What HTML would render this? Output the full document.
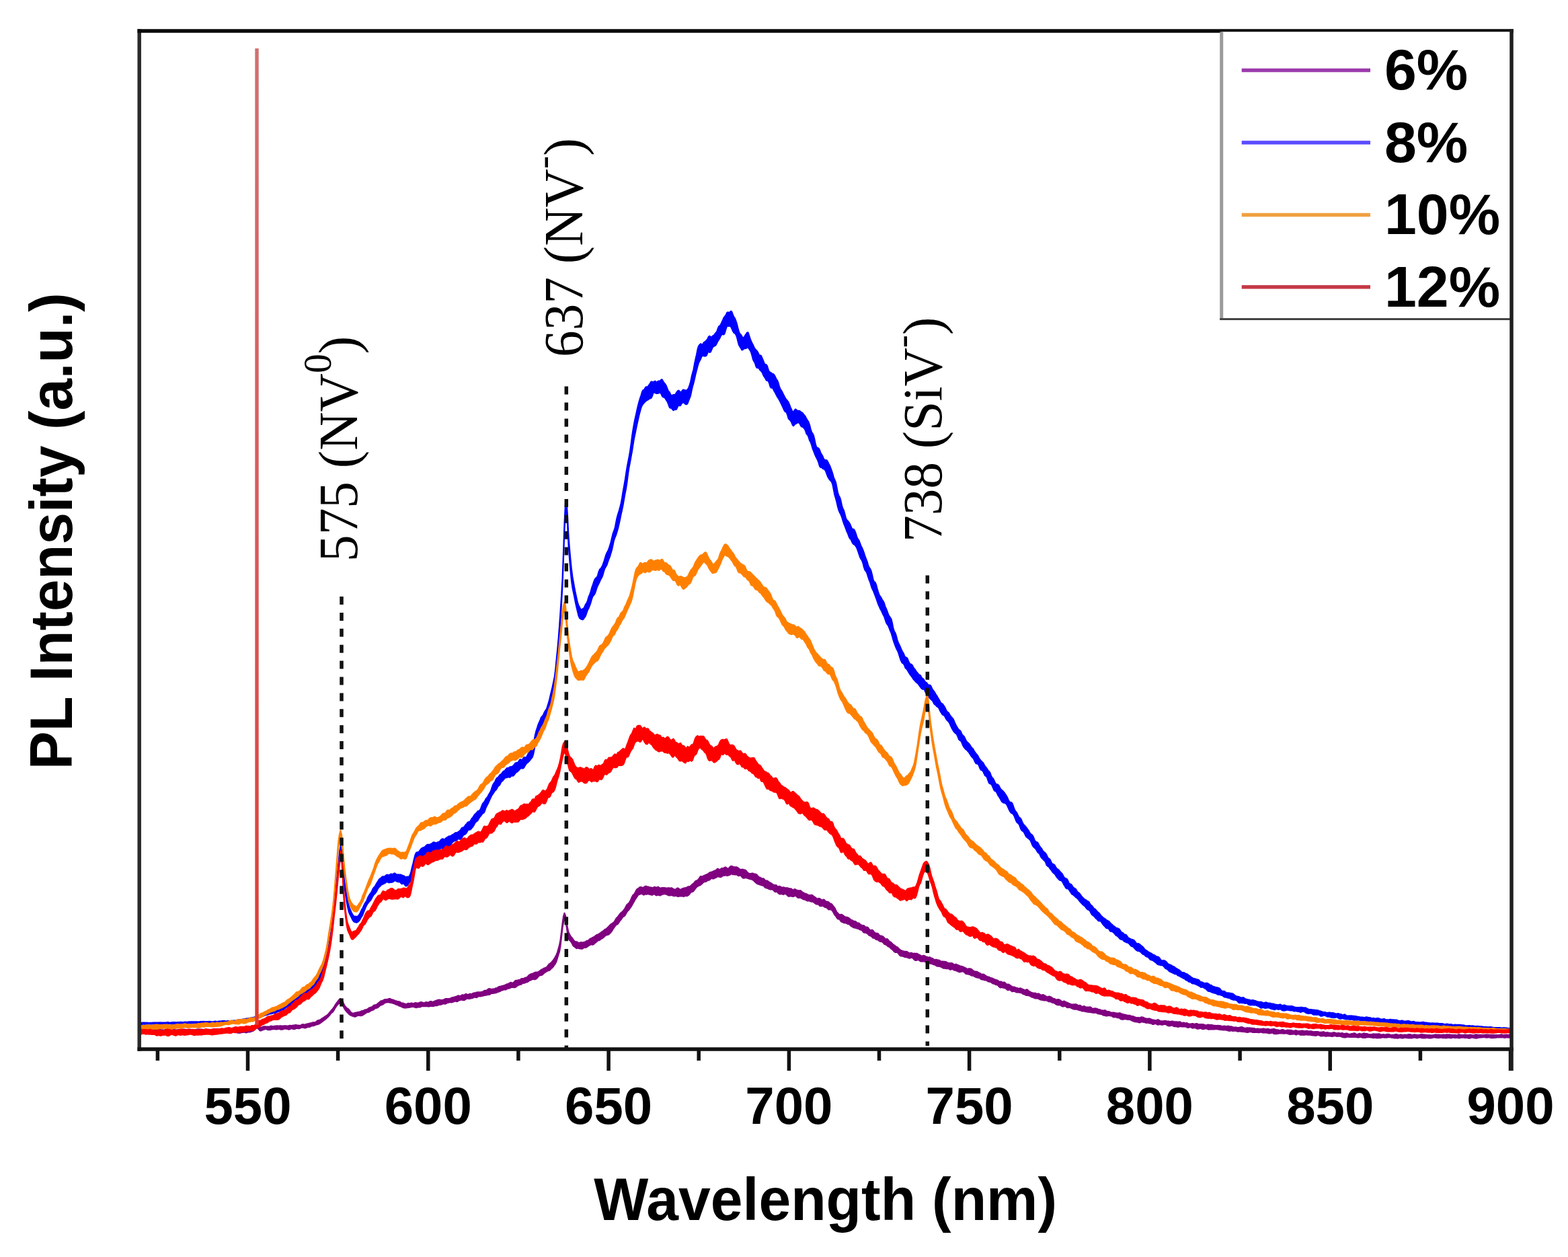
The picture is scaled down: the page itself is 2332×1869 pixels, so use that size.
<!DOCTYPE html>
<html><head><meta charset="utf-8"><title>PL spectra</title>
<style>html,body{margin:0;padding:0;background:#fff;}body{width:2332px;height:1869px;overflow:hidden;}svg{display:block;}</style>
</head><body>
<svg width="2332" height="1869" viewBox="0 0 2332 1869">
<rect width="2332" height="1869" fill="#fff"/>
<path d="M208.0 1530.7 209.5 1530.5 211.0 1530.7 212.5 1531.2 214.0 1531.1 215.5 1531.0 217.0 1531.1 218.5 1530.8 220.0 1530.6 221.5 1531.0 223.0 1531.3 224.5 1531.4 226.0 1531.3 227.5 1531.1 229.0 1531.0 230.5 1530.7 232.0 1530.3 233.5 1530.4 235.0 1530.5 236.5 1530.6 238.0 1531.1 239.5 1531.3 241.0 1531.2 242.5 1531.5 244.0 1531.6 245.5 1531.2 247.0 1530.8 248.5 1530.5 250.0 1530.6 251.5 1530.9 253.0 1531.0 254.5 1531.4 256.0 1531.6 257.5 1531.3 259.0 1531.0 260.5 1531.2 262.0 1531.4 263.5 1531.3 265.0 1531.0 266.5 1531.2 268.0 1531.1 269.5 1530.6 271.0 1530.5 272.5 1530.5 274.0 1530.5 275.5 1530.8 277.0 1531.1 278.5 1531.0 280.0 1530.7 281.5 1530.6 283.0 1530.8 284.5 1531.1 286.0 1531.3 287.5 1531.3 289.0 1531.3 290.5 1531.1 292.0 1530.8 293.5 1530.6 295.0 1530.4 296.5 1530.5 298.0 1530.6 299.5 1530.6 301.0 1530.8 302.5 1531.1 304.0 1531.2 305.5 1531.2 307.0 1531.3 308.5 1531.0 310.0 1530.7 311.5 1530.8 313.0 1530.9 314.5 1530.7 316.0 1530.5 317.5 1530.6 319.0 1530.9 320.5 1530.4 322.0 1530.0 323.5 1530.1 325.0 1530.7 326.5 1531.3 328.0 1531.1 329.5 1530.5 331.0 1530.7 332.5 1530.9 334.0 1530.5 335.5 1530.4 337.0 1530.7 338.5 1530.9 340.0 1531.1 341.5 1531.3 343.0 1531.2 344.5 1530.6 346.0 1530.6 347.5 1530.8 349.0 1530.8 350.5 1530.8 352.0 1531.2 353.5 1531.4 355.0 1531.5 356.5 1531.1 358.0 1530.4 359.5 1530.4 361.0 1530.7 362.5 1530.6 364.0 1530.4 365.5 1530.7 367.0 1530.6 368.5 1530.5 370.0 1530.5 371.5 1530.0 373.0 1529.2 374.5 1528.9 376.0 1528.6 377.5 1527.6 379.0 1526.1 380.5 1524.2 382.0 1523.4 383.5 1524.6 385.0 1525.8 386.5 1527.0 388.0 1528.0 389.5 1527.5 391.0 1526.7 392.5 1526.3 394.0 1526.2 395.5 1526.5 397.0 1526.6 398.5 1526.5 400.0 1526.5 401.5 1526.1 403.0 1525.5 404.5 1525.7 406.0 1526.1 407.5 1526.0 409.0 1525.5 410.5 1525.4 412.0 1525.3 413.5 1525.5 415.0 1525.5 416.5 1525.2 418.0 1525.2 419.5 1525.5 421.0 1525.4 422.5 1525.2 424.0 1525.2 425.5 1525.3 427.0 1525.6 428.5 1525.6 430.0 1525.0 431.5 1524.8 433.0 1524.9 434.5 1524.7 436.0 1524.4 437.5 1524.4 439.0 1524.1 440.5 1524.0 442.0 1524.4 443.5 1524.6 445.0 1524.8 446.5 1524.8 448.0 1524.2 449.5 1523.2 451.0 1523.1 452.5 1523.5 454.0 1523.2 455.5 1522.8 457.0 1522.4 458.5 1522.1 460.0 1521.8 461.5 1521.2 463.0 1520.9 464.5 1520.5 466.0 1520.2 467.5 1520.3 469.0 1520.0 470.5 1518.9 472.0 1517.7 473.5 1516.9 475.0 1516.7 476.5 1516.3 478.0 1515.1 479.5 1513.9 481.0 1513.1 482.5 1512.0 484.0 1510.9 485.5 1510.2 487.0 1509.2 488.5 1507.5 490.0 1505.6 491.5 1503.8 493.0 1502.0 494.5 1500.3 496.0 1498.4 497.5 1496.1 499.0 1493.6 500.5 1491.3 502.0 1489.5 503.5 1487.4 505.0 1485.5 506.5 1485.0 508.0 1485.9 509.5 1488.5 511.0 1492.0 512.5 1495.0 514.0 1496.9 515.5 1498.6 517.0 1499.7 518.5 1500.7 520.0 1502.7 521.5 1504.8 523.0 1505.9 524.5 1506.5 526.0 1506.7 527.5 1506.0 529.0 1505.6 530.5 1505.6 532.0 1504.9 533.5 1504.7 535.0 1504.7 536.5 1503.8 538.0 1503.1 539.5 1503.1 541.0 1502.4 542.5 1501.5 544.0 1501.2 545.5 1500.9 547.0 1500.0 548.5 1498.9 550.0 1498.1 551.5 1497.7 553.0 1497.3 554.5 1496.1 556.0 1494.8 557.5 1494.2 559.0 1494.2 560.5 1493.4 562.0 1491.9 563.5 1490.9 565.0 1489.5 566.5 1488.3 568.0 1488.0 569.5 1487.6 571.0 1486.6 572.5 1486.0 574.0 1486.0 575.5 1485.9 577.0 1485.6 578.5 1485.0 580.0 1484.8 581.5 1485.6 583.0 1486.1 584.5 1486.5 586.0 1487.2 587.5 1487.9 589.0 1488.2 590.5 1488.8 592.0 1489.3 593.5 1489.3 595.0 1489.8 596.5 1491.0 598.0 1491.4 599.5 1491.5 601.0 1492.2 602.5 1492.8 604.0 1493.0 605.5 1492.5 607.0 1491.8 608.5 1492.1 610.0 1492.1 611.5 1491.4 613.0 1491.6 614.5 1492.1 616.0 1491.7 617.5 1491.1 619.0 1491.2 620.5 1491.4 622.0 1491.5 623.5 1490.9 625.0 1490.2 626.5 1490.1 628.0 1490.4 629.5 1491.0 631.0 1491.2 632.5 1490.4 634.0 1490.0 635.5 1490.5 637.0 1490.4 638.5 1489.7 640.0 1488.9 641.5 1489.0 643.0 1489.8 644.5 1489.6 646.0 1488.6 647.5 1488.1 649.0 1487.7 650.5 1487.0 652.0 1486.7 653.5 1486.6 655.0 1486.8 656.5 1486.9 658.0 1486.9 659.5 1486.6 661.0 1485.8 662.5 1485.0 664.0 1485.0 665.5 1485.1 667.0 1485.0 668.5 1484.9 670.0 1484.5 671.5 1483.5 673.0 1483.1 674.5 1483.0 676.0 1482.4 677.5 1481.9 679.0 1481.6 680.5 1480.8 682.0 1480.3 683.5 1481.0 685.0 1480.9 686.5 1479.7 688.0 1479.2 689.5 1479.6 691.0 1478.9 692.5 1478.0 694.0 1478.1 695.5 1479.0 697.0 1478.7 698.5 1477.7 700.0 1478.0 701.5 1478.0 703.0 1477.1 704.5 1476.5 706.0 1476.2 707.5 1476.0 709.0 1475.5 710.5 1475.3 712.0 1475.2 713.5 1475.2 715.0 1475.1 716.5 1474.9 718.0 1474.5 719.5 1473.5 721.0 1472.7 722.5 1472.8 724.0 1472.5 725.5 1471.0 727.0 1470.0 728.5 1470.2 730.0 1470.7 731.5 1470.8 733.0 1470.6 734.5 1470.6 736.0 1470.0 737.5 1469.2 739.0 1469.0 740.5 1468.2 742.0 1466.9 743.5 1466.7 745.0 1466.7 746.5 1466.0 748.0 1465.6 749.5 1465.2 751.0 1464.7 752.5 1464.0 754.0 1463.2 755.5 1462.9 757.0 1462.3 758.5 1461.2 760.0 1460.8 761.5 1461.5 763.0 1461.6 764.5 1460.4 766.0 1458.4 767.5 1457.8 769.0 1457.9 770.5 1457.3 772.0 1457.1 773.5 1456.7 775.0 1455.5 776.5 1454.9 778.0 1455.2 779.5 1454.6 781.0 1453.7 782.5 1453.6 784.0 1452.9 785.5 1451.3 787.0 1449.7 788.5 1448.8 790.0 1448.2 791.5 1447.7 793.0 1447.1 794.5 1446.4 796.0 1445.8 797.5 1445.6 799.0 1445.8 800.5 1445.2 802.0 1444.1 803.5 1443.2 805.0 1441.8 806.5 1441.1 808.0 1440.5 809.5 1439.4 811.0 1439.0 812.5 1438.3 814.0 1436.9 815.5 1434.8 817.0 1433.2 818.5 1432.3 820.0 1431.1 821.5 1429.2 823.0 1427.3 824.5 1425.2 826.0 1422.5 827.5 1419.7 829.0 1415.8 830.5 1410.4 832.0 1405.1 833.5 1397.2 835.0 1385.3 836.5 1372.8 838.0 1362.2 839.5 1357.6 841.0 1361.3 842.5 1369.8 844.0 1379.3 845.5 1386.0 847.0 1389.1 848.5 1391.8 850.0 1393.6 851.5 1395.4 853.0 1397.5 854.5 1399.5 856.0 1400.3 857.5 1400.3 859.0 1400.9 860.5 1402.1 862.0 1401.9 863.5 1401.1 865.0 1401.3 866.5 1401.6 868.0 1401.0 869.5 1400.8 871.0 1400.1 872.5 1398.9 874.0 1398.7 875.5 1397.9 877.0 1396.3 878.5 1395.5 880.0 1394.8 881.5 1393.9 883.0 1393.3 884.5 1392.3 886.0 1390.9 887.5 1390.0 889.0 1389.5 890.5 1388.9 892.0 1387.9 893.5 1386.7 895.0 1385.4 896.5 1384.7 898.0 1383.5 899.5 1382.0 901.0 1381.3 902.5 1380.4 904.0 1378.8 905.5 1377.5 907.0 1375.7 908.5 1374.3 910.0 1373.3 911.5 1372.2 913.0 1371.4 914.5 1369.1 916.0 1366.2 917.5 1364.5 919.0 1362.9 920.5 1360.8 922.0 1358.8 923.5 1357.3 925.0 1356.0 926.5 1354.7 928.0 1352.7 929.5 1350.5 931.0 1347.6 932.5 1345.0 934.0 1343.8 935.5 1342.5 937.0 1340.1 938.5 1336.9 940.0 1333.3 941.5 1330.9 943.0 1329.7 944.5 1327.3 946.0 1324.1 947.5 1322.0 949.0 1321.0 950.5 1320.1 952.0 1318.9 953.5 1318.9 955.0 1319.4 956.5 1319.7 958.0 1319.0 959.5 1317.8 961.0 1317.8 962.5 1318.3 964.0 1318.4 965.5 1319.0 967.0 1319.4 968.5 1319.5 970.0 1320.1 971.5 1319.8 973.0 1318.7 974.5 1319.0 976.0 1319.9 977.5 1319.1 979.0 1318.6 980.5 1319.9 982.0 1320.6 983.5 1320.2 985.0 1320.1 986.5 1320.0 988.0 1320.0 989.5 1320.2 991.0 1320.6 992.5 1320.5 994.0 1320.1 995.5 1320.4 997.0 1320.5 998.5 1320.1 1000.0 1320.9 1001.5 1321.9 1003.0 1322.3 1004.5 1322.5 1006.0 1321.5 1007.5 1320.4 1009.0 1320.8 1010.5 1322.3 1012.0 1322.9 1013.5 1322.0 1015.0 1321.1 1016.5 1320.7 1018.0 1320.2 1019.5 1320.1 1021.0 1319.8 1022.5 1318.7 1024.0 1318.2 1025.5 1318.2 1027.0 1317.5 1028.5 1315.8 1030.0 1314.5 1031.5 1313.5 1033.0 1311.5 1034.5 1309.9 1036.0 1309.4 1037.5 1308.6 1039.0 1307.1 1040.5 1304.7 1042.0 1303.0 1043.5 1303.3 1045.0 1303.3 1046.5 1302.1 1048.0 1301.4 1049.5 1301.0 1051.0 1300.2 1052.5 1299.7 1054.0 1298.6 1055.5 1297.3 1057.0 1297.1 1058.5 1296.5 1060.0 1295.9 1061.5 1295.1 1063.0 1294.4 1064.5 1294.1 1066.0 1292.6 1067.5 1291.6 1069.0 1292.5 1070.5 1293.1 1072.0 1292.0 1073.5 1290.9 1075.0 1290.9 1076.5 1290.8 1078.0 1289.5 1079.5 1289.5 1081.0 1290.9 1082.5 1291.5 1084.0 1290.9 1085.5 1289.1 1087.0 1287.8 1088.5 1287.9 1090.0 1288.7 1091.5 1289.1 1093.0 1289.3 1094.5 1289.3 1096.0 1289.3 1097.5 1290.3 1099.0 1291.6 1100.5 1292.5 1102.0 1293.1 1103.5 1292.6 1105.0 1292.7 1106.5 1293.5 1108.0 1293.5 1109.5 1294.3 1111.0 1296.3 1112.5 1298.0 1114.0 1298.7 1115.5 1299.0 1117.0 1299.0 1118.5 1298.5 1120.0 1298.6 1121.5 1299.4 1123.0 1299.6 1124.5 1299.9 1126.0 1301.0 1127.5 1303.0 1129.0 1304.4 1130.5 1304.4 1132.0 1305.7 1133.5 1306.6 1135.0 1306.1 1136.5 1307.0 1138.0 1309.0 1139.5 1309.4 1141.0 1309.4 1142.5 1310.5 1144.0 1311.7 1145.5 1312.5 1147.0 1313.2 1148.5 1314.3 1150.0 1315.5 1151.5 1316.2 1153.0 1315.9 1154.5 1316.1 1156.0 1317.9 1157.5 1318.4 1159.0 1317.7 1160.5 1318.3 1162.0 1319.2 1163.5 1319.4 1165.0 1319.3 1166.5 1319.6 1168.0 1320.2 1169.5 1320.2 1171.0 1320.1 1172.5 1320.7 1174.0 1321.3 1175.5 1321.2 1177.0 1321.5 1178.5 1322.9 1180.0 1323.2 1181.5 1322.1 1183.0 1322.4 1184.5 1323.6 1186.0 1323.8 1187.5 1324.3 1189.0 1324.3 1190.5 1324.1 1192.0 1325.2 1193.5 1326.5 1195.0 1327.4 1196.5 1328.3 1198.0 1328.8 1199.5 1329.2 1201.0 1330.2 1202.5 1330.7 1204.0 1330.9 1205.5 1331.1 1207.0 1330.7 1208.5 1331.1 1210.0 1332.7 1211.5 1333.6 1213.0 1334.5 1214.5 1336.2 1216.0 1336.4 1217.5 1335.7 1219.0 1336.0 1220.5 1337.1 1222.0 1338.3 1223.5 1338.1 1225.0 1337.4 1226.5 1338.4 1228.0 1340.2 1229.5 1340.7 1231.0 1340.6 1232.5 1341.3 1234.0 1342.9 1235.5 1343.7 1237.0 1344.2 1238.5 1346.3 1240.0 1348.2 1241.5 1349.9 1243.0 1353.2 1244.5 1356.1 1246.0 1357.7 1247.5 1359.3 1249.0 1360.2 1250.5 1359.8 1252.0 1359.7 1253.5 1360.8 1255.0 1362.2 1256.5 1363.2 1258.0 1363.5 1259.5 1363.7 1261.0 1364.3 1262.5 1364.9 1264.0 1366.3 1265.5 1367.6 1267.0 1368.0 1268.5 1368.9 1270.0 1369.9 1271.5 1369.8 1273.0 1370.4 1274.5 1371.9 1276.0 1372.3 1277.5 1372.6 1279.0 1374.0 1280.5 1375.3 1282.0 1375.8 1283.5 1375.9 1285.0 1376.3 1286.5 1377.7 1288.0 1378.8 1289.5 1378.5 1291.0 1379.2 1292.5 1381.5 1294.0 1383.0 1295.5 1383.1 1297.0 1382.6 1298.5 1383.5 1300.0 1385.8 1301.5 1387.1 1303.0 1387.7 1304.5 1387.6 1306.0 1388.2 1307.5 1390.3 1309.0 1391.5 1310.5 1391.6 1312.0 1391.9 1313.5 1392.7 1315.0 1394.3 1316.5 1396.0 1318.0 1396.2 1319.5 1396.0 1321.0 1397.5 1322.5 1399.5 1324.0 1400.4 1325.5 1401.4 1327.0 1403.0 1328.5 1404.4 1330.0 1405.3 1331.5 1406.7 1333.0 1407.7 1334.5 1408.2 1336.0 1409.6 1337.5 1411.4 1339.0 1412.4 1340.5 1413.1 1342.0 1413.8 1343.5 1414.4 1345.0 1414.6 1346.5 1414.7 1348.0 1414.8 1349.5 1415.2 1351.0 1416.3 1352.5 1417.3 1354.0 1416.9 1355.5 1416.7 1357.0 1417.5 1358.5 1417.7 1360.0 1417.6 1361.5 1417.9 1363.0 1417.6 1364.5 1418.0 1366.0 1419.1 1367.5 1419.7 1369.0 1420.7 1370.5 1421.5 1372.0 1421.2 1373.5 1420.7 1375.0 1421.1 1376.5 1422.1 1378.0 1422.5 1379.5 1423.1 1381.0 1423.7 1382.5 1423.1 1384.0 1423.8 1385.5 1424.9 1387.0 1425.1 1388.5 1426.4 1390.0 1427.4 1391.5 1426.8 1393.0 1426.8 1394.5 1427.5 1396.0 1427.4 1397.5 1428.1 1399.0 1429.4 1400.5 1429.5 1402.0 1429.6 1403.5 1429.8 1405.0 1429.8 1406.5 1429.9 1408.0 1430.6 1409.5 1431.6 1411.0 1432.0 1412.5 1432.1 1414.0 1432.1 1415.5 1431.9 1417.0 1432.6 1418.5 1434.1 1420.0 1434.3 1421.5 1433.6 1423.0 1434.1 1424.5 1435.0 1426.0 1435.4 1427.5 1436.2 1429.0 1436.8 1430.5 1436.8 1432.0 1437.5 1433.5 1438.2 1435.0 1438.8 1436.5 1439.5 1438.0 1440.5 1439.5 1440.7 1441.0 1440.2 1442.5 1440.3 1444.0 1440.7 1445.5 1441.5 1447.0 1442.9 1448.5 1444.0 1450.0 1444.5 1451.5 1444.6 1453.0 1444.7 1454.5 1445.7 1456.0 1446.4 1457.5 1447.0 1459.0 1448.2 1460.5 1448.9 1462.0 1448.5 1463.5 1448.9 1465.0 1450.0 1466.5 1451.0 1468.0 1452.1 1469.5 1452.4 1471.0 1452.7 1472.5 1453.7 1474.0 1454.2 1475.5 1454.3 1477.0 1455.1 1478.5 1456.0 1480.0 1456.5 1481.5 1457.0 1483.0 1457.3 1484.5 1458.4 1486.0 1459.6 1487.5 1459.6 1489.0 1459.5 1490.5 1460.4 1492.0 1460.7 1493.5 1460.4 1495.0 1461.4 1496.5 1463.2 1498.0 1463.6 1499.5 1463.5 1501.0 1464.0 1502.5 1465.1 1504.0 1466.2 1505.5 1467.2 1507.0 1467.4 1508.5 1467.4 1510.0 1468.1 1511.5 1468.6 1513.0 1469.0 1514.5 1469.8 1516.0 1469.8 1517.5 1469.2 1519.0 1469.9 1520.5 1470.7 1522.0 1471.1 1523.5 1472.1 1525.0 1472.2 1526.5 1471.3 1528.0 1471.5 1529.5 1472.9 1531.0 1474.2 1532.5 1475.0 1534.0 1475.6 1535.5 1476.1 1537.0 1476.6 1538.5 1476.7 1540.0 1476.6 1541.5 1477.5 1543.0 1477.7 1544.5 1477.3 1546.0 1478.1 1547.5 1479.2 1549.0 1479.5 1550.5 1479.1 1552.0 1479.3 1553.5 1480.0 1555.0 1480.9 1556.5 1482.0 1558.0 1482.3 1559.5 1481.8 1561.0 1481.6 1562.5 1482.1 1564.0 1483.0 1565.5 1484.2 1567.0 1484.9 1568.5 1485.0 1570.0 1486.1 1571.5 1486.6 1573.0 1486.0 1574.5 1485.9 1576.0 1486.6 1577.5 1487.8 1579.0 1489.1 1580.5 1489.4 1582.0 1488.6 1583.5 1488.8 1585.0 1489.9 1586.5 1490.3 1588.0 1491.0 1589.5 1491.8 1591.0 1492.4 1592.5 1493.1 1594.0 1493.4 1595.5 1493.4 1597.0 1493.3 1598.5 1493.3 1600.0 1493.2 1601.5 1493.6 1603.0 1494.8 1604.5 1495.1 1606.0 1494.7 1607.5 1495.5 1609.0 1496.8 1610.5 1496.7 1612.0 1495.9 1613.5 1496.5 1615.0 1497.6 1616.5 1497.6 1618.0 1497.6 1619.5 1497.6 1621.0 1497.2 1622.5 1497.7 1624.0 1499.3 1625.5 1500.0 1627.0 1499.5 1628.5 1499.2 1630.0 1499.4 1631.5 1499.8 1633.0 1500.5 1634.5 1501.1 1636.0 1501.3 1637.5 1501.9 1639.0 1502.2 1640.5 1502.5 1642.0 1502.4 1643.5 1502.0 1645.0 1503.0 1646.5 1504.1 1648.0 1504.0 1649.5 1504.1 1651.0 1505.0 1652.5 1505.6 1654.0 1505.8 1655.5 1505.6 1657.0 1505.6 1658.5 1506.0 1660.0 1506.3 1661.5 1506.5 1663.0 1506.7 1664.5 1506.3 1666.0 1506.3 1667.5 1507.3 1669.0 1507.7 1670.5 1507.9 1672.0 1508.4 1673.5 1508.7 1675.0 1509.1 1676.5 1509.5 1678.0 1509.8 1679.5 1509.8 1681.0 1510.1 1682.5 1510.9 1684.0 1510.9 1685.5 1511.2 1687.0 1511.9 1688.5 1512.5 1690.0 1513.1 1691.5 1513.0 1693.0 1513.0 1694.5 1513.3 1696.0 1512.9 1697.5 1512.3 1699.0 1512.4 1700.5 1512.8 1702.0 1513.7 1703.5 1514.3 1705.0 1514.4 1706.5 1514.7 1708.0 1514.5 1709.5 1514.4 1711.0 1515.0 1712.5 1515.8 1714.0 1516.3 1715.5 1516.4 1717.0 1516.8 1718.5 1517.3 1720.0 1517.1 1721.5 1516.2 1723.0 1516.3 1724.5 1517.5 1726.0 1518.2 1727.5 1518.2 1729.0 1518.3 1730.5 1518.2 1732.0 1517.8 1733.5 1517.9 1735.0 1518.3 1736.5 1518.5 1738.0 1518.4 1739.5 1518.7 1741.0 1518.9 1742.5 1518.6 1744.0 1518.5 1745.5 1518.9 1747.0 1519.2 1748.5 1519.2 1750.0 1519.2 1751.5 1519.5 1753.0 1519.6 1754.5 1519.3 1756.0 1519.9 1757.5 1521.0 1759.0 1520.9 1760.5 1520.5 1762.0 1521.2 1763.5 1521.2 1765.0 1520.9 1766.5 1521.8 1768.0 1522.4 1769.5 1522.5 1771.0 1522.5 1772.5 1522.1 1774.0 1522.0 1775.5 1522.6 1777.0 1522.7 1778.5 1522.1 1780.0 1521.9 1781.5 1522.7 1783.0 1523.3 1784.5 1523.1 1786.0 1523.0 1787.5 1523.0 1789.0 1523.0 1790.5 1523.4 1792.0 1523.9 1793.5 1524.2 1795.0 1523.9 1796.5 1523.5 1798.0 1523.8 1799.5 1524.1 1801.0 1523.7 1802.5 1523.9 1804.0 1524.6 1805.5 1524.7 1807.0 1524.7 1808.5 1525.1 1810.0 1525.0 1811.5 1524.8 1813.0 1524.9 1814.5 1524.9 1816.0 1525.4 1817.5 1525.9 1819.0 1525.8 1820.5 1525.6 1822.0 1525.8 1823.5 1526.0 1825.0 1525.9 1826.5 1525.5 1828.0 1525.9 1829.5 1526.5 1831.0 1526.2 1832.5 1526.6 1834.0 1527.4 1835.5 1527.6 1837.0 1527.6 1838.5 1527.6 1840.0 1527.8 1841.5 1527.9 1843.0 1527.8 1844.5 1527.4 1846.0 1527.0 1847.5 1527.2 1849.0 1527.9 1850.5 1528.4 1852.0 1528.9 1853.5 1528.5 1855.0 1528.1 1856.5 1528.5 1858.0 1528.3 1859.5 1528.4 1861.0 1528.8 1862.5 1528.8 1864.0 1528.9 1865.5 1529.0 1867.0 1529.7 1868.5 1529.9 1870.0 1529.4 1871.5 1529.7 1873.0 1530.1 1874.5 1530.0 1876.0 1530.0 1877.5 1529.8 1879.0 1529.4 1880.5 1529.8 1882.0 1530.4 1883.5 1530.1 1885.0 1529.7 1886.5 1530.0 1888.0 1530.4 1889.5 1530.7 1891.0 1530.4 1892.5 1530.2 1894.0 1530.1 1895.5 1530.1 1897.0 1530.6 1898.5 1531.2 1900.0 1531.3 1901.5 1531.6 1903.0 1531.9 1904.5 1531.7 1906.0 1531.3 1907.5 1531.0 1909.0 1531.3 1910.5 1532.2 1912.0 1532.5 1913.5 1532.0 1915.0 1531.5 1916.5 1531.7 1918.0 1531.8 1919.5 1531.7 1921.0 1531.9 1922.5 1532.6 1924.0 1533.0 1925.5 1532.4 1927.0 1532.0 1928.5 1532.5 1930.0 1533.1 1931.5 1533.1 1933.0 1532.9 1934.5 1532.8 1936.0 1532.5 1937.5 1532.5 1939.0 1533.1 1940.5 1533.3 1942.0 1532.9 1943.5 1532.7 1945.0 1533.0 1946.5 1533.2 1948.0 1533.3 1949.5 1533.3 1951.0 1533.4 1952.5 1534.1 1954.0 1534.3 1955.5 1534.0 1957.0 1534.0 1958.5 1533.9 1960.0 1534.0 1961.5 1534.6 1963.0 1534.8 1964.5 1534.8 1966.0 1534.8 1967.5 1534.3 1969.0 1534.3 1970.5 1535.2 1972.0 1535.4 1973.5 1535.0 1975.0 1535.3 1976.5 1535.8 1978.0 1535.8 1979.5 1535.9 1981.0 1535.8 1982.5 1535.4 1984.0 1535.1 1985.5 1535.5 1987.0 1536.2 1988.5 1536.3 1990.0 1535.9 1991.5 1535.9 1993.0 1536.5 1994.5 1536.3 1996.0 1536.0 1997.5 1536.5 1999.0 1536.9 2000.5 1536.8 2002.0 1536.6 2003.5 1536.6 2005.0 1537.2 2006.5 1537.7 2008.0 1537.5 2009.5 1537.1 2011.0 1537.0 2012.5 1536.6 2014.0 1536.3 2015.5 1536.6 2017.0 1537.6 2018.5 1538.0 2020.0 1537.5 2021.5 1536.8 2023.0 1537.1 2024.5 1537.6 2026.0 1537.2 2027.5 1536.6 2029.0 1536.6 2030.5 1536.8 2032.0 1536.9 2033.5 1537.1 2035.0 1537.8 2036.5 1538.0 2038.0 1537.9 2039.5 1538.0 2041.0 1537.8 2042.5 1537.3 2044.0 1537.5 2045.5 1537.5 2047.0 1537.5 2048.5 1537.6 2050.0 1537.3 2051.5 1537.3 2053.0 1538.0 2054.5 1538.4 2056.0 1538.3 2057.5 1538.0 2059.0 1538.4 2060.5 1538.6 2062.0 1537.9 2063.5 1537.7 2065.0 1537.8 2066.5 1538.1 2068.0 1538.8 2069.5 1538.9 2071.0 1538.7 2072.5 1538.8 2074.0 1538.4 2075.5 1538.0 2077.0 1538.0 2078.5 1538.4 2080.0 1538.9 2081.5 1538.7 2083.0 1538.3 2084.5 1538.6 2086.0 1538.9 2087.5 1538.7 2089.0 1538.4 2090.5 1538.7 2092.0 1538.8 2093.5 1538.4 2095.0 1538.1 2096.5 1537.9 2098.0 1538.2 2099.5 1538.9 2101.0 1539.0 2102.5 1538.4 2104.0 1538.3 2105.5 1538.8 2107.0 1538.8 2108.5 1538.9 2110.0 1538.9 2111.5 1538.6 2113.0 1538.3 2114.5 1538.1 2116.0 1538.3 2117.5 1538.6 2119.0 1538.6 2120.5 1538.7 2122.0 1538.9 2123.5 1538.9 2125.0 1538.9 2126.5 1539.1 2128.0 1539.3 2129.5 1539.3 2131.0 1539.1 2132.5 1538.8 2134.0 1538.4 2135.5 1538.3 2137.0 1538.7 2138.5 1538.5 2140.0 1538.4 2141.5 1538.7 2143.0 1538.8 2144.5 1538.7 2146.0 1538.4 2147.5 1538.4 2149.0 1538.7 2150.5 1538.4 2152.0 1538.3 2153.5 1538.4 2155.0 1538.3 2156.5 1538.5 2158.0 1538.7 2159.5 1538.8 2161.0 1538.9 2162.5 1538.8 2164.0 1538.8 2165.5 1539.2 2167.0 1539.2 2168.5 1538.6 2170.0 1538.3 2171.5 1538.6 2173.0 1538.8 2174.5 1539.0 2176.0 1539.1 2177.5 1538.8 2179.0 1538.6 2180.5 1538.7 2182.0 1538.9 2183.5 1539.0 2185.0 1538.7 2186.5 1538.6 2188.0 1538.7 2189.5 1539.0 2191.0 1539.2 2192.5 1538.9 2194.0 1538.5 2195.5 1538.2 2197.0 1538.4 2198.5 1538.9 2200.0 1538.8 2201.5 1538.8 2203.0 1538.8 2204.5 1538.9 2206.0 1539.0 2207.5 1538.8 2209.0 1538.6 2210.5 1538.5 2212.0 1538.4 2213.5 1538.6 2215.0 1538.7 2216.5 1538.7 2218.0 1538.7 2219.5 1538.7 2221.0 1538.7 2222.5 1538.9 2224.0 1539.1 2225.5 1539.0 2227.0 1539.0 2228.5 1539.1 2230.0 1539.0 2231.5 1538.5 2233.0 1538.2 2234.5 1538.7 2236.0 1539.0 2237.5 1538.8 2239.0 1538.7 2240.5 1538.5 2242.0 1538.8 2243.5 1538.8 2245.0 1538.6 2245.0 1542.8 2243.5 1542.8 2242.0 1542.5 2240.5 1542.5 2239.0 1542.9 2237.5 1542.9 2236.0 1542.6 2234.5 1542.4 2233.0 1542.4 2231.5 1542.5 2230.0 1542.6 2228.5 1542.4 2227.0 1542.3 2225.5 1542.8 2224.0 1543.0 2222.5 1543.1 2221.0 1543.2 2219.5 1543.2 2218.0 1543.2 2216.5 1542.9 2215.0 1542.4 2213.5 1542.4 2212.0 1542.8 2210.5 1542.7 2209.0 1542.4 2207.5 1542.3 2206.0 1542.2 2204.5 1542.4 2203.0 1542.6 2201.5 1542.7 2200.0 1542.8 2198.5 1543.1 2197.0 1543.5 2195.5 1543.8 2194.0 1543.6 2192.5 1543.3 2191.0 1542.9 2189.5 1542.6 2188.0 1542.8 2186.5 1543.5 2185.0 1543.9 2183.5 1543.5 2182.0 1542.9 2180.5 1543.1 2179.0 1543.3 2177.5 1542.7 2176.0 1542.6 2174.5 1542.7 2173.0 1542.8 2171.5 1543.2 2170.0 1543.6 2168.5 1543.2 2167.0 1542.7 2165.5 1543.0 2164.0 1543.2 2162.5 1542.7 2161.0 1542.4 2159.5 1543.0 2158.0 1543.5 2156.5 1543.3 2155.0 1543.0 2153.5 1543.1 2152.0 1543.3 2150.5 1543.4 2149.0 1543.2 2147.5 1543.1 2146.0 1543.3 2144.5 1543.0 2143.0 1542.6 2141.5 1543.0 2140.0 1543.2 2138.5 1543.2 2137.0 1543.0 2135.5 1542.9 2134.0 1542.6 2132.5 1542.4 2131.0 1542.7 2129.5 1543.3 2128.0 1543.6 2126.5 1543.6 2125.0 1543.5 2123.5 1543.0 2122.0 1542.7 2120.5 1543.2 2119.0 1543.4 2117.5 1543.4 2116.0 1543.6 2114.5 1543.3 2113.0 1542.7 2111.5 1542.4 2110.0 1542.7 2108.5 1543.4 2107.0 1543.4 2105.5 1543.1 2104.0 1542.8 2102.5 1542.8 2101.0 1543.2 2099.5 1543.5 2098.0 1543.4 2096.5 1543.5 2095.0 1543.4 2093.5 1543.3 2092.0 1543.3 2090.5 1542.7 2089.0 1542.8 2087.5 1543.4 2086.0 1543.5 2084.5 1543.5 2083.0 1543.0 2081.5 1542.8 2080.0 1543.4 2078.5 1543.7 2077.0 1543.6 2075.5 1543.5 2074.0 1543.5 2072.5 1543.1 2071.0 1542.9 2069.5 1542.8 2068.0 1542.3 2066.5 1542.1 2065.0 1542.3 2063.5 1542.6 2062.0 1542.7 2060.5 1542.8 2059.0 1542.8 2057.5 1542.4 2056.0 1542.2 2054.5 1542.8 2053.0 1543.2 2051.5 1543.2 2050.0 1543.2 2048.5 1543.4 2047.0 1543.2 2045.5 1542.9 2044.0 1543.1 2042.5 1543.3 2041.0 1542.9 2039.5 1542.6 2038.0 1542.4 2036.5 1542.3 2035.0 1542.3 2033.5 1542.2 2032.0 1542.6 2030.5 1543.1 2029.0 1543.1 2027.5 1543.0 2026.0 1542.7 2024.5 1542.1 2023.0 1542.0 2021.5 1542.4 2020.0 1542.6 2018.5 1542.5 2017.0 1542.0 2015.5 1541.7 2014.0 1541.9 2012.5 1542.1 2011.0 1542.0 2009.5 1541.8 2008.0 1542.0 2006.5 1542.0 2005.0 1541.7 2003.5 1541.7 2002.0 1542.4 2000.5 1542.6 1999.0 1542.5 1997.5 1542.2 1996.0 1541.8 1994.5 1541.3 1993.0 1540.8 1991.5 1540.5 1990.0 1540.8 1988.5 1541.1 1987.0 1540.6 1985.5 1540.1 1984.0 1540.3 1982.5 1540.8 1981.0 1541.1 1979.5 1540.8 1978.0 1540.5 1976.5 1540.5 1975.0 1540.5 1973.5 1540.6 1972.0 1540.9 1970.5 1540.5 1969.0 1540.0 1967.5 1540.2 1966.0 1540.5 1964.5 1540.5 1963.0 1540.0 1961.5 1539.0 1960.0 1538.9 1958.5 1539.5 1957.0 1539.9 1955.5 1539.9 1954.0 1539.5 1952.5 1539.5 1951.0 1539.3 1949.5 1538.9 1948.0 1538.8 1946.5 1538.6 1945.0 1538.7 1943.5 1538.5 1942.0 1538.4 1940.5 1538.8 1939.0 1538.9 1937.5 1538.8 1936.0 1538.7 1934.5 1538.9 1933.0 1538.5 1931.5 1537.5 1930.0 1537.5 1928.5 1538.4 1927.0 1538.4 1925.5 1537.6 1924.0 1537.3 1922.5 1537.7 1921.0 1537.8 1919.5 1537.9 1918.0 1537.9 1916.5 1537.5 1915.0 1537.0 1913.5 1536.6 1912.0 1536.5 1910.5 1536.7 1909.0 1536.7 1907.5 1536.5 1906.0 1536.6 1904.5 1536.5 1903.0 1536.6 1901.5 1536.8 1900.0 1537.1 1898.5 1537.2 1897.0 1537.1 1895.5 1537.2 1894.0 1536.7 1892.5 1535.7 1891.0 1535.7 1889.5 1536.3 1888.0 1536.5 1886.5 1536.3 1885.0 1535.9 1883.5 1535.6 1882.0 1535.4 1880.5 1535.3 1879.0 1535.5 1877.5 1535.4 1876.0 1534.8 1874.5 1534.6 1873.0 1535.2 1871.5 1535.3 1870.0 1534.8 1868.5 1535.0 1867.0 1535.0 1865.5 1534.7 1864.0 1535.1 1862.5 1534.9 1861.0 1534.2 1859.5 1534.1 1858.0 1534.3 1856.5 1534.7 1855.0 1535.0 1853.5 1534.7 1852.0 1534.2 1850.5 1534.2 1849.0 1534.1 1847.5 1533.9 1846.0 1533.7 1844.5 1533.4 1843.0 1533.6 1841.5 1533.8 1840.0 1533.5 1838.5 1532.8 1837.0 1532.5 1835.5 1532.8 1834.0 1533.0 1832.5 1532.7 1831.0 1532.3 1829.5 1532.7 1828.0 1532.9 1826.5 1532.5 1825.0 1532.1 1823.5 1531.6 1822.0 1531.3 1820.5 1531.6 1819.0 1531.4 1817.5 1531.2 1816.0 1531.3 1814.5 1530.9 1813.0 1530.8 1811.5 1530.6 1810.0 1530.3 1808.5 1530.2 1807.0 1530.2 1805.5 1530.5 1804.0 1530.4 1802.5 1530.5 1801.0 1530.6 1799.5 1530.5 1798.0 1530.8 1796.5 1530.5 1795.0 1529.6 1793.5 1529.2 1792.0 1529.5 1790.5 1530.1 1789.0 1530.2 1787.5 1529.8 1786.0 1529.0 1784.5 1529.0 1783.0 1529.6 1781.5 1529.8 1780.0 1529.5 1778.5 1528.7 1777.0 1528.0 1775.5 1528.2 1774.0 1528.7 1772.5 1528.2 1771.0 1527.2 1769.5 1527.2 1768.0 1527.8 1766.5 1528.0 1765.0 1527.4 1763.5 1526.4 1762.0 1526.2 1760.5 1526.5 1759.0 1526.4 1757.5 1526.4 1756.0 1526.3 1754.5 1526.3 1753.0 1526.8 1751.5 1527.0 1750.0 1526.3 1748.5 1526.0 1747.0 1526.3 1745.5 1526.0 1744.0 1524.9 1742.5 1524.6 1741.0 1525.1 1739.5 1525.4 1738.0 1525.4 1736.5 1525.0 1735.0 1523.8 1733.5 1523.0 1732.0 1522.9 1730.5 1523.4 1729.0 1523.8 1727.5 1523.7 1726.0 1523.3 1724.5 1523.0 1723.0 1523.6 1721.5 1523.7 1720.0 1522.6 1718.5 1522.0 1717.0 1522.4 1715.5 1523.1 1714.0 1522.9 1712.5 1521.9 1711.0 1521.5 1709.5 1521.6 1708.0 1520.9 1706.5 1520.6 1705.0 1521.0 1703.5 1520.5 1702.0 1520.0 1700.5 1519.9 1699.0 1519.4 1697.5 1519.4 1696.0 1520.2 1694.5 1520.5 1693.0 1520.0 1691.5 1519.6 1690.0 1519.4 1688.5 1519.2 1687.0 1519.0 1685.5 1518.3 1684.0 1517.7 1682.5 1517.1 1681.0 1516.1 1679.5 1515.8 1678.0 1516.0 1676.5 1515.8 1675.0 1515.6 1673.5 1515.3 1672.0 1515.3 1670.5 1515.7 1669.0 1515.7 1667.5 1515.6 1666.0 1514.7 1664.5 1513.5 1663.0 1513.3 1661.5 1513.2 1660.0 1512.3 1658.5 1512.1 1657.0 1512.6 1655.5 1512.2 1654.0 1510.9 1652.5 1510.4 1651.0 1510.4 1649.5 1509.8 1648.0 1510.0 1646.5 1510.6 1645.0 1510.5 1643.5 1509.9 1642.0 1509.7 1640.5 1509.4 1639.0 1508.4 1637.5 1507.9 1636.0 1507.7 1634.5 1507.5 1633.0 1507.3 1631.5 1506.5 1630.0 1505.7 1628.5 1505.7 1627.0 1506.0 1625.5 1505.7 1624.0 1505.4 1622.5 1505.2 1621.0 1504.9 1619.5 1505.0 1618.0 1504.8 1616.5 1504.6 1615.0 1504.3 1613.5 1503.9 1612.0 1503.5 1610.5 1503.5 1609.0 1503.4 1607.5 1502.5 1606.0 1502.3 1604.5 1502.1 1603.0 1501.2 1601.5 1500.7 1600.0 1500.6 1598.5 1500.7 1597.0 1500.6 1595.5 1500.0 1594.0 1499.3 1592.5 1498.6 1591.0 1498.0 1589.5 1497.8 1588.0 1498.3 1586.5 1497.8 1585.0 1496.4 1583.5 1495.9 1582.0 1496.4 1580.5 1496.5 1579.0 1496.0 1577.5 1494.9 1576.0 1494.1 1574.5 1494.4 1573.0 1494.3 1571.5 1493.7 1570.0 1493.1 1568.5 1491.7 1567.0 1491.1 1565.5 1491.1 1564.0 1490.4 1562.5 1489.5 1561.0 1489.2 1559.5 1489.2 1558.0 1488.3 1556.5 1487.6 1555.0 1487.4 1553.5 1487.3 1552.0 1487.4 1550.5 1487.0 1549.0 1486.8 1547.5 1486.6 1546.0 1485.9 1544.5 1485.0 1543.0 1484.6 1541.5 1484.5 1540.0 1484.6 1538.5 1484.1 1537.0 1483.2 1535.5 1482.7 1534.0 1482.4 1532.5 1481.5 1531.0 1480.6 1529.5 1480.3 1528.0 1480.1 1526.5 1480.1 1525.0 1479.3 1523.5 1478.4 1522.0 1478.3 1520.5 1477.3 1519.0 1476.2 1517.5 1475.9 1516.0 1475.7 1514.5 1475.5 1513.0 1475.5 1511.5 1475.4 1510.0 1474.6 1508.5 1473.8 1507.0 1473.9 1505.5 1474.4 1504.0 1473.5 1502.5 1471.8 1501.0 1471.6 1499.5 1472.2 1498.0 1471.8 1496.5 1470.4 1495.0 1469.2 1493.5 1469.1 1492.0 1468.8 1490.5 1468.1 1489.0 1468.2 1487.5 1468.4 1486.0 1467.3 1484.5 1465.3 1483.0 1464.3 1481.5 1464.3 1480.0 1463.6 1478.5 1462.7 1477.0 1462.6 1475.5 1461.7 1474.0 1460.4 1472.5 1459.9 1471.0 1459.8 1469.5 1459.4 1468.0 1458.3 1466.5 1457.4 1465.0 1457.4 1463.5 1457.2 1462.0 1456.5 1460.5 1456.6 1459.0 1456.1 1457.5 1454.7 1456.0 1453.9 1454.5 1453.8 1453.0 1453.6 1451.5 1453.0 1450.0 1452.4 1448.5 1451.5 1447.0 1450.5 1445.5 1450.7 1444.0 1450.3 1442.5 1449.2 1441.0 1448.8 1439.5 1448.4 1438.0 1448.2 1436.5 1447.9 1435.0 1446.6 1433.5 1445.1 1432.0 1444.4 1430.5 1444.6 1429.0 1444.9 1427.5 1445.4 1426.0 1445.1 1424.5 1444.3 1423.0 1443.7 1421.5 1443.0 1420.0 1442.8 1418.5 1442.4 1417.0 1441.1 1415.5 1440.9 1414.0 1441.8 1412.5 1441.6 1411.0 1440.3 1409.5 1440.1 1408.0 1440.2 1406.5 1440.0 1405.0 1439.8 1403.5 1439.7 1402.0 1439.1 1400.5 1438.1 1399.0 1437.5 1397.5 1436.9 1396.0 1436.7 1394.5 1436.8 1393.0 1436.4 1391.5 1435.2 1390.0 1434.5 1388.5 1434.2 1387.0 1433.5 1385.5 1432.9 1384.0 1432.7 1382.5 1432.3 1381.0 1431.5 1379.5 1430.9 1378.0 1431.0 1376.5 1430.5 1375.0 1429.5 1373.5 1429.4 1372.0 1429.6 1370.5 1429.6 1369.0 1429.4 1367.5 1428.2 1366.0 1427.1 1364.5 1427.4 1363.0 1427.9 1361.5 1428.0 1360.0 1427.2 1358.5 1425.6 1357.0 1424.3 1355.5 1423.9 1354.0 1424.2 1352.5 1424.7 1351.0 1424.4 1349.5 1423.6 1348.0 1423.2 1346.5 1423.2 1345.0 1422.7 1343.5 1422.1 1342.0 1421.8 1340.5 1421.6 1339.0 1421.2 1337.5 1419.8 1336.0 1417.5 1334.5 1416.1 1333.0 1416.1 1331.5 1416.0 1330.0 1415.2 1328.5 1413.3 1327.0 1411.7 1325.5 1410.8 1324.0 1409.3 1322.5 1407.7 1321.0 1407.4 1319.5 1406.3 1318.0 1404.6 1316.5 1404.5 1315.0 1403.6 1313.5 1401.6 1312.0 1400.4 1310.5 1399.9 1309.0 1400.0 1307.5 1399.0 1306.0 1397.5 1304.5 1397.2 1303.0 1397.0 1301.5 1395.7 1300.0 1394.7 1298.5 1394.7 1297.0 1393.4 1295.5 1391.7 1294.0 1391.4 1292.5 1390.7 1291.0 1389.1 1289.5 1387.8 1288.0 1387.0 1286.5 1386.8 1285.0 1386.7 1283.5 1385.5 1282.0 1383.5 1280.5 1382.6 1279.0 1382.4 1277.5 1381.4 1276.0 1380.8 1274.5 1380.6 1273.0 1379.9 1271.5 1379.6 1270.0 1379.5 1268.5 1378.6 1267.0 1377.7 1265.5 1376.8 1264.0 1375.0 1262.5 1374.1 1261.0 1374.0 1259.5 1373.2 1258.0 1372.4 1256.5 1372.3 1255.0 1372.2 1253.5 1371.4 1252.0 1370.8 1250.5 1369.8 1249.0 1367.4 1247.5 1366.3 1246.0 1366.4 1244.5 1364.7 1243.0 1362.1 1241.5 1360.4 1240.0 1357.9 1238.5 1355.0 1237.0 1353.2 1235.5 1352.3 1234.0 1352.2 1232.5 1352.5 1231.0 1351.1 1229.5 1349.5 1228.0 1349.3 1226.5 1348.7 1225.0 1347.4 1223.5 1347.1 1222.0 1347.1 1220.5 1347.2 1219.0 1346.9 1217.5 1345.0 1216.0 1344.3 1214.5 1344.6 1213.0 1343.8 1211.5 1342.7 1210.0 1341.4 1208.5 1340.5 1207.0 1340.7 1205.5 1340.3 1204.0 1339.5 1202.5 1339.5 1201.0 1339.5 1199.5 1339.0 1198.0 1338.0 1196.5 1337.6 1195.0 1337.2 1193.5 1336.5 1192.0 1335.6 1190.5 1334.6 1189.0 1334.8 1187.5 1335.1 1186.0 1334.3 1184.5 1332.7 1183.0 1331.7 1181.5 1332.2 1180.0 1333.0 1178.5 1333.0 1177.0 1332.5 1175.5 1332.4 1174.0 1332.8 1172.5 1332.7 1171.0 1331.3 1169.5 1329.8 1168.0 1328.9 1166.5 1329.3 1165.0 1330.0 1163.5 1329.3 1162.0 1329.0 1160.5 1329.6 1159.0 1329.3 1157.5 1328.0 1156.0 1326.4 1154.5 1325.9 1153.0 1326.3 1151.5 1325.0 1150.0 1323.4 1148.5 1322.5 1147.0 1322.3 1145.5 1322.5 1144.0 1322.0 1142.5 1321.4 1141.0 1320.6 1139.5 1320.2 1138.0 1319.8 1136.5 1318.1 1135.0 1316.8 1133.5 1316.5 1132.0 1316.0 1130.5 1315.6 1129.0 1315.0 1127.5 1314.6 1126.0 1314.0 1124.5 1312.7 1123.0 1311.5 1121.5 1309.9 1120.0 1308.5 1118.5 1307.9 1117.0 1307.3 1115.5 1306.9 1114.0 1306.7 1112.5 1306.0 1111.0 1305.5 1109.5 1305.2 1108.0 1305.3 1106.5 1305.8 1105.0 1305.6 1103.5 1304.2 1102.0 1302.1 1100.5 1301.4 1099.0 1302.3 1097.5 1301.9 1096.0 1300.5 1094.5 1300.5 1093.0 1300.5 1091.5 1300.3 1090.0 1300.3 1088.5 1299.4 1087.0 1299.5 1085.5 1300.9 1084.0 1301.4 1082.5 1301.9 1081.0 1301.9 1079.5 1301.3 1078.0 1301.8 1076.5 1302.1 1075.0 1302.1 1073.5 1303.4 1072.0 1304.2 1070.5 1303.9 1069.0 1303.6 1067.5 1303.2 1066.0 1303.9 1064.5 1305.1 1063.0 1305.6 1061.5 1306.4 1060.0 1306.6 1058.5 1305.9 1057.0 1306.5 1055.5 1308.3 1054.0 1308.7 1052.5 1309.0 1051.0 1310.2 1049.5 1311.0 1048.0 1311.1 1046.5 1311.5 1045.0 1313.1 1043.5 1314.6 1042.0 1315.6 1040.5 1316.6 1039.0 1317.1 1037.5 1317.8 1036.0 1319.0 1034.5 1320.8 1033.0 1323.0 1031.5 1324.9 1030.0 1326.0 1028.5 1326.1 1027.0 1327.1 1025.5 1329.4 1024.0 1331.0 1022.5 1332.0 1021.0 1332.2 1019.5 1331.7 1018.0 1332.6 1016.5 1333.1 1015.0 1332.2 1013.5 1332.4 1012.0 1332.4 1010.5 1332.3 1009.0 1333.0 1007.5 1332.7 1006.0 1332.1 1004.5 1332.1 1003.0 1332.3 1001.5 1332.2 1000.0 1331.4 998.5 1331.0 997.0 1331.3 995.5 1331.6 994.0 1331.3 992.5 1330.3 991.0 1329.8 989.5 1329.4 988.0 1329.1 986.5 1329.6 985.0 1330.0 983.5 1330.5 982.0 1331.5 980.5 1331.2 979.0 1330.6 977.5 1331.1 976.0 1331.4 974.5 1330.5 973.0 1329.3 971.5 1329.8 970.0 1330.8 968.5 1330.5 967.0 1330.1 965.5 1329.8 964.0 1329.0 962.5 1329.5 961.0 1329.9 959.5 1329.3 958.0 1330.4 956.5 1330.4 955.0 1328.9 953.5 1328.9 952.0 1329.6 950.5 1330.0 949.0 1331.0 947.5 1333.3 946.0 1335.5 944.5 1337.7 943.0 1340.4 941.5 1343.0 940.0 1345.9 938.5 1348.3 937.0 1350.3 935.5 1352.7 934.0 1354.1 932.5 1355.7 931.0 1358.6 929.5 1361.2 928.0 1362.6 926.5 1363.2 925.0 1365.2 923.5 1367.6 922.0 1369.0 920.5 1371.5 919.0 1373.8 917.5 1374.6 916.0 1375.4 914.5 1377.4 913.0 1379.6 911.5 1381.8 910.0 1384.4 908.5 1386.3 907.0 1387.9 905.5 1389.1 904.0 1390.1 902.5 1390.3 901.0 1390.7 899.5 1392.0 898.0 1393.4 896.5 1394.9 895.0 1395.6 893.5 1396.4 892.0 1397.9 890.5 1398.2 889.0 1398.6 887.5 1400.2 886.0 1401.4 884.5 1402.4 883.0 1404.1 881.5 1404.7 880.0 1404.2 878.5 1404.4 877.0 1405.3 875.5 1406.2 874.0 1407.2 872.5 1408.4 871.0 1409.0 869.5 1409.0 868.0 1409.2 866.5 1410.6 865.0 1410.9 863.5 1410.2 862.0 1410.5 860.5 1409.9 859.0 1409.6 857.5 1410.2 856.0 1409.0 854.5 1407.7 853.0 1406.9 851.5 1404.4 850.0 1401.3 848.5 1399.3 847.0 1397.9 845.5 1395.6 844.0 1387.8 842.5 1377.6 841.0 1369.3 839.5 1366.7 838.0 1371.3 836.5 1380.4 835.0 1393.5 833.5 1406.9 832.0 1415.3 830.5 1419.7 829.0 1424.7 827.5 1429.6 826.0 1432.7 824.5 1434.8 823.0 1437.1 821.5 1438.8 820.0 1439.8 818.5 1441.6 817.0 1442.9 815.5 1443.2 814.0 1443.9 812.5 1444.7 811.0 1445.7 809.5 1446.8 808.0 1448.1 806.5 1449.6 805.0 1450.0 803.5 1450.3 802.0 1450.8 800.5 1452.1 799.0 1454.1 797.5 1455.4 796.0 1456.2 794.5 1456.3 793.0 1455.7 791.5 1456.1 790.0 1457.2 788.5 1457.5 787.0 1458.2 785.5 1459.5 784.0 1460.3 782.5 1460.6 781.0 1461.2 779.5 1461.9 778.0 1461.6 776.5 1462.4 775.0 1463.8 773.5 1464.1 772.0 1464.4 770.5 1465.1 769.0 1466.0 767.5 1467.4 766.0 1468.2 764.5 1468.2 763.0 1468.1 761.5 1468.1 760.0 1468.3 758.5 1469.0 757.0 1469.7 755.5 1469.7 754.0 1470.3 752.5 1471.4 751.0 1471.5 749.5 1471.6 748.0 1472.0 746.5 1472.5 745.0 1473.2 743.5 1474.0 742.0 1474.5 740.5 1475.0 739.0 1475.6 737.5 1476.3 736.0 1476.5 734.5 1476.7 733.0 1476.9 731.5 1476.7 730.0 1477.4 728.5 1478.8 727.0 1479.1 725.5 1479.0 724.0 1479.5 722.5 1479.7 721.0 1479.9 719.5 1480.4 718.0 1480.8 716.5 1481.0 715.0 1481.4 713.5 1481.4 712.0 1481.1 710.5 1482.1 709.0 1483.2 707.5 1483.0 706.0 1482.5 704.5 1483.0 703.0 1484.1 701.5 1484.3 700.0 1484.5 698.5 1485.0 697.0 1485.0 695.5 1484.5 694.0 1484.8 692.5 1486.0 691.0 1486.9 689.5 1487.2 688.0 1487.0 686.5 1486.5 685.0 1486.8 683.5 1487.2 682.0 1487.8 680.5 1489.0 679.0 1489.2 677.5 1488.5 676.0 1488.8 674.5 1489.5 673.0 1490.1 671.5 1490.6 670.0 1490.1 668.5 1490.2 667.0 1490.8 665.5 1491.0 664.0 1491.9 662.5 1492.7 661.0 1492.6 659.5 1492.4 658.0 1492.8 656.5 1493.5 655.0 1493.9 653.5 1494.0 652.0 1494.2 650.5 1495.0 649.0 1495.4 647.5 1495.0 646.0 1495.6 644.5 1496.2 643.0 1496.0 641.5 1495.8 640.0 1496.1 638.5 1496.4 637.0 1496.4 635.5 1496.3 634.0 1496.2 632.5 1496.2 631.0 1496.3 629.5 1496.3 628.0 1496.1 626.5 1496.5 625.0 1497.5 623.5 1497.5 622.0 1497.2 620.5 1497.9 619.0 1498.3 617.5 1497.8 616.0 1497.2 614.5 1497.1 613.0 1497.1 611.5 1497.2 610.0 1497.6 608.5 1497.9 607.0 1497.8 605.5 1498.2 604.0 1498.6 602.5 1498.6 601.0 1498.5 599.5 1498.0 598.0 1497.3 596.5 1496.5 595.0 1496.1 593.5 1495.6 592.0 1494.6 590.5 1494.1 589.0 1493.7 587.5 1492.9 586.0 1492.2 584.5 1491.7 583.0 1491.3 581.5 1491.1 580.0 1490.7 578.5 1490.2 577.0 1490.3 575.5 1490.5 574.0 1490.6 572.5 1491.1 571.0 1492.2 569.5 1493.4 568.0 1494.1 566.5 1494.4 565.0 1495.3 563.5 1496.7 562.0 1498.1 560.5 1498.8 559.0 1498.9 557.5 1499.6 556.0 1501.1 554.5 1501.9 553.0 1502.3 551.5 1502.9 550.0 1504.0 548.5 1504.8 547.0 1505.0 545.5 1505.4 544.0 1506.4 542.5 1507.5 541.0 1508.5 539.5 1509.4 538.0 1510.1 536.5 1510.3 535.0 1510.1 533.5 1510.0 532.0 1510.1 530.5 1510.6 529.0 1511.6 527.5 1511.8 526.0 1511.4 524.5 1510.9 523.0 1510.2 521.5 1509.6 520.0 1508.7 518.5 1507.2 517.0 1505.8 515.5 1504.2 514.0 1502.4 512.5 1500.2 511.0 1497.3 509.5 1494.1 508.0 1491.1 506.5 1490.2 505.0 1491.5 503.5 1492.6 502.0 1493.8 500.5 1495.8 499.0 1498.1 497.5 1500.6 496.0 1503.2 494.5 1505.1 493.0 1506.0 491.5 1507.6 490.0 1509.9 488.5 1511.4 487.0 1512.8 485.5 1514.3 484.0 1515.6 482.5 1516.7 481.0 1517.8 479.5 1518.9 478.0 1519.9 476.5 1521.1 475.0 1522.0 473.5 1522.8 472.0 1523.3 470.5 1523.5 469.0 1524.0 467.5 1524.9 466.0 1525.3 464.5 1525.3 463.0 1525.6 461.5 1526.5 460.0 1527.1 458.5 1526.9 457.0 1527.2 455.5 1528.1 454.0 1528.6 452.5 1528.4 451.0 1527.9 449.5 1527.6 448.0 1528.0 446.5 1528.7 445.0 1529.3 443.5 1529.3 442.0 1529.0 440.5 1529.1 439.0 1529.7 437.5 1530.2 436.0 1530.1 434.5 1529.4 433.0 1529.3 431.5 1530.1 430.0 1530.7 428.5 1530.5 427.0 1529.9 425.5 1529.7 424.0 1529.6 422.5 1529.8 421.0 1530.4 419.5 1530.7 418.0 1530.7 416.5 1530.4 415.0 1530.0 413.5 1530.1 412.0 1530.5 410.5 1530.5 409.0 1530.2 407.5 1530.3 406.0 1530.3 404.5 1530.4 403.0 1530.9 401.5 1531.2 400.0 1531.3 398.5 1531.2 397.0 1530.6 395.5 1530.1 394.0 1530.2 392.5 1530.8 391.0 1531.4 389.5 1531.8 388.0 1532.6 386.5 1532.4 385.0 1530.7 383.5 1529.0 382.0 1528.3 380.5 1529.1 379.0 1530.7 377.5 1532.2 376.0 1533.1 374.5 1533.4 373.0 1534.1 371.5 1534.6 370.0 1534.5 368.5 1534.6 367.0 1535.2 365.5 1535.4 364.0 1534.8 362.5 1534.7 361.0 1535.0 359.5 1535.0 358.0 1535.6 356.5 1535.9 355.0 1535.8 353.5 1535.7 352.0 1535.3 350.5 1534.8 349.0 1534.6 347.5 1534.5 346.0 1534.7 344.5 1535.1 343.0 1535.5 341.5 1535.9 340.0 1535.7 338.5 1535.3 337.0 1535.3 335.5 1535.1 334.0 1535.2 332.5 1535.5 331.0 1535.2 329.5 1534.8 328.0 1534.8 326.5 1535.0 325.0 1535.0 323.5 1535.2 322.0 1535.5 320.5 1535.5 319.0 1535.7 317.5 1535.4 316.0 1535.1 314.5 1535.4 313.0 1535.1 311.5 1534.7 310.0 1534.8 308.5 1535.1 307.0 1535.6 305.5 1535.7 304.0 1535.6 302.5 1535.6 301.0 1535.2 299.5 1535.0 298.0 1534.9 296.5 1534.7 295.0 1534.7 293.5 1534.9 292.0 1535.2 290.5 1535.2 289.0 1535.2 287.5 1535.5 286.0 1535.6 284.5 1535.6 283.0 1535.6 281.5 1535.4 280.0 1535.0 278.5 1535.3 277.0 1535.7 275.5 1535.9 274.0 1535.8 272.5 1535.4 271.0 1535.0 269.5 1534.7 268.0 1534.5 266.5 1534.7 265.0 1535.1 263.5 1535.0 262.0 1534.7 260.5 1535.0 259.0 1535.3 257.5 1535.2 256.0 1535.0 254.5 1535.2 253.0 1535.3 251.5 1535.0 250.0 1534.7 248.5 1534.7 247.0 1535.0 245.5 1535.4 244.0 1535.3 242.5 1534.9 241.0 1534.8 239.5 1535.2 238.0 1535.6 236.5 1535.8 235.0 1535.7 233.5 1535.5 232.0 1535.7 230.5 1535.5 229.0 1534.8 227.5 1534.7 226.0 1535.2 224.5 1535.3 223.0 1534.9 221.5 1534.9 220.0 1534.9 218.5 1534.9 217.0 1535.1 215.5 1535.2 214.0 1535.5 212.5 1535.3 211.0 1534.8 209.5 1534.6 208.0 1534.6Z" fill="#800080" stroke="#800080" stroke-width="2.0" stroke-linejoin="round"/>
<path d="M208.0 1520.9 209.5 1520.8 211.0 1520.7 212.5 1520.6 214.0 1520.6 215.5 1520.6 217.0 1520.7 218.5 1520.6 220.0 1520.7 221.5 1520.9 223.0 1520.8 224.5 1520.8 226.0 1520.8 227.5 1520.6 229.0 1520.4 230.5 1520.4 232.0 1520.5 233.5 1520.5 235.0 1520.4 236.5 1520.4 238.0 1520.3 239.5 1520.4 241.0 1520.5 242.5 1520.6 244.0 1520.5 245.5 1520.5 247.0 1520.4 248.5 1520.1 250.0 1520.0 251.5 1520.4 253.0 1520.6 254.5 1520.4 256.0 1520.1 257.5 1520.1 259.0 1520.1 260.5 1520.1 262.0 1520.2 263.5 1520.1 265.0 1520.0 266.5 1520.0 268.0 1519.8 269.5 1519.7 271.0 1519.9 272.5 1519.9 274.0 1519.7 275.5 1519.6 277.0 1519.7 278.5 1519.7 280.0 1519.5 281.5 1519.3 283.0 1519.3 284.5 1519.3 286.0 1519.3 287.5 1519.3 289.0 1519.3 290.5 1519.3 292.0 1519.2 293.5 1519.3 295.0 1519.4 296.5 1519.3 298.0 1519.1 299.5 1519.1 301.0 1518.9 302.5 1518.8 304.0 1519.0 305.5 1519.2 307.0 1519.0 308.5 1518.9 310.0 1518.9 311.5 1518.8 313.0 1518.9 314.5 1519.2 316.0 1519.2 317.5 1519.0 319.0 1518.7 320.5 1518.6 322.0 1518.9 323.5 1518.9 325.0 1518.6 326.5 1518.6 328.0 1518.5 329.5 1518.2 331.0 1518.0 332.5 1517.9 334.0 1518.1 335.5 1518.4 337.0 1518.4 338.5 1518.0 340.0 1517.9 341.5 1518.0 343.0 1517.9 344.5 1517.8 346.0 1517.7 347.5 1517.6 349.0 1517.5 350.5 1517.4 352.0 1517.2 353.5 1516.8 355.0 1516.5 356.5 1516.2 358.0 1515.9 359.5 1515.7 361.0 1515.5 362.5 1515.2 364.0 1515.0 365.5 1514.7 367.0 1514.4 368.5 1514.3 370.0 1514.0 371.5 1513.7 373.0 1513.5 374.5 1513.3 376.0 1513.0 377.5 1512.6 379.0 1512.0 380.5 1511.3 382.0 1510.8 383.5 1510.7 385.0 1510.3 386.5 1509.7 388.0 1509.1 389.5 1508.5 391.0 1507.8 392.5 1507.2 394.0 1506.8 395.5 1506.3 397.0 1505.8 398.5 1505.2 400.0 1504.5 401.5 1503.9 403.0 1503.5 404.5 1503.4 406.0 1503.4 407.5 1502.8 409.0 1502.1 410.5 1501.8 412.0 1501.4 413.5 1501.1 415.0 1500.5 416.5 1499.8 418.0 1499.1 419.5 1498.2 421.0 1497.1 422.5 1495.9 424.0 1495.2 425.5 1494.2 427.0 1492.9 428.5 1492.2 430.0 1491.7 431.5 1490.5 433.0 1489.1 434.5 1488.2 436.0 1487.1 437.5 1485.4 439.0 1484.1 440.5 1482.9 442.0 1481.2 443.5 1479.9 445.0 1479.0 446.5 1477.7 448.0 1475.9 449.5 1474.5 451.0 1474.0 452.5 1473.3 454.0 1472.1 455.5 1470.6 457.0 1469.8 458.5 1469.3 460.0 1467.9 461.5 1466.9 463.0 1466.1 464.5 1464.6 466.0 1463.2 467.5 1461.8 469.0 1460.3 470.5 1458.2 472.0 1455.3 473.5 1452.2 475.0 1449.5 476.5 1447.5 478.0 1444.9 479.5 1440.8 481.0 1435.6 482.5 1429.9 484.0 1424.9 485.5 1420.0 487.0 1413.9 488.5 1407.1 490.0 1399.8 491.5 1390.9 493.0 1380.9 494.5 1368.9 496.0 1355.0 497.5 1341.2 499.0 1327.1 500.5 1311.6 502.0 1296.6 503.5 1282.5 505.0 1266.4 506.5 1257.8 508.0 1263.8 509.5 1278.0 511.0 1295.1 512.5 1310.7 514.0 1321.0 515.5 1330.7 517.0 1339.3 518.5 1345.9 520.0 1350.5 521.5 1353.8 523.0 1357.1 524.5 1360.0 526.0 1362.1 527.5 1362.7 529.0 1362.5 530.5 1363.0 532.0 1362.5 533.5 1360.9 535.0 1358.9 536.5 1355.6 538.0 1352.5 539.5 1350.0 541.0 1346.7 542.5 1343.5 544.0 1341.4 545.5 1338.6 547.0 1334.8 548.5 1332.0 550.0 1329.6 551.5 1327.6 553.0 1325.2 554.5 1321.6 556.0 1319.6 557.5 1318.2 559.0 1315.4 560.5 1312.8 562.0 1310.5 563.5 1308.0 565.0 1306.5 566.5 1305.7 568.0 1303.9 569.5 1303.2 571.0 1303.5 572.5 1302.8 574.0 1301.6 575.5 1300.5 577.0 1300.9 578.5 1301.4 580.0 1300.4 581.5 1299.4 583.0 1299.7 584.5 1300.0 586.0 1298.6 587.5 1298.5 589.0 1300.1 590.5 1300.4 592.0 1300.2 593.5 1300.5 595.0 1300.6 596.5 1300.6 598.0 1301.5 599.5 1301.9 601.0 1302.4 602.5 1304.0 604.0 1304.1 605.5 1303.5 607.0 1304.0 608.5 1303.2 610.0 1300.6 611.5 1295.5 613.0 1288.9 614.5 1283.3 616.0 1276.8 617.5 1271.0 619.0 1268.0 620.5 1267.2 622.0 1266.9 623.5 1266.0 625.0 1263.7 626.5 1262.0 628.0 1260.9 629.5 1260.0 631.0 1259.8 632.5 1258.5 634.0 1257.0 635.5 1255.8 637.0 1255.7 638.5 1256.0 640.0 1255.1 641.5 1254.6 643.0 1253.6 644.5 1252.3 646.0 1252.4 647.5 1253.1 649.0 1253.3 650.5 1252.5 652.0 1252.0 653.5 1251.5 655.0 1249.8 656.5 1248.0 658.0 1247.3 659.5 1247.6 661.0 1248.1 662.5 1247.0 664.0 1245.5 665.5 1244.9 667.0 1243.6 668.5 1243.2 670.0 1243.1 671.5 1242.0 673.0 1241.2 674.5 1240.4 676.0 1239.2 677.5 1238.1 679.0 1238.2 680.5 1237.7 682.0 1236.6 683.5 1235.6 685.0 1233.8 686.5 1231.6 688.0 1230.4 689.5 1230.3 691.0 1228.6 692.5 1226.3 694.0 1224.9 695.5 1222.9 697.0 1222.0 698.5 1222.2 700.0 1220.1 701.5 1217.2 703.0 1215.6 704.5 1213.4 706.0 1211.0 707.5 1209.8 709.0 1208.3 710.5 1206.3 712.0 1205.7 713.5 1205.0 715.0 1202.2 716.5 1198.1 718.0 1194.7 719.5 1193.2 721.0 1191.1 722.5 1187.8 724.0 1186.1 725.5 1184.3 727.0 1181.2 728.5 1178.9 730.0 1176.0 731.5 1171.5 733.0 1167.2 734.5 1164.6 736.0 1162.6 737.5 1159.1 739.0 1156.8 740.5 1156.2 742.0 1154.2 743.5 1152.0 745.0 1151.3 746.5 1149.7 748.0 1147.3 749.5 1146.5 751.0 1145.5 752.5 1143.6 754.0 1142.0 755.5 1141.9 757.0 1141.4 758.5 1140.2 760.0 1140.0 761.5 1139.7 763.0 1138.9 764.5 1137.0 766.0 1135.0 767.5 1134.0 769.0 1134.1 770.5 1133.5 772.0 1130.9 773.5 1129.0 775.0 1129.7 776.5 1130.1 778.0 1127.9 779.5 1125.7 781.0 1126.3 782.5 1126.4 784.0 1123.7 785.5 1120.6 787.0 1118.9 788.5 1116.8 790.0 1114.6 791.5 1112.3 793.0 1106.9 794.5 1099.9 796.0 1092.5 797.5 1086.5 799.0 1082.0 800.5 1077.2 802.0 1073.8 803.5 1070.3 805.0 1066.4 806.5 1064.9 808.0 1063.2 809.5 1059.4 811.0 1056.8 812.5 1055.0 814.0 1050.9 815.5 1046.1 817.0 1040.9 818.5 1034.2 820.0 1028.1 821.5 1021.8 823.0 1014.7 824.5 1007.8 826.0 997.0 827.5 981.5 829.0 966.5 830.5 950.4 832.0 930.9 833.5 908.9 835.0 886.2 836.5 860.1 838.0 819.6 839.5 776.6 841.0 747.4 842.5 743.7 844.0 765.7 845.5 795.7 847.0 815.4 848.5 831.7 850.0 846.5 851.5 857.9 853.0 866.3 854.5 874.8 856.0 882.2 857.5 889.0 859.0 895.9 860.5 900.2 862.0 902.8 863.5 906.0 865.0 906.7 866.5 905.3 868.0 904.7 869.5 902.1 871.0 898.5 872.5 896.6 874.0 892.8 875.5 887.4 877.0 884.1 878.5 879.7 880.0 874.4 881.5 870.2 883.0 865.5 884.5 861.5 886.0 859.6 887.5 858.6 889.0 855.6 890.5 850.1 892.0 846.6 893.5 845.4 895.0 843.1 896.5 839.6 898.0 835.7 899.5 830.8 901.0 825.7 902.5 822.1 904.0 819.6 905.5 816.0 907.0 811.2 908.5 806.3 910.0 800.1 911.5 793.6 913.0 789.7 914.5 785.4 916.0 777.8 917.5 770.3 919.0 764.8 920.5 760.1 922.0 754.9 923.5 748.7 925.0 740.9 926.5 731.5 928.0 723.1 929.5 714.8 931.0 704.9 932.5 695.3 934.0 687.1 935.5 679.6 937.0 671.2 938.5 660.5 940.0 648.7 941.5 638.6 943.0 630.3 944.5 622.7 946.0 616.1 947.5 609.3 949.0 602.7 950.5 597.0 952.0 592.1 953.5 587.7 955.0 582.5 956.5 579.9 958.0 579.7 959.5 576.6 961.0 575.1 962.5 575.7 964.0 574.1 965.5 572.0 967.0 569.8 968.5 567.4 970.0 567.6 971.5 568.4 973.0 567.1 974.5 566.6 976.0 568.1 977.5 567.7 979.0 566.5 980.5 566.6 982.0 566.1 983.5 564.3 985.0 564.6 986.5 567.6 988.0 569.7 989.5 571.3 991.0 573.9 992.5 578.0 994.0 581.4 995.5 582.8 997.0 585.9 998.5 588.3 1000.0 587.7 1001.5 586.9 1003.0 587.0 1004.5 586.4 1006.0 583.8 1007.5 581.6 1009.0 580.5 1010.5 581.3 1012.0 583.4 1013.5 582.7 1015.0 580.2 1016.5 579.5 1018.0 579.9 1019.5 580.5 1021.0 580.4 1022.5 579.4 1024.0 577.0 1025.5 572.9 1027.0 568.0 1028.5 560.6 1030.0 554.5 1031.5 549.2 1033.0 540.8 1034.5 533.6 1036.0 527.2 1037.5 519.4 1039.0 514.6 1040.5 512.6 1042.0 511.1 1043.5 512.3 1045.0 512.3 1046.5 509.6 1048.0 508.3 1049.5 507.2 1051.0 505.7 1052.5 503.5 1054.0 500.4 1055.5 499.6 1057.0 501.4 1058.5 501.0 1060.0 499.3 1061.5 498.9 1063.0 496.8 1064.5 494.8 1066.0 493.4 1067.5 489.0 1069.0 485.3 1070.5 484.5 1072.0 482.4 1073.5 479.2 1075.0 476.0 1076.5 472.3 1078.0 470.4 1079.5 468.7 1081.0 465.1 1082.5 464.2 1084.0 465.0 1085.5 464.1 1087.0 462.6 1088.5 463.7 1090.0 468.2 1091.5 471.3 1093.0 473.4 1094.5 477.4 1096.0 481.9 1097.5 488.1 1099.0 493.5 1100.5 496.4 1102.0 497.7 1103.5 500.2 1105.0 502.7 1106.5 501.7 1108.0 499.0 1109.5 496.9 1111.0 494.4 1112.5 494.2 1114.0 498.4 1115.5 503.1 1117.0 507.0 1118.5 510.1 1120.0 513.0 1121.5 516.6 1123.0 518.8 1124.5 520.6 1126.0 521.9 1127.5 524.4 1129.0 528.0 1130.5 528.2 1132.0 528.9 1133.5 532.3 1135.0 535.9 1136.5 539.9 1138.0 542.3 1139.5 542.0 1141.0 544.0 1142.5 549.2 1144.0 552.8 1145.5 553.5 1147.0 554.4 1148.5 555.8 1150.0 556.1 1151.5 557.4 1153.0 560.3 1154.5 563.5 1156.0 565.5 1157.5 569.1 1159.0 574.6 1160.5 578.2 1162.0 580.5 1163.5 583.1 1165.0 586.3 1166.5 589.1 1168.0 591.9 1169.5 594.2 1171.0 595.8 1172.5 597.8 1174.0 601.3 1175.5 605.4 1177.0 608.5 1178.5 611.9 1180.0 612.7 1181.5 610.0 1183.0 608.4 1184.5 609.4 1186.0 610.8 1187.5 610.8 1189.0 610.7 1190.5 612.1 1192.0 613.0 1193.5 613.9 1195.0 616.0 1196.5 617.5 1198.0 619.6 1199.5 622.8 1201.0 625.1 1202.5 627.4 1204.0 631.5 1205.5 637.6 1207.0 642.4 1208.5 644.5 1210.0 647.5 1211.5 653.8 1213.0 661.1 1214.5 665.1 1216.0 665.9 1217.5 666.4 1219.0 669.1 1220.5 673.2 1222.0 675.8 1223.5 678.3 1225.0 682.2 1226.5 684.2 1228.0 684.0 1229.5 684.2 1231.0 686.3 1232.5 689.5 1234.0 692.2 1235.5 696.2 1237.0 700.1 1238.5 704.8 1240.0 710.4 1241.5 713.5 1243.0 717.3 1244.5 724.7 1246.0 732.7 1247.5 736.9 1249.0 739.4 1250.5 744.4 1252.0 751.5 1253.5 756.3 1255.0 759.0 1256.5 764.5 1258.0 770.4 1259.5 773.3 1261.0 774.7 1262.5 776.7 1264.0 778.8 1265.5 782.5 1267.0 786.3 1268.5 786.6 1270.0 787.1 1271.5 789.8 1273.0 793.7 1274.5 798.7 1276.0 801.7 1277.5 803.6 1279.0 807.6 1280.5 811.7 1282.0 814.5 1283.5 818.1 1285.0 822.2 1286.5 826.8 1288.0 830.8 1289.5 834.6 1291.0 839.8 1292.5 843.7 1294.0 845.5 1295.5 848.7 1297.0 854.5 1298.5 861.3 1300.0 865.1 1301.5 865.7 1303.0 869.1 1304.5 874.8 1306.0 879.7 1307.5 884.2 1309.0 886.7 1310.5 888.7 1312.0 891.8 1313.5 893.6 1315.0 896.9 1316.5 901.8 1318.0 905.0 1319.5 908.8 1321.0 913.2 1322.5 916.1 1324.0 918.2 1325.5 920.6 1327.0 926.4 1328.5 934.4 1330.0 938.9 1331.5 941.0 1333.0 945.8 1334.5 951.6 1336.0 955.8 1337.5 958.7 1339.0 961.9 1340.5 965.8 1342.0 968.7 1343.5 971.0 1345.0 974.7 1346.5 977.5 1348.0 977.6 1349.5 979.0 1351.0 982.6 1352.5 985.9 1354.0 987.5 1355.5 987.8 1357.0 989.4 1358.5 992.7 1360.0 994.4 1361.5 996.3 1363.0 998.9 1364.5 1000.4 1366.0 1002.5 1367.5 1003.5 1369.0 1004.1 1370.5 1007.1 1372.0 1009.0 1373.5 1009.7 1375.0 1012.4 1376.5 1014.4 1378.0 1014.9 1379.5 1017.2 1381.0 1018.7 1382.5 1018.4 1384.0 1019.3 1385.5 1022.3 1387.0 1025.5 1388.5 1027.1 1390.0 1029.3 1391.5 1032.0 1393.0 1034.0 1394.5 1036.8 1396.0 1039.2 1397.5 1041.8 1399.0 1044.9 1400.5 1045.9 1402.0 1046.8 1403.5 1049.0 1405.0 1051.2 1406.5 1054.4 1408.0 1057.6 1409.5 1058.7 1411.0 1060.1 1412.5 1062.8 1414.0 1065.0 1415.5 1066.8 1417.0 1068.2 1418.5 1070.9 1420.0 1074.8 1421.5 1077.7 1423.0 1080.4 1424.5 1083.0 1426.0 1085.0 1427.5 1085.9 1429.0 1087.8 1430.5 1091.6 1432.0 1093.6 1433.5 1094.5 1435.0 1097.4 1436.5 1100.7 1438.0 1102.9 1439.5 1104.3 1441.0 1105.5 1442.5 1107.5 1444.0 1110.2 1445.5 1111.9 1447.0 1113.2 1448.5 1116.0 1450.0 1118.5 1451.5 1120.3 1453.0 1122.1 1454.5 1124.2 1456.0 1127.2 1457.5 1129.4 1459.0 1131.2 1460.5 1132.8 1462.0 1134.1 1463.5 1136.8 1465.0 1139.5 1466.5 1141.0 1468.0 1143.0 1469.5 1145.8 1471.0 1147.0 1472.5 1149.1 1474.0 1153.5 1475.5 1156.2 1477.0 1157.5 1478.5 1160.5 1480.0 1163.9 1481.5 1166.0 1483.0 1166.3 1484.5 1166.7 1486.0 1168.9 1487.5 1172.1 1489.0 1174.1 1490.5 1175.1 1492.0 1176.6 1493.5 1178.4 1495.0 1180.5 1496.5 1182.7 1498.0 1185.5 1499.5 1189.0 1501.0 1191.8 1502.5 1193.1 1504.0 1193.1 1505.5 1194.5 1507.0 1198.7 1508.5 1203.0 1510.0 1205.8 1511.5 1207.5 1513.0 1210.1 1514.5 1213.4 1516.0 1215.7 1517.5 1216.5 1519.0 1218.9 1520.5 1222.8 1522.0 1225.5 1523.5 1227.2 1525.0 1228.6 1526.5 1230.6 1528.0 1232.6 1529.5 1234.5 1531.0 1237.4 1532.5 1239.8 1534.0 1240.7 1535.5 1241.9 1537.0 1244.7 1538.5 1248.7 1540.0 1251.3 1541.5 1251.9 1543.0 1252.6 1544.5 1254.9 1546.0 1257.9 1547.5 1259.8 1549.0 1261.5 1550.5 1264.3 1552.0 1266.3 1553.5 1267.3 1555.0 1268.7 1556.5 1271.1 1558.0 1274.5 1559.5 1276.4 1561.0 1277.1 1562.5 1279.7 1564.0 1283.1 1565.5 1284.9 1567.0 1285.1 1568.5 1286.3 1570.0 1289.1 1571.5 1291.4 1573.0 1292.3 1574.5 1293.3 1576.0 1295.4 1577.5 1297.0 1579.0 1298.4 1580.5 1300.6 1582.0 1303.6 1583.5 1305.7 1585.0 1306.2 1586.5 1306.7 1588.0 1308.8 1589.5 1312.5 1591.0 1314.6 1592.5 1314.6 1594.0 1316.0 1595.5 1318.6 1597.0 1320.2 1598.5 1321.0 1600.0 1321.9 1601.5 1324.5 1603.0 1326.7 1604.5 1327.4 1606.0 1329.1 1607.5 1331.2 1609.0 1333.1 1610.5 1334.7 1612.0 1336.3 1613.5 1337.3 1615.0 1338.1 1616.5 1339.5 1618.0 1340.1 1619.5 1341.0 1621.0 1343.7 1622.5 1345.9 1624.0 1346.7 1625.5 1348.9 1627.0 1350.8 1628.5 1351.6 1630.0 1353.0 1631.5 1355.0 1633.0 1356.4 1634.5 1357.5 1636.0 1359.4 1637.5 1361.4 1639.0 1362.7 1640.5 1364.2 1642.0 1365.4 1643.5 1366.2 1645.0 1367.5 1646.5 1368.8 1648.0 1369.3 1649.5 1370.2 1651.0 1372.1 1652.5 1373.5 1654.0 1374.7 1655.5 1376.3 1657.0 1377.3 1658.5 1378.6 1660.0 1379.7 1661.5 1380.0 1663.0 1380.7 1664.5 1381.5 1666.0 1383.3 1667.5 1385.9 1669.0 1386.7 1670.5 1387.5 1672.0 1389.4 1673.5 1389.6 1675.0 1390.0 1676.5 1392.4 1678.0 1394.4 1679.5 1395.1 1681.0 1395.9 1682.5 1396.8 1684.0 1397.1 1685.5 1397.4 1687.0 1398.6 1688.5 1400.4 1690.0 1402.6 1691.5 1403.3 1693.0 1403.0 1694.5 1403.8 1696.0 1404.9 1697.5 1406.4 1699.0 1407.4 1700.5 1408.8 1702.0 1411.1 1703.5 1412.5 1705.0 1413.1 1706.5 1414.3 1708.0 1415.4 1709.5 1416.3 1711.0 1417.0 1712.5 1417.8 1714.0 1418.9 1715.5 1419.8 1717.0 1420.1 1718.5 1421.2 1720.0 1422.3 1721.5 1422.4 1723.0 1423.0 1724.5 1424.4 1726.0 1426.7 1727.5 1428.4 1729.0 1428.3 1730.5 1427.9 1732.0 1428.5 1733.5 1429.2 1735.0 1430.6 1736.5 1432.7 1738.0 1433.7 1739.5 1434.2 1741.0 1434.6 1742.5 1435.5 1744.0 1436.6 1745.5 1437.0 1747.0 1438.1 1748.5 1439.4 1750.0 1440.2 1751.5 1441.2 1753.0 1441.9 1754.5 1442.9 1756.0 1444.3 1757.5 1445.7 1759.0 1446.2 1760.5 1445.9 1762.0 1446.8 1763.5 1447.9 1765.0 1448.0 1766.5 1448.9 1768.0 1450.3 1769.5 1451.1 1771.0 1452.5 1772.5 1453.4 1774.0 1454.3 1775.5 1455.1 1777.0 1455.3 1778.5 1455.7 1780.0 1456.4 1781.5 1456.5 1783.0 1457.2 1784.5 1459.2 1786.0 1460.1 1787.5 1460.2 1789.0 1460.9 1790.5 1461.8 1792.0 1461.9 1793.5 1461.7 1795.0 1461.7 1796.5 1462.2 1798.0 1463.4 1799.5 1464.5 1801.0 1464.7 1802.5 1465.6 1804.0 1466.7 1805.5 1467.0 1807.0 1467.8 1808.5 1468.2 1810.0 1468.2 1811.5 1468.6 1813.0 1469.2 1814.5 1470.3 1816.0 1472.4 1817.5 1473.8 1819.0 1473.8 1820.5 1473.7 1822.0 1474.6 1823.5 1475.9 1825.0 1476.2 1826.5 1476.2 1828.0 1476.4 1829.5 1476.7 1831.0 1477.1 1832.5 1477.3 1834.0 1477.9 1835.5 1479.1 1837.0 1480.3 1838.5 1481.1 1840.0 1481.5 1841.5 1481.8 1843.0 1482.3 1844.5 1482.9 1846.0 1483.3 1847.5 1483.4 1849.0 1483.1 1850.5 1483.9 1852.0 1485.2 1853.5 1485.6 1855.0 1486.0 1856.5 1486.4 1858.0 1486.5 1859.5 1487.2 1861.0 1487.4 1862.5 1487.1 1864.0 1487.2 1865.5 1487.6 1867.0 1488.0 1868.5 1488.6 1870.0 1489.2 1871.5 1489.4 1873.0 1489.7 1874.5 1489.7 1876.0 1489.8 1877.5 1490.7 1879.0 1491.4 1880.5 1491.1 1882.0 1490.4 1883.5 1490.4 1885.0 1491.3 1886.5 1491.8 1888.0 1491.6 1889.5 1491.8 1891.0 1492.4 1892.5 1492.4 1894.0 1492.4 1895.5 1493.3 1897.0 1493.8 1898.5 1493.7 1900.0 1494.1 1901.5 1494.2 1903.0 1493.6 1904.5 1493.6 1906.0 1494.8 1907.5 1495.4 1909.0 1494.5 1910.5 1494.4 1912.0 1495.2 1913.5 1495.6 1915.0 1495.9 1916.5 1496.1 1918.0 1496.1 1919.5 1496.0 1921.0 1496.0 1922.5 1496.3 1924.0 1497.0 1925.5 1497.7 1927.0 1497.8 1928.5 1497.9 1930.0 1498.1 1931.5 1498.1 1933.0 1497.9 1934.5 1497.7 1936.0 1497.7 1937.5 1498.1 1939.0 1498.4 1940.5 1498.3 1942.0 1498.4 1943.5 1499.4 1945.0 1500.3 1946.5 1500.7 1948.0 1500.9 1949.5 1501.0 1951.0 1501.3 1952.5 1501.6 1954.0 1501.6 1955.5 1501.7 1957.0 1502.1 1958.5 1502.1 1960.0 1502.3 1961.5 1502.9 1963.0 1503.2 1964.5 1503.7 1966.0 1504.3 1967.5 1504.8 1969.0 1504.9 1970.5 1504.9 1972.0 1505.5 1973.5 1506.0 1975.0 1505.9 1976.5 1505.4 1978.0 1505.6 1979.5 1506.0 1981.0 1506.0 1982.5 1506.0 1984.0 1506.4 1985.5 1507.0 1987.0 1507.4 1988.5 1507.2 1990.0 1506.9 1991.5 1507.4 1993.0 1507.8 1994.5 1508.0 1996.0 1509.1 1997.5 1509.3 1999.0 1508.5 2000.5 1508.6 2002.0 1509.8 2003.5 1510.6 2005.0 1510.5 2006.5 1510.2 2008.0 1510.4 2009.5 1510.2 2011.0 1510.4 2012.5 1510.8 2014.0 1510.7 2015.5 1510.9 2017.0 1511.2 2018.5 1511.5 2020.0 1511.7 2021.5 1512.1 2023.0 1512.4 2024.5 1512.4 2026.0 1512.5 2027.5 1512.7 2029.0 1513.0 2030.5 1512.8 2032.0 1512.3 2033.5 1512.4 2035.0 1512.9 2036.5 1512.9 2038.0 1513.2 2039.5 1514.2 2041.0 1514.2 2042.5 1513.8 2044.0 1514.3 2045.5 1514.6 2047.0 1514.2 2048.5 1513.9 2050.0 1514.0 2051.5 1514.6 2053.0 1515.2 2054.5 1515.5 2056.0 1515.5 2057.5 1515.1 2059.0 1515.1 2060.5 1515.9 2062.0 1516.2 2063.5 1516.3 2065.0 1516.5 2066.5 1516.0 2068.0 1515.8 2069.5 1516.3 2071.0 1516.2 2072.5 1516.3 2074.0 1516.6 2075.5 1516.5 2077.0 1516.5 2078.5 1517.1 2080.0 1517.7 2081.5 1518.1 2083.0 1517.9 2084.5 1517.4 2086.0 1517.6 2087.5 1518.2 2089.0 1518.4 2090.5 1518.4 2092.0 1518.2 2093.5 1518.1 2095.0 1518.0 2096.5 1518.5 2098.0 1519.2 2099.5 1519.2 2101.0 1518.9 2102.5 1518.8 2104.0 1519.4 2105.5 1519.9 2107.0 1520.0 2108.5 1520.1 2110.0 1520.3 2111.5 1520.3 2113.0 1520.3 2114.5 1520.0 2116.0 1519.6 2117.5 1519.9 2119.0 1520.5 2120.5 1520.5 2122.0 1520.6 2123.5 1521.0 2125.0 1521.1 2126.5 1521.3 2128.0 1521.4 2129.5 1521.2 2131.0 1521.2 2132.5 1521.5 2134.0 1521.5 2135.5 1521.6 2137.0 1521.6 2138.5 1521.6 2140.0 1521.9 2141.5 1522.1 2143.0 1522.0 2144.5 1522.1 2146.0 1522.3 2147.5 1522.8 2149.0 1522.9 2150.5 1522.7 2152.0 1522.6 2153.5 1522.8 2155.0 1523.2 2156.5 1523.3 2158.0 1523.1 2159.5 1523.4 2161.0 1523.9 2162.5 1523.8 2164.0 1523.6 2165.5 1523.8 2167.0 1523.8 2168.5 1523.7 2170.0 1523.8 2171.5 1523.8 2173.0 1523.9 2174.5 1524.2 2176.0 1524.3 2177.5 1524.5 2179.0 1525.0 2180.5 1525.2 2182.0 1525.3 2183.5 1525.2 2185.0 1525.1 2186.5 1525.3 2188.0 1525.5 2189.5 1525.3 2191.0 1525.4 2192.5 1525.8 2194.0 1526.0 2195.5 1525.9 2197.0 1525.7 2198.5 1525.9 2200.0 1526.1 2201.5 1526.2 2203.0 1526.3 2204.5 1526.5 2206.0 1526.8 2207.5 1527.1 2209.0 1527.1 2210.5 1527.0 2212.0 1527.2 2213.5 1527.3 2215.0 1527.2 2216.5 1527.1 2218.0 1527.2 2219.5 1527.6 2221.0 1527.9 2222.5 1527.9 2224.0 1527.9 2225.5 1528.0 2227.0 1528.0 2228.5 1528.0 2230.0 1528.1 2231.5 1528.3 2233.0 1528.5 2234.5 1528.4 2236.0 1528.2 2237.5 1528.2 2239.0 1528.4 2240.5 1528.6 2242.0 1528.9 2243.5 1529.1 2245.0 1529.1 2245.0 1530.8 2243.5 1530.6 2242.0 1530.5 2240.5 1530.6 2239.0 1530.9 2237.5 1531.0 2236.0 1530.8 2234.5 1530.5 2233.0 1530.6 2231.5 1530.6 2230.0 1530.3 2228.5 1530.1 2227.0 1529.9 2225.5 1530.1 2224.0 1530.2 2222.5 1530.1 2221.0 1530.0 2219.5 1530.0 2218.0 1530.1 2216.5 1530.1 2215.0 1529.6 2213.5 1529.4 2212.0 1529.4 2210.5 1529.4 2209.0 1529.6 2207.5 1529.5 2206.0 1529.0 2204.5 1528.8 2203.0 1528.9 2201.5 1528.8 2200.0 1528.6 2198.5 1528.5 2197.0 1528.8 2195.5 1529.0 2194.0 1528.8 2192.5 1528.5 2191.0 1528.2 2189.5 1528.1 2188.0 1527.9 2186.5 1527.7 2185.0 1527.9 2183.5 1528.1 2182.0 1527.9 2180.5 1527.6 2179.0 1527.4 2177.5 1527.4 2176.0 1527.6 2174.5 1527.5 2173.0 1527.1 2171.5 1527.4 2170.0 1527.5 2168.5 1527.0 2167.0 1526.6 2165.5 1526.7 2164.0 1526.7 2162.5 1526.5 2161.0 1526.5 2159.5 1526.4 2158.0 1526.2 2156.5 1526.2 2155.0 1526.3 2153.5 1526.2 2152.0 1526.1 2150.5 1526.3 2149.0 1526.6 2147.5 1526.5 2146.0 1526.2 2144.5 1525.9 2143.0 1525.7 2141.5 1525.5 2140.0 1525.2 2138.5 1525.1 2137.0 1525.1 2135.5 1525.0 2134.0 1524.9 2132.5 1525.1 2131.0 1525.2 2129.5 1525.2 2128.0 1525.2 2126.5 1524.9 2125.0 1524.7 2123.5 1525.1 2122.0 1525.1 2120.5 1524.5 2119.0 1524.1 2117.5 1523.7 2116.0 1523.4 2114.5 1523.6 2113.0 1524.1 2111.5 1524.2 2110.0 1524.1 2108.5 1524.1 2107.0 1524.1 2105.5 1523.7 2104.0 1523.5 2102.5 1523.8 2101.0 1523.9 2099.5 1523.6 2098.0 1523.3 2096.5 1523.4 2095.0 1523.5 2093.5 1523.4 2092.0 1523.1 2090.5 1522.4 2089.0 1522.2 2087.5 1522.5 2086.0 1522.9 2084.5 1522.7 2083.0 1522.0 2081.5 1521.6 2080.0 1521.8 2078.5 1522.2 2077.0 1522.3 2075.5 1522.1 2074.0 1521.9 2072.5 1521.8 2071.0 1521.9 2069.5 1521.9 2068.0 1521.7 2066.5 1521.5 2065.0 1521.2 2063.5 1521.1 2062.0 1521.0 2060.5 1520.3 2059.0 1520.0 2057.5 1519.8 2056.0 1519.5 2054.5 1519.4 2053.0 1519.6 2051.5 1520.0 2050.0 1519.9 2048.5 1519.4 2047.0 1519.7 2045.5 1519.8 2044.0 1519.0 2042.5 1518.3 2041.0 1518.5 2039.5 1518.8 2038.0 1518.4 2036.5 1518.1 2035.0 1518.6 2033.5 1518.5 2032.0 1517.6 2030.5 1517.3 2029.0 1517.8 2027.5 1517.9 2026.0 1517.5 2024.5 1517.5 2023.0 1517.5 2021.5 1516.6 2020.0 1516.4 2018.5 1516.8 2017.0 1516.5 2015.5 1516.6 2014.0 1517.0 2012.5 1516.4 2011.0 1515.7 2009.5 1515.9 2008.0 1516.1 2006.5 1515.5 2005.0 1515.2 2003.5 1515.4 2002.0 1515.4 2000.5 1515.3 1999.0 1515.0 1997.5 1514.2 1996.0 1514.2 1994.5 1514.7 1993.0 1514.8 1991.5 1514.4 1990.0 1513.3 1988.5 1512.4 1987.0 1512.5 1985.5 1513.1 1984.0 1513.3 1982.5 1513.1 1981.0 1512.9 1979.5 1512.6 1978.0 1512.1 1976.5 1511.8 1975.0 1511.7 1973.5 1511.4 1972.0 1510.5 1970.5 1509.8 1969.0 1509.6 1967.5 1510.0 1966.0 1510.8 1964.5 1510.8 1963.0 1509.8 1961.5 1508.7 1960.0 1508.5 1958.5 1508.9 1957.0 1508.8 1955.5 1508.5 1954.0 1508.7 1952.5 1508.3 1951.0 1507.0 1949.5 1506.4 1948.0 1506.7 1946.5 1507.0 1945.0 1506.9 1943.5 1506.5 1942.0 1505.8 1940.5 1504.7 1939.0 1503.9 1937.5 1503.8 1936.0 1504.4 1934.5 1505.1 1933.0 1504.6 1931.5 1503.9 1930.0 1504.0 1928.5 1503.6 1927.0 1503.1 1925.5 1503.4 1924.0 1503.4 1922.5 1502.5 1921.0 1502.2 1919.5 1502.6 1918.0 1502.3 1916.5 1502.0 1915.0 1501.6 1913.5 1501.8 1912.0 1502.4 1910.5 1502.6 1909.0 1502.7 1907.5 1502.5 1906.0 1501.6 1904.5 1500.5 1903.0 1500.5 1901.5 1501.1 1900.0 1500.5 1898.5 1500.0 1897.0 1500.7 1895.5 1501.2 1894.0 1500.7 1892.5 1500.3 1891.0 1500.2 1889.5 1499.5 1888.0 1498.8 1886.5 1498.4 1885.0 1498.3 1883.5 1498.8 1882.0 1499.1 1880.5 1498.7 1879.0 1498.0 1877.5 1498.3 1876.0 1498.7 1874.5 1498.2 1873.0 1496.9 1871.5 1496.1 1870.0 1495.6 1868.5 1494.8 1867.0 1494.4 1865.5 1494.5 1864.0 1494.4 1862.5 1494.0 1861.0 1494.2 1859.5 1494.4 1858.0 1494.1 1856.5 1493.6 1855.0 1492.1 1853.5 1491.6 1852.0 1492.0 1850.5 1491.5 1849.0 1491.2 1847.5 1491.2 1846.0 1490.7 1844.5 1491.0 1843.0 1491.3 1841.5 1490.0 1840.0 1488.2 1838.5 1487.4 1837.0 1486.8 1835.5 1486.6 1834.0 1486.7 1832.5 1486.0 1831.0 1485.6 1829.5 1484.7 1828.0 1483.6 1826.5 1483.7 1825.0 1483.4 1823.5 1482.7 1822.0 1482.7 1820.5 1482.3 1819.0 1480.8 1817.5 1480.0 1816.0 1479.8 1814.5 1479.1 1813.0 1479.1 1811.5 1478.9 1810.0 1478.1 1808.5 1477.4 1807.0 1476.7 1805.5 1476.4 1804.0 1476.1 1802.5 1475.6 1801.0 1474.9 1799.5 1474.1 1798.0 1474.0 1796.5 1473.6 1795.0 1472.1 1793.5 1470.5 1792.0 1469.6 1790.5 1468.7 1789.0 1467.8 1787.5 1467.8 1786.0 1467.9 1784.5 1466.8 1783.0 1465.7 1781.5 1465.1 1780.0 1464.2 1778.5 1463.6 1777.0 1463.0 1775.5 1462.2 1774.0 1462.4 1772.5 1462.1 1771.0 1460.4 1769.5 1460.0 1768.0 1459.7 1766.5 1458.3 1765.0 1457.7 1763.5 1457.0 1762.0 1455.5 1760.5 1454.8 1759.0 1454.1 1757.5 1453.1 1756.0 1452.5 1754.5 1451.5 1753.0 1450.8 1751.5 1450.3 1750.0 1448.6 1748.5 1448.0 1747.0 1448.2 1745.5 1447.2 1744.0 1446.6 1742.5 1445.8 1741.0 1445.0 1739.5 1444.5 1738.0 1443.2 1736.5 1441.5 1735.0 1440.7 1733.5 1440.0 1732.0 1438.3 1730.5 1436.6 1729.0 1435.3 1727.5 1435.1 1726.0 1435.2 1724.5 1434.5 1723.0 1434.4 1721.5 1433.9 1720.0 1432.4 1718.5 1430.9 1717.0 1429.9 1715.5 1428.8 1714.0 1427.7 1712.5 1427.4 1711.0 1427.0 1709.5 1425.5 1708.0 1423.6 1706.5 1422.6 1705.0 1422.4 1703.5 1421.4 1702.0 1419.6 1700.5 1419.1 1699.0 1418.3 1697.5 1416.6 1696.0 1415.2 1694.5 1414.3 1693.0 1414.0 1691.5 1413.7 1690.0 1412.8 1688.5 1411.3 1687.0 1409.5 1685.5 1407.8 1684.0 1407.2 1682.5 1406.8 1681.0 1405.2 1679.5 1403.3 1678.0 1402.1 1676.5 1401.6 1675.0 1401.2 1673.5 1400.3 1672.0 1399.9 1670.5 1398.4 1669.0 1396.6 1667.5 1396.9 1666.0 1396.4 1664.5 1394.7 1663.0 1392.9 1661.5 1391.5 1660.0 1391.1 1658.5 1389.4 1657.0 1387.3 1655.5 1386.2 1654.0 1385.0 1652.5 1385.1 1651.0 1384.4 1649.5 1381.7 1648.0 1380.1 1646.5 1380.4 1645.0 1379.7 1643.5 1377.9 1642.0 1376.3 1640.5 1374.6 1639.0 1372.4 1637.5 1370.1 1636.0 1369.1 1634.5 1369.5 1633.0 1368.7 1631.5 1366.8 1630.0 1365.7 1628.5 1364.0 1627.0 1362.1 1625.5 1361.2 1624.0 1360.0 1622.5 1357.5 1621.0 1354.4 1619.5 1353.0 1618.0 1352.5 1616.5 1351.4 1615.0 1349.4 1613.5 1347.3 1612.0 1346.3 1610.5 1345.2 1609.0 1343.6 1607.5 1342.1 1606.0 1340.4 1604.5 1338.4 1603.0 1336.4 1601.5 1335.1 1600.0 1334.1 1598.5 1332.7 1597.0 1331.0 1595.5 1330.2 1594.0 1329.3 1592.5 1327.0 1591.0 1324.6 1589.5 1322.4 1588.0 1321.2 1586.5 1321.3 1585.0 1319.9 1583.5 1317.3 1582.0 1314.9 1580.5 1311.9 1579.0 1309.6 1577.5 1309.0 1576.0 1308.7 1574.5 1307.4 1573.0 1305.7 1571.5 1304.0 1570.0 1301.4 1568.5 1299.1 1567.0 1298.3 1565.5 1296.8 1564.0 1294.4 1562.5 1292.7 1561.0 1290.6 1559.5 1288.4 1558.0 1287.9 1556.5 1286.1 1555.0 1282.0 1553.5 1279.8 1552.0 1278.7 1550.5 1276.6 1549.0 1275.4 1547.5 1272.9 1546.0 1269.4 1544.5 1268.2 1543.0 1266.8 1541.5 1264.0 1540.0 1261.7 1538.5 1260.4 1537.0 1259.1 1535.5 1256.9 1534.0 1253.1 1532.5 1249.6 1531.0 1247.8 1529.5 1246.6 1528.0 1245.4 1526.5 1244.4 1525.0 1241.9 1523.5 1238.5 1522.0 1236.4 1520.5 1235.4 1519.0 1234.0 1517.5 1230.6 1516.0 1226.5 1514.5 1224.2 1513.0 1223.3 1511.5 1221.2 1510.0 1217.3 1508.5 1213.5 1507.0 1210.8 1505.5 1209.4 1504.0 1208.8 1502.5 1207.1 1501.0 1204.4 1499.5 1201.1 1498.0 1197.6 1496.5 1195.2 1495.0 1194.2 1493.5 1193.8 1492.0 1193.5 1490.5 1192.5 1489.0 1190.4 1487.5 1187.4 1486.0 1185.0 1484.5 1183.0 1483.0 1179.7 1481.5 1176.9 1480.0 1176.4 1478.5 1175.1 1477.0 1171.7 1475.5 1168.0 1474.0 1165.7 1472.5 1165.3 1471.0 1164.4 1469.5 1160.6 1468.0 1155.9 1466.5 1154.0 1465.0 1153.2 1463.5 1150.1 1462.0 1146.8 1460.5 1145.2 1459.0 1145.0 1457.5 1142.7 1456.0 1138.6 1454.5 1136.1 1453.0 1135.6 1451.5 1135.3 1450.0 1132.8 1448.5 1129.1 1447.0 1126.9 1445.5 1125.5 1444.0 1123.6 1442.5 1121.1 1441.0 1118.8 1439.5 1117.1 1438.0 1115.4 1436.5 1114.2 1435.0 1112.7 1433.5 1110.8 1432.0 1108.2 1430.5 1104.3 1429.0 1101.6 1427.5 1100.9 1426.0 1099.3 1424.5 1095.4 1423.0 1092.1 1421.5 1090.5 1420.0 1089.4 1418.5 1087.6 1417.0 1085.2 1415.5 1082.6 1414.0 1079.3 1412.5 1075.8 1411.0 1073.3 1409.5 1071.8 1408.0 1070.2 1406.5 1067.9 1405.0 1064.9 1403.5 1063.3 1402.0 1062.8 1400.5 1060.8 1399.0 1058.5 1397.5 1055.6 1396.0 1052.1 1394.5 1051.1 1393.0 1050.1 1391.5 1048.2 1390.0 1047.4 1388.5 1045.1 1387.0 1042.1 1385.5 1040.8 1384.0 1039.2 1382.5 1037.7 1381.0 1035.5 1379.5 1033.2 1378.0 1031.8 1376.5 1029.3 1375.0 1025.7 1373.5 1024.4 1372.0 1024.7 1370.5 1023.6 1369.0 1021.6 1367.5 1019.7 1366.0 1017.2 1364.5 1015.7 1363.0 1014.9 1361.5 1013.1 1360.0 1011.6 1358.5 1009.9 1357.0 1007.4 1355.5 1005.3 1354.0 1003.6 1352.5 1001.2 1351.0 998.9 1349.5 996.1 1348.0 994.5 1346.5 993.1 1345.0 988.9 1343.5 986.5 1342.0 985.9 1340.5 983.4 1339.0 979.8 1337.5 975.0 1336.0 970.0 1334.5 966.9 1333.0 964.0 1331.5 960.2 1330.0 956.2 1328.5 951.8 1327.0 946.2 1325.5 941.2 1324.0 937.8 1322.5 933.9 1321.0 930.2 1319.5 928.1 1318.0 925.7 1316.5 921.1 1315.0 916.6 1313.5 914.0 1312.0 910.5 1310.5 907.5 1309.0 904.9 1307.5 901.4 1306.0 898.0 1304.5 893.7 1303.0 889.3 1301.5 885.4 1300.0 881.5 1298.5 877.7 1297.0 875.0 1295.5 870.6 1294.0 865.3 1292.5 862.0 1291.0 857.5 1289.5 852.4 1288.0 849.5 1286.5 847.9 1285.0 843.7 1283.5 837.6 1282.0 833.5 1280.5 831.3 1279.0 828.2 1277.5 824.0 1276.0 819.3 1274.5 815.2 1273.0 812.3 1271.5 810.3 1270.0 809.3 1268.5 808.3 1267.0 805.5 1265.5 802.1 1264.0 800.8 1262.5 797.8 1261.0 793.4 1259.5 790.3 1258.0 786.2 1256.5 782.2 1255.0 778.5 1253.5 773.9 1252.0 768.8 1250.5 765.1 1249.0 762.3 1247.5 758.8 1246.0 753.8 1244.5 747.1 1243.0 741.3 1241.5 736.5 1240.0 729.0 1238.5 721.3 1237.0 716.8 1235.5 714.8 1234.0 713.4 1232.5 711.2 1231.0 708.5 1229.5 704.6 1228.0 700.5 1226.5 698.0 1225.0 697.3 1223.5 696.5 1222.0 695.1 1220.5 695.1 1219.0 693.2 1217.5 688.0 1216.0 684.0 1214.5 681.1 1213.0 678.0 1211.5 674.5 1210.0 670.5 1208.5 666.8 1207.0 661.3 1205.5 657.2 1204.0 654.8 1202.5 649.6 1201.0 646.6 1199.5 645.2 1198.0 640.6 1196.5 637.5 1195.0 635.9 1193.5 634.6 1192.0 634.5 1190.5 632.1 1189.0 629.0 1187.5 628.2 1186.0 628.5 1184.5 629.6 1183.0 630.2 1181.5 631.6 1180.0 633.3 1178.5 631.5 1177.0 627.7 1175.5 625.1 1174.0 624.0 1172.5 622.1 1171.0 616.6 1169.5 612.8 1168.0 612.3 1166.5 610.4 1165.0 607.0 1163.5 603.9 1162.0 600.7 1160.5 597.5 1159.0 594.8 1157.5 592.1 1156.0 590.0 1154.5 587.0 1153.0 584.0 1151.5 581.7 1150.0 578.5 1148.5 576.3 1147.0 576.9 1145.5 575.0 1144.0 569.6 1142.5 566.3 1141.0 566.1 1139.5 565.1 1138.0 562.1 1136.5 559.9 1135.0 557.2 1133.5 553.7 1132.0 551.6 1130.5 550.4 1129.0 548.2 1127.5 546.5 1126.0 547.1 1124.5 545.2 1123.0 540.1 1121.5 537.4 1120.0 534.8 1118.5 528.8 1117.0 523.6 1115.5 520.7 1114.0 518.6 1112.5 516.9 1111.0 516.6 1109.5 518.1 1108.0 518.2 1106.5 518.1 1105.0 519.9 1103.5 520.5 1102.0 518.0 1100.5 515.5 1099.0 513.2 1097.5 507.8 1096.0 501.5 1094.5 497.7 1093.0 495.7 1091.5 494.8 1090.0 492.4 1088.5 488.9 1087.0 485.8 1085.5 484.6 1084.0 485.0 1082.5 484.6 1081.0 485.4 1079.5 489.8 1078.0 495.1 1076.5 497.5 1075.0 497.2 1073.5 497.2 1072.0 499.4 1070.5 502.8 1069.0 505.2 1067.5 507.3 1066.0 510.5 1064.5 513.3 1063.0 514.5 1061.5 514.8 1060.0 516.3 1058.5 519.5 1057.0 523.2 1055.5 524.0 1054.0 522.6 1052.5 524.3 1051.0 528.1 1049.5 529.5 1048.0 529.4 1046.5 529.3 1045.0 528.8 1043.5 530.2 1042.0 534.0 1040.5 536.7 1039.0 539.6 1037.5 544.7 1036.0 550.6 1034.5 556.4 1033.0 563.2 1031.5 569.5 1030.0 574.6 1028.5 581.3 1027.0 588.6 1025.5 592.4 1024.0 596.2 1022.5 600.2 1021.0 601.3 1019.5 601.0 1018.0 599.5 1016.5 598.3 1015.0 598.9 1013.5 600.3 1012.0 603.1 1010.5 603.3 1009.0 602.4 1007.5 605.6 1006.0 608.8 1004.5 609.1 1003.0 609.1 1001.5 610.1 1000.0 608.7 998.5 606.5 997.0 606.8 995.5 605.3 994.0 600.8 992.5 597.1 991.0 595.1 989.5 592.5 988.0 590.7 986.5 590.5 985.0 589.4 983.5 586.0 982.0 583.8 980.5 584.0 979.0 584.7 977.5 585.1 976.0 584.9 974.5 584.4 973.0 583.1 971.5 584.5 970.0 589.0 968.5 591.8 967.0 592.5 965.5 592.9 964.0 594.2 962.5 595.2 961.0 595.9 959.5 597.2 958.0 598.7 956.5 600.7 955.0 602.5 953.5 606.0 952.0 611.5 950.5 617.1 949.0 623.7 947.5 630.5 946.0 637.6 944.5 645.1 943.0 652.2 941.5 661.6 940.0 671.0 938.5 679.3 937.0 687.6 935.5 695.2 934.0 705.1 932.5 717.2 931.0 726.8 929.5 734.4 928.0 742.7 926.5 751.5 925.0 758.7 923.5 765.3 922.0 772.7 920.5 779.8 919.0 786.0 917.5 791.2 916.0 795.9 914.5 799.4 913.0 803.6 911.5 810.9 910.0 817.8 908.5 822.6 907.0 827.6 905.5 831.5 904.0 835.5 902.5 840.1 901.0 842.7 899.5 845.2 898.0 849.4 896.5 855.1 895.0 859.0 893.5 861.2 892.0 864.6 890.5 867.9 889.0 870.7 887.5 874.3 886.0 879.3 884.5 883.2 883.0 885.1 881.5 886.8 880.0 891.0 878.5 896.3 877.0 900.5 875.5 904.3 874.0 907.1 872.5 911.2 871.0 915.7 869.5 917.8 868.0 920.2 866.5 921.4 865.0 920.8 863.5 920.3 862.0 919.0 860.5 915.7 859.0 909.6 857.5 903.2 856.0 896.6 854.5 888.9 853.0 881.6 851.5 874.5 850.0 864.2 848.5 849.1 847.0 830.6 845.5 810.8 844.0 781.3 842.5 758.4 841.0 761.2 839.5 789.0 838.0 830.5 836.5 870.6 835.0 898.4 833.5 923.9 832.0 946.5 830.5 964.7 829.0 981.8 827.5 998.0 826.0 1012.6 824.5 1022.4 823.0 1029.1 821.5 1036.7 820.0 1043.0 818.5 1049.2 817.0 1056.1 815.5 1060.8 814.0 1063.8 812.5 1067.0 811.0 1070.8 809.5 1073.6 808.0 1075.0 806.5 1077.5 805.0 1080.2 803.5 1081.9 802.0 1085.6 800.5 1090.6 799.0 1093.3 797.5 1097.8 796.0 1106.4 794.5 1115.0 793.0 1122.2 791.5 1126.3 790.0 1127.8 788.5 1129.8 787.0 1131.9 785.5 1133.4 784.0 1134.4 782.5 1135.9 781.0 1138.3 779.5 1141.0 778.0 1142.5 776.5 1142.5 775.0 1141.9 773.5 1143.1 772.0 1145.0 770.5 1146.5 769.0 1147.7 767.5 1148.6 766.0 1150.2 764.5 1152.5 763.0 1153.7 761.5 1153.3 760.0 1154.1 758.5 1155.8 757.0 1155.5 755.5 1155.3 754.0 1156.2 752.5 1156.2 751.0 1156.9 749.5 1158.5 748.0 1160.4 746.5 1161.7 745.0 1163.4 743.5 1166.6 742.0 1168.3 740.5 1169.4 739.0 1172.5 737.5 1174.6 736.0 1175.8 734.5 1178.3 733.0 1180.5 731.5 1182.6 730.0 1185.6 728.5 1188.9 727.0 1192.4 725.5 1195.6 724.0 1198.2 722.5 1201.3 721.0 1205.9 719.5 1208.7 718.0 1209.4 716.5 1211.2 715.0 1213.3 713.5 1214.9 712.0 1217.2 710.5 1219.9 709.0 1221.3 707.5 1222.2 706.0 1224.4 704.5 1227.5 703.0 1229.6 701.5 1231.4 700.0 1233.2 698.5 1233.8 697.0 1233.5 695.5 1235.2 694.0 1238.1 692.5 1239.9 691.0 1240.9 689.5 1241.3 688.0 1243.3 686.5 1246.4 685.0 1247.8 683.5 1247.8 682.0 1247.0 680.5 1247.8 679.0 1249.7 677.5 1250.0 676.0 1250.2 674.5 1251.1 673.0 1252.2 671.5 1254.1 670.0 1256.5 668.5 1258.0 667.0 1258.5 665.5 1258.3 664.0 1258.3 662.5 1258.8 661.0 1259.6 659.5 1261.0 658.0 1261.3 656.5 1260.9 655.0 1261.7 653.5 1263.4 652.0 1263.4 650.5 1262.6 649.0 1263.0 647.5 1264.8 646.0 1267.0 644.5 1267.5 643.0 1267.2 641.5 1268.5 640.0 1270.3 638.5 1269.9 637.0 1268.4 635.5 1268.4 634.0 1269.4 632.5 1269.6 631.0 1270.8 629.5 1273.8 628.0 1276.1 626.5 1277.1 625.0 1276.8 623.5 1276.3 622.0 1277.4 620.5 1278.0 619.0 1279.2 617.5 1283.1 616.0 1288.2 614.5 1293.6 613.0 1300.0 611.5 1306.8 610.0 1310.9 608.5 1313.0 607.0 1314.9 605.5 1316.8 604.0 1317.6 602.5 1316.5 601.0 1314.2 599.5 1313.4 598.0 1314.4 596.5 1313.5 595.0 1311.6 593.5 1311.3 592.0 1311.3 590.5 1310.9 589.0 1309.8 587.5 1309.3 586.0 1310.0 584.5 1311.2 583.0 1311.7 581.5 1311.9 580.0 1312.1 578.5 1312.4 577.0 1311.9 575.5 1310.9 574.0 1311.9 572.5 1313.2 571.0 1313.6 569.5 1314.6 568.0 1315.2 566.5 1316.3 565.0 1318.2 563.5 1319.3 562.0 1321.4 560.5 1324.5 559.0 1327.0 557.5 1328.8 556.0 1330.2 554.5 1332.3 553.0 1335.4 551.5 1338.1 550.0 1339.8 548.5 1341.3 547.0 1343.3 545.5 1345.6 544.0 1348.7 542.5 1352.3 541.0 1356.0 539.5 1360.0 538.0 1362.8 536.5 1365.0 535.0 1367.9 533.5 1369.7 532.0 1370.9 530.5 1371.7 529.0 1371.4 527.5 1371.0 526.0 1370.1 524.5 1368.0 523.0 1364.8 521.5 1361.7 520.0 1359.1 518.5 1355.0 517.0 1348.3 515.5 1340.6 514.0 1331.2 512.5 1320.2 511.0 1303.9 509.5 1285.4 508.0 1270.6 506.5 1265.8 505.0 1274.6 503.5 1289.3 502.0 1303.2 500.5 1318.2 499.0 1333.3 497.5 1348.0 496.0 1362.7 494.5 1376.5 493.0 1388.6 491.5 1398.9 490.0 1407.8 488.5 1415.0 487.0 1421.5 485.5 1427.4 484.0 1432.1 482.5 1437.0 481.0 1441.9 479.5 1446.7 478.0 1451.4 476.5 1454.5 475.0 1457.1 473.5 1460.2 472.0 1462.8 470.5 1464.4 469.0 1466.6 467.5 1468.7 466.0 1469.9 464.5 1471.6 463.0 1472.5 461.5 1472.8 460.0 1474.0 458.5 1474.9 457.0 1475.6 455.5 1476.5 454.0 1477.5 452.5 1478.2 451.0 1479.2 449.5 1481.0 448.0 1482.4 446.5 1483.2 445.0 1484.1 443.5 1485.1 442.0 1486.6 440.5 1488.1 439.0 1489.7 437.5 1490.8 436.0 1491.3 434.5 1492.8 433.0 1494.6 431.5 1495.8 430.0 1496.4 428.5 1496.7 427.0 1497.2 425.5 1497.9 424.0 1499.2 422.5 1500.5 421.0 1501.3 419.5 1502.2 418.0 1502.8 416.5 1503.2 415.0 1503.7 413.5 1504.3 412.0 1504.9 410.5 1505.7 409.0 1506.2 407.5 1506.3 406.0 1506.5 404.5 1507.0 403.0 1507.4 401.5 1507.5 400.0 1507.9 398.5 1508.6 397.0 1509.0 395.5 1509.2 394.0 1509.6 392.5 1510.2 391.0 1510.7 389.5 1511.1 388.0 1511.5 386.5 1512.0 385.0 1512.1 383.5 1512.5 382.0 1513.1 380.5 1513.6 379.0 1514.1 377.5 1514.6 376.0 1514.8 374.5 1515.0 373.0 1515.3 371.5 1515.6 370.0 1515.9 368.5 1516.2 367.0 1516.3 365.5 1516.5 364.0 1516.9 362.5 1517.3 361.0 1517.5 359.5 1517.6 358.0 1517.8 356.5 1518.0 355.0 1518.3 353.5 1518.6 352.0 1518.9 350.5 1519.1 349.0 1519.5 347.5 1519.7 346.0 1519.8 344.5 1519.9 343.0 1520.0 341.5 1519.9 340.0 1519.9 338.5 1519.8 337.0 1520.0 335.5 1520.1 334.0 1520.1 332.5 1520.0 331.0 1520.2 329.5 1520.5 328.0 1520.6 326.5 1520.5 325.0 1520.5 323.5 1520.4 322.0 1520.5 320.5 1520.7 319.0 1520.7 317.5 1520.7 316.0 1520.8 314.5 1520.9 313.0 1521.0 311.5 1521.0 310.0 1520.8 308.5 1520.7 307.0 1520.7 305.5 1520.7 304.0 1520.9 302.5 1521.2 301.0 1521.4 299.5 1521.4 298.0 1521.5 296.5 1521.4 295.0 1521.4 293.5 1521.3 292.0 1521.3 290.5 1521.3 289.0 1521.3 287.5 1521.3 286.0 1521.5 284.5 1521.4 283.0 1521.4 281.5 1521.6 280.0 1521.6 278.5 1521.6 277.0 1521.6 275.5 1521.6 274.0 1521.8 272.5 1521.8 271.0 1521.8 269.5 1521.7 268.0 1521.7 266.5 1521.8 265.0 1521.8 263.5 1521.8 262.0 1521.9 260.5 1522.0 259.0 1522.0 257.5 1521.8 256.0 1521.9 254.5 1522.1 253.0 1522.0 251.5 1521.9 250.0 1522.0 248.5 1522.2 247.0 1522.3 245.5 1522.4 244.0 1522.3 242.5 1522.3 241.0 1522.4 239.5 1522.4 238.0 1522.2 236.5 1522.1 235.0 1522.2 233.5 1522.3 232.0 1522.4 230.5 1522.6 229.0 1522.6 227.5 1522.4 226.0 1522.5 224.5 1522.7 223.0 1522.6 221.5 1522.5 220.0 1522.6 218.5 1522.7 217.0 1522.9 215.5 1522.9 214.0 1522.8 212.5 1522.8 211.0 1522.9 209.5 1523.1 208.0 1523.1Z" fill="#0000ff" stroke="#0000ff" stroke-width="2.0" stroke-linejoin="round"/>
<path d="M208.0 1524.4 209.5 1524.8 211.0 1525.0 212.5 1524.9 214.0 1524.8 215.5 1524.7 217.0 1524.3 218.5 1524.3 220.0 1524.6 221.5 1524.5 223.0 1524.5 224.5 1524.4 226.0 1524.4 227.5 1524.6 229.0 1524.4 230.5 1523.8 232.0 1523.5 233.5 1523.6 235.0 1523.8 236.5 1524.0 238.0 1524.1 239.5 1524.1 241.0 1524.2 242.5 1523.7 244.0 1523.6 245.5 1523.8 247.0 1523.5 248.5 1523.5 250.0 1524.0 251.5 1524.2 253.0 1524.2 254.5 1524.1 256.0 1524.1 257.5 1524.0 259.0 1524.2 260.5 1523.8 262.0 1523.3 263.5 1523.3 265.0 1523.1 266.5 1523.4 268.0 1523.5 269.5 1523.2 271.0 1523.4 272.5 1523.0 274.0 1522.4 275.5 1522.3 277.0 1522.9 278.5 1523.3 280.0 1523.2 281.5 1523.2 283.0 1523.2 284.5 1523.2 286.0 1523.4 287.5 1523.2 289.0 1522.8 290.5 1522.8 292.0 1522.7 293.5 1522.4 295.0 1522.1 296.5 1522.0 298.0 1522.0 299.5 1521.7 301.0 1521.5 302.5 1521.4 304.0 1521.3 305.5 1521.1 307.0 1521.0 308.5 1521.3 310.0 1521.6 311.5 1521.8 313.0 1521.7 314.5 1521.2 316.0 1520.7 317.5 1520.8 319.0 1521.4 320.5 1521.3 322.0 1520.5 323.5 1520.4 325.0 1520.9 326.5 1521.0 328.0 1520.5 329.5 1520.3 331.0 1520.4 332.5 1520.3 334.0 1520.1 335.5 1520.0 337.0 1519.8 338.5 1519.5 340.0 1518.8 341.5 1518.0 343.0 1517.8 344.5 1517.8 346.0 1518.0 347.5 1518.3 349.0 1518.4 350.5 1517.7 352.0 1516.7 353.5 1516.3 355.0 1516.5 356.5 1516.3 358.0 1515.9 359.5 1515.9 361.0 1516.0 362.5 1515.6 364.0 1515.4 365.5 1515.7 367.0 1515.7 368.5 1515.3 370.0 1514.4 371.5 1513.6 373.0 1513.5 374.5 1514.0 376.0 1514.0 377.5 1513.4 379.0 1512.9 380.5 1512.0 382.0 1510.8 383.5 1510.0 385.0 1509.3 386.5 1508.2 388.0 1507.0 389.5 1506.5 391.0 1506.1 392.5 1505.1 394.0 1504.3 395.5 1503.6 397.0 1502.8 398.5 1501.9 400.0 1501.2 401.5 1500.6 403.0 1499.6 404.5 1498.6 406.0 1498.3 407.5 1498.0 409.0 1497.4 410.5 1497.1 412.0 1496.4 413.5 1495.4 415.0 1494.5 416.5 1493.9 418.0 1493.2 419.5 1492.1 421.0 1491.3 422.5 1491.0 424.0 1490.0 425.5 1488.6 427.0 1487.2 428.5 1486.2 430.0 1485.4 431.5 1484.2 433.0 1483.0 434.5 1481.7 436.0 1480.2 437.5 1479.0 439.0 1477.5 440.5 1475.7 442.0 1474.9 443.5 1474.7 445.0 1474.1 446.5 1472.8 448.0 1470.9 449.5 1468.9 451.0 1468.1 452.5 1468.0 454.0 1466.9 455.5 1465.1 457.0 1464.2 458.5 1463.7 460.0 1462.4 461.5 1461.3 463.0 1460.2 464.5 1458.3 466.0 1455.8 467.5 1453.9 469.0 1452.3 470.5 1450.3 472.0 1447.7 473.5 1444.4 475.0 1441.0 476.5 1438.1 478.0 1435.6 479.5 1432.2 481.0 1427.7 482.5 1422.5 484.0 1416.6 485.5 1410.1 487.0 1401.8 488.5 1391.8 490.0 1381.9 491.5 1372.9 493.0 1363.3 494.5 1352.3 496.0 1339.7 497.5 1323.1 499.0 1304.2 500.5 1286.0 502.0 1266.2 503.5 1249.6 505.0 1240.0 506.5 1234.7 508.0 1240.8 509.5 1256.8 511.0 1275.5 512.5 1291.4 514.0 1302.8 515.5 1313.9 517.0 1323.7 518.5 1331.7 520.0 1336.8 521.5 1340.2 523.0 1342.9 524.5 1344.9 526.0 1346.2 527.5 1346.9 529.0 1347.9 530.5 1348.3 532.0 1346.7 533.5 1344.2 535.0 1342.3 536.5 1340.1 538.0 1336.0 539.5 1331.6 541.0 1328.4 542.5 1325.2 544.0 1321.0 545.5 1317.1 547.0 1313.1 548.5 1309.0 550.0 1306.0 551.5 1302.7 553.0 1298.5 554.5 1294.9 556.0 1290.9 557.5 1285.8 559.0 1281.3 560.5 1278.0 562.0 1275.2 563.5 1272.6 565.0 1270.4 566.5 1267.9 568.0 1265.7 569.5 1264.7 571.0 1263.7 572.5 1263.1 574.0 1262.6 575.5 1262.1 577.0 1261.8 578.5 1261.6 580.0 1261.7 581.5 1261.6 583.0 1261.7 584.5 1262.1 586.0 1261.5 587.5 1261.5 589.0 1262.8 590.5 1264.5 592.0 1265.7 593.5 1266.6 595.0 1267.5 596.5 1268.0 598.0 1267.5 599.5 1267.4 601.0 1267.7 602.5 1267.3 604.0 1266.4 605.5 1263.6 607.0 1259.6 608.5 1255.7 610.0 1251.6 611.5 1246.9 613.0 1242.7 614.5 1239.8 616.0 1237.7 617.5 1234.6 619.0 1231.6 620.5 1230.0 622.0 1228.6 623.5 1227.1 625.0 1225.0 626.5 1223.2 628.0 1223.2 629.5 1223.1 631.0 1221.7 632.5 1220.4 634.0 1219.9 635.5 1220.1 637.0 1219.3 638.5 1217.4 640.0 1216.3 641.5 1216.1 643.0 1216.1 644.5 1215.4 646.0 1214.5 647.5 1214.9 649.0 1215.8 650.5 1215.9 652.0 1215.4 653.5 1214.9 655.0 1213.9 656.5 1212.3 658.0 1210.5 659.5 1209.4 661.0 1209.5 662.5 1208.8 664.0 1206.6 665.5 1204.7 667.0 1204.6 668.5 1205.0 670.0 1203.7 671.5 1202.1 673.0 1201.6 674.5 1200.6 676.0 1198.7 677.5 1198.2 679.0 1198.4 680.5 1196.8 682.0 1195.2 683.5 1194.3 685.0 1193.2 686.5 1192.6 688.0 1191.9 689.5 1191.2 691.0 1189.9 692.5 1188.0 694.0 1186.9 695.5 1185.4 697.0 1184.3 698.5 1184.7 700.0 1184.3 701.5 1182.5 703.0 1180.6 704.5 1179.0 706.0 1177.9 707.5 1176.7 709.0 1175.8 710.5 1174.5 712.0 1171.9 713.5 1169.0 715.0 1166.9 716.5 1165.9 718.0 1165.0 719.5 1162.6 721.0 1159.4 722.5 1157.4 724.0 1155.8 725.5 1154.8 727.0 1153.2 728.5 1150.9 730.0 1150.0 731.5 1148.6 733.0 1146.4 734.5 1144.5 736.0 1141.8 737.5 1139.7 739.0 1138.6 740.5 1136.9 742.0 1135.6 743.5 1135.0 745.0 1133.6 746.5 1131.9 748.0 1130.8 749.5 1129.3 751.0 1127.2 752.5 1125.4 754.0 1124.8 755.5 1124.1 757.0 1122.2 758.5 1120.8 760.0 1120.2 761.5 1120.1 763.0 1119.7 764.5 1118.3 766.0 1118.0 767.5 1118.0 769.0 1116.5 770.5 1115.3 772.0 1114.8 773.5 1113.8 775.0 1112.3 776.5 1111.3 778.0 1111.5 779.5 1111.9 781.0 1110.4 782.5 1108.1 784.0 1107.4 785.5 1107.3 787.0 1106.7 788.5 1105.2 790.0 1103.2 791.5 1101.3 793.0 1099.9 794.5 1099.8 796.0 1099.5 797.5 1098.2 799.0 1095.8 800.5 1092.2 802.0 1088.6 803.5 1085.9 805.0 1082.8 806.5 1080.0 808.0 1077.9 809.5 1074.2 811.0 1070.0 812.5 1067.0 814.0 1062.8 815.5 1057.1 817.0 1052.9 818.5 1049.7 820.0 1044.2 821.5 1036.9 823.0 1030.3 824.5 1021.8 826.0 1010.1 827.5 997.0 829.0 984.6 830.5 971.6 832.0 955.5 833.5 940.9 835.0 926.9 836.5 911.7 838.0 900.2 839.5 895.1 841.0 900.7 842.5 915.7 844.0 933.9 845.5 948.1 847.0 958.6 848.5 967.6 850.0 976.4 851.5 982.3 853.0 985.0 854.5 988.6 856.0 992.1 857.5 995.3 859.0 998.4 860.5 999.1 862.0 998.4 863.5 997.8 865.0 997.6 866.5 997.6 868.0 996.8 869.5 995.5 871.0 994.1 872.5 992.0 874.0 989.5 875.5 986.7 877.0 983.6 878.5 980.5 880.0 977.4 881.5 975.3 883.0 973.9 884.5 972.2 886.0 970.8 887.5 969.3 889.0 966.7 890.5 963.5 892.0 960.5 893.5 959.5 895.0 958.9 896.5 957.0 898.0 954.8 899.5 951.5 901.0 948.0 902.5 946.7 904.0 945.9 905.5 943.8 907.0 941.0 908.5 937.4 910.0 934.1 911.5 932.0 913.0 930.2 914.5 928.1 916.0 925.2 917.5 921.0 919.0 918.6 920.5 917.8 922.0 914.6 923.5 911.3 925.0 910.1 926.5 908.8 928.0 905.4 929.5 901.6 931.0 899.2 932.5 895.5 934.0 891.6 935.5 888.8 937.0 884.5 938.5 879.3 940.0 873.6 941.5 866.8 943.0 859.3 944.5 851.8 946.0 846.5 947.5 844.1 949.0 842.8 950.5 840.0 952.0 837.0 953.5 837.0 955.0 838.6 956.5 838.2 958.0 836.9 959.5 836.8 961.0 837.3 962.5 836.6 964.0 834.6 965.5 833.0 967.0 832.4 968.5 832.2 970.0 832.9 971.5 834.4 973.0 834.3 974.5 833.4 976.0 833.1 977.5 832.6 979.0 832.5 980.5 833.5 982.0 833.8 983.5 832.0 985.0 831.7 986.5 834.2 988.0 836.7 989.5 837.2 991.0 837.1 992.5 838.6 994.0 840.2 995.5 840.9 997.0 841.9 998.5 844.7 1000.0 847.7 1001.5 847.8 1003.0 848.2 1004.5 851.6 1006.0 854.7 1007.5 856.3 1009.0 857.6 1010.5 857.6 1012.0 857.0 1013.5 857.3 1015.0 858.2 1016.5 859.2 1018.0 859.3 1019.5 858.6 1021.0 858.5 1022.5 857.4 1024.0 854.6 1025.5 851.4 1027.0 848.7 1028.5 846.7 1030.0 844.8 1031.5 842.6 1033.0 838.9 1034.5 835.5 1036.0 833.3 1037.5 830.8 1039.0 828.7 1040.5 826.8 1042.0 825.4 1043.5 825.2 1045.0 824.6 1046.5 823.3 1048.0 821.7 1049.5 821.1 1051.0 823.1 1052.5 826.7 1054.0 830.0 1055.5 832.3 1057.0 834.0 1058.5 836.6 1060.0 839.3 1061.5 839.4 1063.0 837.6 1064.5 835.8 1066.0 833.9 1067.5 832.5 1069.0 829.8 1070.5 824.5 1072.0 820.7 1073.5 818.3 1075.0 814.7 1076.5 811.6 1078.0 809.4 1079.5 809.2 1081.0 810.4 1082.5 811.7 1084.0 814.3 1085.5 816.4 1087.0 818.3 1088.5 820.8 1090.0 822.3 1091.5 824.5 1093.0 827.9 1094.5 829.8 1096.0 831.6 1097.5 833.7 1099.0 835.1 1100.5 836.9 1102.0 838.2 1103.5 839.1 1105.0 839.9 1106.5 840.6 1108.0 842.7 1109.5 846.0 1111.0 849.1 1112.5 850.2 1114.0 850.0 1115.5 850.6 1117.0 851.9 1118.5 853.6 1120.0 855.4 1121.5 856.6 1123.0 858.3 1124.5 859.9 1126.0 861.1 1127.5 862.7 1129.0 863.9 1130.5 865.6 1132.0 868.1 1133.5 870.2 1135.0 872.4 1136.5 873.6 1138.0 873.6 1139.5 874.4 1141.0 876.3 1142.5 878.7 1144.0 880.5 1145.5 882.5 1147.0 886.0 1148.5 890.2 1150.0 892.7 1151.5 893.1 1153.0 894.5 1154.5 897.5 1156.0 900.5 1157.5 903.1 1159.0 905.7 1160.5 908.6 1162.0 911.8 1163.5 914.9 1165.0 916.8 1166.5 918.2 1168.0 920.8 1169.5 923.9 1171.0 925.5 1172.5 926.3 1174.0 927.2 1175.5 927.8 1177.0 928.5 1178.5 929.0 1180.0 929.2 1181.5 929.8 1183.0 931.7 1184.5 932.8 1186.0 931.7 1187.5 931.8 1189.0 933.5 1190.5 934.3 1192.0 935.0 1193.5 936.7 1195.0 938.0 1196.5 939.4 1198.0 942.3 1199.5 944.4 1201.0 946.1 1202.5 948.9 1204.0 950.6 1205.5 953.3 1207.0 957.1 1208.5 960.7 1210.0 964.6 1211.5 967.3 1213.0 969.6 1214.5 971.3 1216.0 972.7 1217.5 974.8 1219.0 976.3 1220.5 977.9 1222.0 979.2 1223.5 980.4 1225.0 980.9 1226.5 980.7 1228.0 982.8 1229.5 986.1 1231.0 987.7 1232.5 988.0 1234.0 989.7 1235.5 992.0 1237.0 992.5 1238.5 993.5 1240.0 997.3 1241.5 1002.8 1243.0 1006.8 1244.5 1009.6 1246.0 1014.3 1247.5 1020.2 1249.0 1025.2 1250.5 1028.2 1252.0 1030.1 1253.5 1033.0 1255.0 1035.8 1256.5 1037.5 1258.0 1039.9 1259.5 1042.6 1261.0 1044.8 1262.5 1046.7 1264.0 1047.7 1265.5 1048.5 1267.0 1050.8 1268.5 1053.2 1270.0 1053.8 1271.5 1054.1 1273.0 1056.7 1274.5 1060.0 1276.0 1061.6 1277.5 1063.7 1279.0 1065.6 1280.5 1065.7 1282.0 1067.7 1283.5 1071.7 1285.0 1074.1 1286.5 1076.5 1288.0 1079.3 1289.5 1081.8 1291.0 1083.7 1292.5 1084.9 1294.0 1086.6 1295.5 1088.1 1297.0 1089.8 1298.5 1092.8 1300.0 1096.1 1301.5 1098.3 1303.0 1099.1 1304.5 1100.2 1306.0 1102.7 1307.5 1106.4 1309.0 1108.3 1310.5 1108.3 1312.0 1110.5 1313.5 1113.4 1315.0 1115.2 1316.5 1117.2 1318.0 1118.6 1319.5 1119.7 1321.0 1122.2 1322.5 1124.5 1324.0 1125.1 1325.5 1126.0 1327.0 1128.5 1328.5 1132.3 1330.0 1135.7 1331.5 1137.9 1333.0 1140.6 1334.5 1143.7 1336.0 1146.9 1337.5 1149.7 1339.0 1151.0 1340.5 1153.1 1342.0 1155.6 1343.5 1157.0 1345.0 1157.3 1346.5 1155.8 1348.0 1154.0 1349.5 1153.5 1351.0 1152.0 1352.5 1149.7 1354.0 1148.5 1355.5 1145.7 1357.0 1141.8 1358.5 1138.6 1360.0 1133.5 1361.5 1125.4 1363.0 1117.1 1364.5 1108.2 1366.0 1097.6 1367.5 1086.7 1369.0 1077.7 1370.5 1070.6 1372.0 1063.9 1373.5 1057.2 1375.0 1048.9 1376.5 1040.9 1378.0 1035.8 1379.5 1034.5 1381.0 1043.9 1382.5 1060.3 1384.0 1074.1 1385.5 1084.7 1387.0 1095.2 1388.5 1104.3 1390.0 1112.8 1391.5 1120.9 1393.0 1129.4 1394.5 1137.2 1396.0 1144.0 1397.5 1151.7 1399.0 1160.1 1400.5 1167.3 1402.0 1172.6 1403.5 1178.1 1405.0 1183.7 1406.5 1187.3 1408.0 1190.2 1409.5 1194.9 1411.0 1199.4 1412.5 1202.4 1414.0 1205.0 1415.5 1207.8 1417.0 1211.8 1418.5 1216.1 1420.0 1219.0 1421.5 1220.4 1423.0 1221.7 1424.5 1224.6 1426.0 1226.8 1427.5 1228.4 1429.0 1231.0 1430.5 1232.6 1432.0 1233.2 1433.5 1235.7 1435.0 1238.9 1436.5 1241.1 1438.0 1242.4 1439.5 1243.8 1441.0 1246.0 1442.5 1248.2 1444.0 1249.7 1445.5 1250.6 1447.0 1251.3 1448.5 1252.9 1450.0 1254.6 1451.5 1255.9 1453.0 1257.2 1454.5 1258.4 1456.0 1259.3 1457.5 1260.3 1459.0 1261.8 1460.5 1263.0 1462.0 1264.9 1463.5 1267.3 1465.0 1268.1 1466.5 1268.7 1468.0 1271.1 1469.5 1272.4 1471.0 1273.2 1472.5 1275.8 1474.0 1277.9 1475.5 1278.5 1477.0 1279.5 1478.5 1281.1 1480.0 1282.5 1481.5 1284.4 1483.0 1285.5 1484.5 1286.2 1486.0 1287.8 1487.5 1289.5 1489.0 1291.2 1490.5 1292.0 1492.0 1292.4 1493.5 1293.7 1495.0 1295.1 1496.5 1295.6 1498.0 1296.8 1499.5 1299.3 1501.0 1300.6 1502.5 1300.6 1504.0 1301.7 1505.5 1303.0 1507.0 1303.9 1508.5 1304.7 1510.0 1305.7 1511.5 1307.9 1513.0 1309.9 1514.5 1310.9 1516.0 1312.0 1517.5 1313.3 1519.0 1314.7 1520.5 1315.3 1522.0 1316.7 1523.5 1318.8 1525.0 1319.4 1526.5 1320.9 1528.0 1322.7 1529.5 1323.3 1531.0 1324.7 1532.5 1326.3 1534.0 1327.7 1535.5 1330.4 1537.0 1332.0 1538.5 1332.8 1540.0 1334.5 1541.5 1336.1 1543.0 1337.6 1544.5 1338.9 1546.0 1340.5 1547.5 1342.0 1549.0 1343.5 1550.5 1345.4 1552.0 1346.7 1553.5 1348.4 1555.0 1350.1 1556.5 1350.6 1558.0 1352.2 1559.5 1355.1 1561.0 1357.1 1562.5 1357.9 1564.0 1358.6 1565.5 1360.5 1567.0 1362.1 1568.5 1363.4 1570.0 1365.0 1571.5 1365.8 1573.0 1367.2 1574.5 1369.3 1576.0 1370.3 1577.5 1370.6 1579.0 1371.8 1580.5 1373.8 1582.0 1374.9 1583.5 1375.8 1585.0 1377.4 1586.5 1378.4 1588.0 1379.8 1589.5 1380.9 1591.0 1381.4 1592.5 1383.2 1594.0 1385.3 1595.5 1386.2 1597.0 1386.4 1598.5 1387.5 1600.0 1389.2 1601.5 1390.4 1603.0 1391.1 1604.5 1391.7 1606.0 1392.9 1607.5 1393.6 1609.0 1394.4 1610.5 1395.8 1612.0 1396.6 1613.5 1397.7 1615.0 1399.2 1616.5 1400.4 1618.0 1401.0 1619.5 1401.7 1621.0 1402.8 1622.5 1403.8 1624.0 1405.9 1625.5 1407.4 1627.0 1407.5 1628.5 1408.4 1630.0 1409.8 1631.5 1411.4 1633.0 1413.4 1634.5 1414.7 1636.0 1415.3 1637.5 1415.3 1639.0 1415.5 1640.5 1416.5 1642.0 1417.8 1643.5 1419.7 1645.0 1421.2 1646.5 1421.8 1648.0 1422.6 1649.5 1423.4 1651.0 1424.2 1652.5 1424.7 1654.0 1424.6 1655.5 1424.8 1657.0 1425.0 1658.5 1425.9 1660.0 1427.2 1661.5 1427.5 1663.0 1428.1 1664.5 1429.0 1666.0 1429.6 1667.5 1431.3 1669.0 1433.3 1670.5 1434.2 1672.0 1434.2 1673.5 1434.2 1675.0 1434.8 1676.5 1436.1 1678.0 1437.7 1679.5 1438.4 1681.0 1438.3 1682.5 1438.8 1684.0 1440.1 1685.5 1441.3 1687.0 1441.7 1688.5 1441.5 1690.0 1442.3 1691.5 1443.2 1693.0 1443.8 1694.5 1445.3 1696.0 1446.2 1697.5 1445.9 1699.0 1445.9 1700.5 1446.5 1702.0 1446.8 1703.5 1447.4 1705.0 1448.9 1706.5 1450.1 1708.0 1450.3 1709.5 1450.8 1711.0 1452.1 1712.5 1452.6 1714.0 1451.9 1715.5 1451.5 1717.0 1452.5 1718.5 1454.0 1720.0 1454.6 1721.5 1454.4 1723.0 1455.0 1724.5 1456.0 1726.0 1456.4 1727.5 1457.4 1729.0 1458.9 1730.5 1459.8 1732.0 1460.6 1733.5 1460.8 1735.0 1460.6 1736.5 1461.1 1738.0 1462.0 1739.5 1462.4 1741.0 1462.9 1742.5 1463.6 1744.0 1464.3 1745.5 1465.0 1747.0 1465.6 1748.5 1465.9 1750.0 1466.6 1751.5 1467.5 1753.0 1467.6 1754.5 1468.4 1756.0 1469.8 1757.5 1470.1 1759.0 1470.6 1760.5 1471.2 1762.0 1471.5 1763.5 1472.0 1765.0 1472.7 1766.5 1473.7 1768.0 1475.0 1769.5 1475.7 1771.0 1475.2 1772.5 1475.6 1774.0 1476.8 1775.5 1477.2 1777.0 1477.8 1778.5 1478.7 1780.0 1479.4 1781.5 1479.8 1783.0 1480.1 1784.5 1480.7 1786.0 1481.7 1787.5 1482.3 1789.0 1482.7 1790.5 1483.1 1792.0 1482.9 1793.5 1483.0 1795.0 1483.8 1796.5 1484.9 1798.0 1485.5 1799.5 1486.4 1801.0 1487.1 1802.5 1487.1 1804.0 1487.1 1805.5 1487.4 1807.0 1488.1 1808.5 1488.6 1810.0 1488.7 1811.5 1489.3 1813.0 1489.6 1814.5 1489.2 1816.0 1489.3 1817.5 1489.5 1819.0 1489.5 1820.5 1490.2 1822.0 1491.0 1823.5 1490.9 1825.0 1491.3 1826.5 1492.1 1828.0 1492.7 1829.5 1492.9 1831.0 1493.3 1832.5 1493.7 1834.0 1493.7 1835.5 1493.8 1837.0 1493.8 1838.5 1493.9 1840.0 1494.7 1841.5 1495.5 1843.0 1495.6 1844.5 1495.6 1846.0 1495.5 1847.5 1495.7 1849.0 1496.2 1850.5 1496.7 1852.0 1497.2 1853.5 1496.9 1855.0 1496.5 1856.5 1496.9 1858.0 1497.7 1859.5 1498.2 1861.0 1498.4 1862.5 1499.1 1864.0 1500.0 1865.5 1499.9 1867.0 1499.7 1868.5 1499.9 1870.0 1500.7 1871.5 1501.4 1873.0 1501.0 1874.5 1501.0 1876.0 1501.7 1877.5 1502.2 1879.0 1503.1 1880.5 1503.7 1882.0 1503.8 1883.5 1503.3 1885.0 1502.9 1886.5 1503.5 1888.0 1504.4 1889.5 1504.5 1891.0 1504.8 1892.5 1505.1 1894.0 1505.0 1895.5 1505.5 1897.0 1506.4 1898.5 1506.3 1900.0 1505.8 1901.5 1506.0 1903.0 1506.7 1904.5 1507.2 1906.0 1507.3 1907.5 1507.3 1909.0 1507.6 1910.5 1507.4 1912.0 1507.4 1913.5 1507.6 1915.0 1507.9 1916.5 1508.4 1918.0 1509.0 1919.5 1509.5 1921.0 1509.8 1922.5 1510.1 1924.0 1510.0 1925.5 1509.6 1927.0 1509.7 1928.5 1510.0 1930.0 1510.0 1931.5 1509.7 1933.0 1510.1 1934.5 1510.9 1936.0 1510.9 1937.5 1510.9 1939.0 1511.4 1940.5 1511.5 1942.0 1511.5 1943.5 1511.8 1945.0 1512.0 1946.5 1512.3 1948.0 1512.5 1949.5 1512.5 1951.0 1512.9 1952.5 1513.5 1954.0 1513.4 1955.5 1513.3 1957.0 1513.3 1958.5 1513.8 1960.0 1514.4 1961.5 1514.8 1963.0 1515.1 1964.5 1515.2 1966.0 1515.0 1967.5 1514.8 1969.0 1515.4 1970.5 1516.3 1972.0 1516.4 1973.5 1516.0 1975.0 1516.1 1976.5 1516.0 1978.0 1515.7 1979.5 1515.9 1981.0 1516.3 1982.5 1516.5 1984.0 1516.7 1985.5 1516.6 1987.0 1517.1 1988.5 1517.6 1990.0 1517.6 1991.5 1517.5 1993.0 1517.6 1994.5 1517.9 1996.0 1518.0 1997.5 1518.2 1999.0 1518.2 2000.5 1518.0 2002.0 1518.0 2003.5 1518.2 2005.0 1518.0 2006.5 1518.1 2008.0 1518.6 2009.5 1518.8 2011.0 1518.8 2012.5 1518.5 2014.0 1518.5 2015.5 1518.9 2017.0 1518.8 2018.5 1519.0 2020.0 1519.1 2021.5 1518.8 2023.0 1519.3 2024.5 1519.7 2026.0 1519.5 2027.5 1518.9 2029.0 1518.9 2030.5 1519.4 2032.0 1519.7 2033.5 1519.5 2035.0 1519.7 2036.5 1520.1 2038.0 1519.8 2039.5 1519.6 2041.0 1520.1 2042.5 1520.2 2044.0 1520.1 2045.5 1520.5 2047.0 1520.6 2048.5 1520.5 2050.0 1520.6 2051.5 1520.9 2053.0 1521.1 2054.5 1521.2 2056.0 1521.2 2057.5 1521.2 2059.0 1521.2 2060.5 1521.3 2062.0 1521.4 2063.5 1521.6 2065.0 1521.9 2066.5 1522.1 2068.0 1522.4 2069.5 1522.3 2071.0 1522.5 2072.5 1522.8 2074.0 1522.6 2075.5 1522.6 2077.0 1523.0 2078.5 1523.1 2080.0 1522.9 2081.5 1523.4 2083.0 1523.8 2084.5 1523.7 2086.0 1523.4 2087.5 1523.2 2089.0 1523.3 2090.5 1523.6 2092.0 1523.7 2093.5 1523.5 2095.0 1523.8 2096.5 1524.2 2098.0 1524.0 2099.5 1523.8 2101.0 1523.8 2102.5 1524.0 2104.0 1524.4 2105.5 1524.5 2107.0 1524.6 2108.5 1524.6 2110.0 1524.6 2111.5 1524.6 2113.0 1524.6 2114.5 1524.5 2116.0 1524.8 2117.5 1525.3 2119.0 1525.4 2120.5 1524.9 2122.0 1525.0 2123.5 1525.5 2125.0 1525.6 2126.5 1525.5 2128.0 1525.4 2129.5 1525.3 2131.0 1525.3 2132.5 1525.2 2134.0 1525.2 2135.5 1525.4 2137.0 1525.4 2138.5 1525.6 2140.0 1525.9 2141.5 1526.1 2143.0 1526.4 2144.5 1526.3 2146.0 1525.7 2147.5 1525.6 2149.0 1526.0 2150.5 1526.3 2152.0 1526.2 2153.5 1526.2 2155.0 1526.4 2156.5 1526.5 2158.0 1526.6 2159.5 1526.9 2161.0 1526.9 2162.5 1526.9 2164.0 1526.9 2165.5 1526.9 2167.0 1526.8 2168.5 1526.7 2170.0 1526.6 2171.5 1526.8 2173.0 1526.9 2174.5 1527.2 2176.0 1527.4 2177.5 1527.4 2179.0 1527.6 2180.5 1527.6 2182.0 1527.6 2183.5 1528.0 2185.0 1528.0 2186.5 1527.7 2188.0 1527.7 2189.5 1527.9 2191.0 1528.0 2192.5 1527.9 2194.0 1528.1 2195.5 1528.2 2197.0 1528.2 2198.5 1528.1 2200.0 1528.2 2201.5 1528.3 2203.0 1528.6 2204.5 1528.9 2206.0 1528.9 2207.5 1528.8 2209.0 1528.9 2210.5 1528.9 2212.0 1528.9 2213.5 1529.1 2215.0 1529.2 2216.5 1529.3 2218.0 1529.2 2219.5 1529.1 2221.0 1529.1 2222.5 1529.2 2224.0 1529.5 2225.5 1529.7 2227.0 1529.9 2228.5 1530.0 2230.0 1529.9 2231.5 1529.9 2233.0 1529.9 2234.5 1530.0 2236.0 1530.1 2237.5 1530.1 2239.0 1530.1 2240.5 1530.2 2242.0 1530.3 2243.5 1530.3 2245.0 1530.3 2245.0 1532.4 2243.5 1532.5 2242.0 1532.6 2240.5 1532.5 2239.0 1532.5 2237.5 1532.4 2236.0 1532.1 2234.5 1532.1 2233.0 1532.1 2231.5 1531.8 2230.0 1531.6 2228.5 1531.6 2227.0 1531.6 2225.5 1531.8 2224.0 1531.9 2222.5 1531.8 2221.0 1531.8 2219.5 1531.7 2218.0 1531.7 2216.5 1531.7 2215.0 1531.4 2213.5 1531.2 2212.0 1531.2 2210.5 1531.1 2209.0 1531.0 2207.5 1531.0 2206.0 1531.2 2204.5 1531.2 2203.0 1531.0 2201.5 1531.1 2200.0 1531.0 2198.5 1530.8 2197.0 1530.5 2195.5 1530.4 2194.0 1530.6 2192.5 1530.8 2191.0 1530.9 2189.5 1530.7 2188.0 1530.5 2186.5 1530.7 2185.0 1530.7 2183.5 1530.7 2182.0 1530.8 2180.5 1530.7 2179.0 1530.3 2177.5 1530.0 2176.0 1530.1 2174.5 1530.3 2173.0 1530.3 2171.5 1529.9 2170.0 1529.6 2168.5 1529.4 2167.0 1529.3 2165.5 1529.3 2164.0 1529.5 2162.5 1529.5 2161.0 1529.3 2159.5 1529.2 2158.0 1529.3 2156.5 1529.4 2155.0 1529.5 2153.5 1529.6 2152.0 1529.4 2150.5 1529.2 2149.0 1529.2 2147.5 1529.2 2146.0 1529.1 2144.5 1529.0 2143.0 1529.2 2141.5 1529.3 2140.0 1529.2 2138.5 1529.0 2137.0 1528.7 2135.5 1528.8 2134.0 1528.9 2132.5 1528.8 2131.0 1528.7 2129.5 1528.5 2128.0 1528.4 2126.5 1528.4 2125.0 1528.2 2123.5 1528.0 2122.0 1528.2 2120.5 1528.5 2119.0 1528.5 2117.5 1528.4 2116.0 1528.1 2114.5 1528.1 2113.0 1528.4 2111.5 1528.5 2110.0 1528.4 2108.5 1528.2 2107.0 1527.9 2105.5 1527.6 2104.0 1527.7 2102.5 1528.1 2101.0 1528.0 2099.5 1528.0 2098.0 1527.8 2096.5 1527.7 2095.0 1527.8 2093.5 1527.6 2092.0 1527.4 2090.5 1527.5 2089.0 1527.5 2087.5 1527.4 2086.0 1527.3 2084.5 1527.2 2083.0 1527.2 2081.5 1527.3 2080.0 1527.2 2078.5 1527.1 2077.0 1527.3 2075.5 1527.1 2074.0 1526.3 2072.5 1526.1 2071.0 1526.2 2069.5 1526.5 2068.0 1526.4 2066.5 1526.1 2065.0 1526.2 2063.5 1526.4 2062.0 1526.1 2060.5 1525.8 2059.0 1525.7 2057.5 1525.3 2056.0 1525.2 2054.5 1525.1 2053.0 1525.1 2051.5 1525.3 2050.0 1525.2 2048.5 1525.0 2047.0 1524.5 2045.5 1524.4 2044.0 1524.6 2042.5 1524.2 2041.0 1523.9 2039.5 1523.9 2038.0 1524.0 2036.5 1523.9 2035.0 1523.7 2033.5 1523.7 2032.0 1523.7 2030.5 1523.8 2029.0 1523.7 2027.5 1523.5 2026.0 1523.5 2024.5 1523.5 2023.0 1523.6 2021.5 1523.8 2020.0 1524.2 2018.5 1524.2 2017.0 1524.0 2015.5 1523.8 2014.0 1523.7 2012.5 1523.5 2011.0 1523.4 2009.5 1523.2 2008.0 1522.8 2006.5 1523.0 2005.0 1523.4 2003.5 1523.3 2002.0 1523.0 2000.5 1522.9 1999.0 1523.2 1997.5 1523.4 1996.0 1523.0 1994.5 1522.7 1993.0 1522.6 1991.5 1522.3 1990.0 1521.8 1988.5 1522.0 1987.0 1522.7 1985.5 1522.6 1984.0 1521.9 1982.5 1521.9 1981.0 1521.6 1979.5 1521.3 1978.0 1521.4 1976.5 1520.9 1975.0 1520.5 1973.5 1520.7 1972.0 1521.0 1970.5 1521.1 1969.0 1520.8 1967.5 1520.3 1966.0 1519.8 1964.5 1519.6 1963.0 1519.6 1961.5 1519.7 1960.0 1519.9 1958.5 1519.9 1957.0 1519.5 1955.5 1518.9 1954.0 1518.6 1952.5 1518.3 1951.0 1518.2 1949.5 1518.2 1948.0 1517.7 1946.5 1517.7 1945.0 1517.8 1943.5 1517.4 1942.0 1516.8 1940.5 1516.6 1939.0 1516.8 1937.5 1516.8 1936.0 1516.5 1934.5 1516.7 1933.0 1516.5 1931.5 1516.0 1930.0 1516.3 1928.5 1516.1 1927.0 1515.0 1925.5 1514.7 1924.0 1515.2 1922.5 1515.1 1921.0 1514.4 1919.5 1514.0 1918.0 1514.2 1916.5 1514.5 1915.0 1514.7 1913.5 1514.3 1912.0 1513.1 1910.5 1512.8 1909.0 1513.3 1907.5 1513.4 1906.0 1513.1 1904.5 1512.9 1903.0 1512.5 1901.5 1512.1 1900.0 1512.1 1898.5 1511.7 1897.0 1511.5 1895.5 1511.9 1894.0 1512.0 1892.5 1511.7 1891.0 1511.2 1889.5 1510.5 1888.0 1509.9 1886.5 1509.6 1885.0 1509.4 1883.5 1509.5 1882.0 1509.5 1880.5 1509.1 1879.0 1508.9 1877.5 1509.0 1876.0 1508.8 1874.5 1508.7 1873.0 1508.6 1871.5 1508.4 1870.0 1507.5 1868.5 1506.5 1867.0 1506.3 1865.5 1505.7 1864.0 1505.1 1862.5 1505.7 1861.0 1505.7 1859.5 1505.2 1858.0 1505.1 1856.5 1504.5 1855.0 1504.2 1853.5 1504.4 1852.0 1503.8 1850.5 1503.0 1849.0 1502.5 1847.5 1501.8 1846.0 1501.4 1844.5 1501.0 1843.0 1501.0 1841.5 1501.4 1840.0 1501.0 1838.5 1500.6 1837.0 1500.4 1835.5 1501.0 1834.0 1501.1 1832.5 1499.8 1831.0 1498.8 1829.5 1498.5 1828.0 1498.1 1826.5 1497.6 1825.0 1497.7 1823.5 1498.5 1822.0 1498.8 1820.5 1498.5 1819.0 1498.0 1817.5 1497.8 1816.0 1497.7 1814.5 1497.0 1813.0 1496.2 1811.5 1496.4 1810.0 1496.0 1808.5 1495.2 1807.0 1495.3 1805.5 1495.4 1804.0 1495.0 1802.5 1494.1 1801.0 1493.1 1799.5 1492.8 1798.0 1492.8 1796.5 1492.0 1795.0 1491.3 1793.5 1491.1 1792.0 1490.5 1790.5 1489.1 1789.0 1488.2 1787.5 1487.9 1786.0 1488.1 1784.5 1488.0 1783.0 1487.0 1781.5 1486.3 1780.0 1485.6 1778.5 1484.9 1777.0 1484.6 1775.5 1484.7 1774.0 1484.9 1772.5 1484.7 1771.0 1483.7 1769.5 1482.8 1768.0 1482.4 1766.5 1481.4 1765.0 1480.0 1763.5 1478.8 1762.0 1478.7 1760.5 1478.6 1759.0 1477.8 1757.5 1477.3 1756.0 1476.5 1754.5 1475.6 1753.0 1474.6 1751.5 1474.1 1750.0 1474.5 1748.5 1474.1 1747.0 1473.1 1745.5 1472.6 1744.0 1472.7 1742.5 1472.6 1741.0 1471.5 1739.5 1469.6 1738.0 1468.2 1736.5 1467.7 1735.0 1467.8 1733.5 1468.4 1732.0 1468.1 1730.5 1466.7 1729.0 1465.5 1727.5 1465.1 1726.0 1465.1 1724.5 1464.3 1723.0 1463.7 1721.5 1462.9 1720.0 1462.1 1718.5 1462.2 1717.0 1462.1 1715.5 1461.5 1714.0 1460.7 1712.5 1460.0 1711.0 1458.8 1709.5 1457.5 1708.0 1457.4 1706.5 1457.5 1705.0 1456.5 1703.5 1455.7 1702.0 1455.6 1700.5 1455.5 1699.0 1454.8 1697.5 1453.6 1696.0 1452.9 1694.5 1452.5 1693.0 1452.5 1691.5 1452.0 1690.0 1450.3 1688.5 1449.1 1687.0 1448.0 1685.5 1447.3 1684.0 1447.2 1682.5 1447.3 1681.0 1447.4 1679.5 1446.3 1678.0 1444.6 1676.5 1444.1 1675.0 1443.8 1673.5 1442.3 1672.0 1440.9 1670.5 1440.2 1669.0 1439.7 1667.5 1438.8 1666.0 1438.2 1664.5 1437.8 1663.0 1437.3 1661.5 1436.8 1660.0 1435.1 1658.5 1433.8 1657.0 1434.2 1655.5 1434.1 1654.0 1433.2 1652.5 1432.9 1651.0 1432.6 1649.5 1431.1 1648.0 1429.6 1646.5 1429.4 1645.0 1428.6 1643.5 1426.9 1642.0 1426.1 1640.5 1426.3 1639.0 1426.0 1637.5 1425.0 1636.0 1423.9 1634.5 1422.8 1633.0 1421.3 1631.5 1419.4 1630.0 1417.7 1628.5 1416.5 1627.0 1415.9 1625.5 1415.1 1624.0 1413.9 1622.5 1412.7 1621.0 1411.5 1619.5 1410.5 1618.0 1410.6 1616.5 1409.7 1615.0 1408.1 1613.5 1407.9 1612.0 1406.7 1610.5 1404.8 1609.0 1404.1 1607.5 1402.6 1606.0 1401.7 1604.5 1401.3 1603.0 1400.3 1601.5 1399.9 1600.0 1398.9 1598.5 1396.5 1597.0 1394.5 1595.5 1393.8 1594.0 1393.2 1592.5 1391.9 1591.0 1390.5 1589.5 1389.6 1588.0 1389.3 1586.5 1388.0 1585.0 1385.8 1583.5 1384.4 1582.0 1383.3 1580.5 1382.6 1579.0 1382.2 1577.5 1380.8 1576.0 1379.2 1574.5 1378.0 1573.0 1376.1 1571.5 1374.9 1570.0 1374.7 1568.5 1373.6 1567.0 1371.7 1565.5 1369.9 1564.0 1367.7 1562.5 1366.0 1561.0 1364.7 1559.5 1362.7 1558.0 1361.4 1556.5 1360.1 1555.0 1358.8 1553.5 1357.7 1552.0 1356.0 1550.5 1354.9 1549.0 1353.4 1547.5 1351.5 1546.0 1349.7 1544.5 1348.0 1543.0 1346.6 1541.5 1345.5 1540.0 1344.8 1538.5 1344.4 1537.0 1343.0 1535.5 1341.2 1534.0 1339.4 1532.5 1337.4 1531.0 1335.0 1529.5 1332.8 1528.0 1331.4 1526.5 1330.4 1525.0 1328.9 1523.5 1327.1 1522.0 1326.4 1520.5 1325.3 1519.0 1324.0 1517.5 1323.6 1516.0 1322.8 1514.5 1321.1 1513.0 1319.0 1511.5 1317.5 1510.0 1317.0 1508.5 1316.2 1507.0 1315.5 1505.5 1314.2 1504.0 1312.2 1502.5 1311.7 1501.0 1311.4 1499.5 1310.1 1498.0 1308.6 1496.5 1307.4 1495.0 1305.6 1493.5 1303.4 1492.0 1302.8 1490.5 1302.5 1489.0 1301.4 1487.5 1300.6 1486.0 1299.6 1484.5 1297.3 1483.0 1294.8 1481.5 1292.7 1480.0 1291.1 1478.5 1290.1 1477.0 1288.8 1475.5 1287.6 1474.0 1286.8 1472.5 1285.6 1471.0 1283.4 1469.5 1281.2 1468.0 1280.4 1466.5 1279.6 1465.0 1278.4 1463.5 1277.2 1462.0 1275.0 1460.5 1272.6 1459.0 1271.1 1457.5 1270.6 1456.0 1270.0 1454.5 1268.4 1453.0 1266.6 1451.5 1265.2 1450.0 1264.4 1448.5 1262.6 1447.0 1260.7 1445.5 1260.5 1444.0 1260.3 1442.5 1259.2 1441.0 1257.4 1439.5 1254.6 1438.0 1252.0 1436.5 1250.4 1435.0 1248.7 1433.5 1247.1 1432.0 1245.2 1430.5 1243.0 1429.0 1240.7 1427.5 1238.8 1426.0 1237.1 1424.5 1234.3 1423.0 1232.4 1421.5 1231.0 1420.0 1227.8 1418.5 1224.7 1417.0 1221.6 1415.5 1218.0 1414.0 1215.6 1412.5 1213.2 1411.0 1209.3 1409.5 1205.8 1408.0 1202.6 1406.5 1198.6 1405.0 1193.6 1403.5 1187.6 1402.0 1181.9 1400.5 1177.1 1399.0 1171.1 1397.5 1163.5 1396.0 1155.3 1394.5 1147.8 1393.0 1140.9 1391.5 1132.6 1390.0 1123.5 1388.5 1115.7 1387.0 1107.2 1385.5 1096.9 1384.0 1085.6 1382.5 1071.0 1381.0 1056.0 1379.5 1046.2 1378.0 1046.0 1376.5 1051.5 1375.0 1060.9 1373.5 1070.6 1372.0 1077.1 1370.5 1082.8 1369.0 1089.9 1367.5 1098.6 1366.0 1108.5 1364.5 1118.7 1363.0 1129.2 1361.5 1138.2 1360.0 1144.3 1358.5 1148.2 1357.0 1152.5 1355.5 1156.1 1354.0 1158.8 1352.5 1161.9 1351.0 1164.6 1349.5 1166.1 1348.0 1167.0 1346.5 1167.2 1345.0 1167.1 1343.5 1167.8 1342.0 1167.9 1340.5 1166.8 1339.0 1165.3 1337.5 1162.8 1336.0 1159.0 1334.5 1156.3 1333.0 1154.2 1331.5 1151.0 1330.0 1148.0 1328.5 1144.9 1327.0 1141.6 1325.5 1139.7 1324.0 1139.0 1322.5 1137.3 1321.0 1133.9 1319.5 1131.2 1318.0 1129.8 1316.5 1127.8 1315.0 1126.2 1313.5 1126.1 1312.0 1124.3 1310.5 1120.8 1309.0 1119.2 1307.5 1118.5 1306.0 1116.2 1304.5 1113.7 1303.0 1111.1 1301.5 1109.2 1300.0 1107.9 1298.5 1106.0 1297.0 1104.6 1295.5 1102.6 1294.0 1099.4 1292.5 1095.7 1291.0 1092.7 1289.5 1090.8 1288.0 1090.0 1286.5 1088.7 1285.0 1086.5 1283.5 1085.3 1282.0 1083.7 1280.5 1081.3 1279.0 1078.9 1277.5 1075.2 1276.0 1072.6 1274.5 1071.5 1273.0 1069.7 1271.5 1068.9 1270.0 1067.7 1268.5 1065.5 1267.0 1063.9 1265.5 1061.9 1264.0 1060.5 1262.5 1060.2 1261.0 1059.7 1259.5 1057.9 1258.0 1054.9 1256.5 1051.3 1255.0 1047.8 1253.5 1044.5 1252.0 1042.0 1250.5 1040.1 1249.0 1037.0 1247.5 1033.1 1246.0 1028.8 1244.5 1023.3 1243.0 1018.6 1241.5 1014.8 1240.0 1012.1 1238.5 1010.7 1237.0 1007.9 1235.5 1003.8 1234.0 1002.0 1232.5 1002.1 1231.0 1001.7 1229.5 999.8 1228.0 997.7 1226.5 997.2 1225.0 995.9 1223.5 993.0 1222.0 991.1 1220.5 989.9 1219.0 990.0 1217.5 989.4 1216.0 986.8 1214.5 985.4 1213.0 983.6 1211.5 981.0 1210.0 978.4 1208.5 974.5 1207.0 972.1 1205.5 969.6 1204.0 965.6 1202.5 963.7 1201.0 961.8 1199.5 958.1 1198.0 955.7 1196.5 953.8 1195.0 951.0 1193.5 950.2 1192.0 950.1 1190.5 948.0 1189.0 946.5 1187.5 947.1 1186.0 948.3 1184.5 947.4 1183.0 944.7 1181.5 943.2 1180.0 942.7 1178.5 942.8 1177.0 943.2 1175.5 942.8 1174.0 942.2 1172.5 941.0 1171.0 938.9 1169.5 937.2 1168.0 934.9 1166.5 931.8 1165.0 930.2 1163.5 928.8 1162.0 925.6 1160.5 922.2 1159.0 919.4 1157.5 917.5 1156.0 916.6 1154.5 913.5 1153.0 908.8 1151.5 906.2 1150.0 904.3 1148.5 901.4 1147.0 899.5 1145.5 898.5 1144.0 896.6 1142.5 895.5 1141.0 894.7 1139.5 893.3 1138.0 891.0 1136.5 888.3 1135.0 886.7 1133.5 884.8 1132.0 882.5 1130.5 881.5 1129.0 880.3 1127.5 877.9 1126.0 876.9 1124.5 876.8 1123.0 875.4 1121.5 873.1 1120.0 870.8 1118.5 870.7 1117.0 869.9 1115.5 866.1 1114.0 863.3 1112.5 862.6 1111.0 861.0 1109.5 858.3 1108.0 857.5 1106.5 857.3 1105.0 855.4 1103.5 853.9 1102.0 852.2 1100.5 851.2 1099.0 851.4 1097.5 849.3 1096.0 845.1 1094.5 842.1 1093.0 841.1 1091.5 839.3 1090.0 836.0 1088.5 833.9 1087.0 832.0 1085.5 829.7 1084.0 828.2 1082.5 827.0 1081.0 826.7 1079.5 825.5 1078.0 824.8 1076.5 827.0 1075.0 829.5 1073.5 832.5 1072.0 836.9 1070.5 840.3 1069.0 843.4 1067.5 846.6 1066.0 849.1 1064.5 851.1 1063.0 851.6 1061.5 851.8 1060.0 852.3 1058.5 850.9 1057.0 848.6 1055.5 846.9 1054.0 844.1 1052.5 840.7 1051.0 838.9 1049.5 837.8 1048.0 835.8 1046.5 835.3 1045.0 837.1 1043.5 838.9 1042.0 841.1 1040.5 843.4 1039.0 845.0 1037.5 847.6 1036.0 850.9 1034.5 854.3 1033.0 856.1 1031.5 856.4 1030.0 858.7 1028.5 863.0 1027.0 866.6 1025.5 868.0 1024.0 868.6 1022.5 870.7 1021.0 872.6 1019.5 873.8 1018.0 875.1 1016.5 875.9 1015.0 874.7 1013.5 871.7 1012.0 869.6 1010.5 869.5 1009.0 870.6 1007.5 869.5 1006.0 866.1 1004.5 863.4 1003.0 862.9 1001.5 863.1 1000.0 861.4 998.5 859.3 997.0 856.9 995.5 855.1 994.0 854.5 992.5 854.2 991.0 853.5 989.5 851.1 988.0 849.6 986.5 849.2 985.0 847.1 983.5 845.6 982.0 846.2 980.5 847.7 979.0 847.8 977.5 846.7 976.0 847.5 974.5 848.1 973.0 847.4 971.5 847.2 970.0 847.3 968.5 848.4 967.0 849.9 965.5 850.7 964.0 849.8 962.5 848.8 961.0 850.5 959.5 851.5 958.0 850.2 956.5 850.2 955.0 851.2 953.5 852.4 952.0 853.4 950.5 854.0 949.0 855.7 947.5 857.9 946.0 861.3 944.5 867.7 943.0 875.4 941.5 882.7 940.0 889.8 938.5 894.8 937.0 898.1 935.5 901.6 934.0 904.7 932.5 908.1 931.0 911.6 929.5 915.0 928.0 918.6 926.5 920.5 925.0 922.6 923.5 926.1 922.0 928.5 920.5 930.7 919.0 934.4 917.5 936.4 916.0 938.3 914.5 942.1 913.0 944.3 911.5 945.2 910.0 948.1 908.5 952.0 907.0 954.6 905.5 957.1 904.0 959.1 902.5 960.4 901.0 962.1 899.5 963.3 898.0 965.5 896.5 968.6 895.0 970.5 893.5 972.9 892.0 976.2 890.5 979.5 889.0 981.8 887.5 982.8 886.0 983.6 884.5 985.0 883.0 986.4 881.5 987.9 880.0 989.9 878.5 992.5 877.0 995.8 875.5 998.8 874.0 1000.7 872.5 1002.7 871.0 1005.0 869.5 1008.2 868.0 1010.8 866.5 1011.1 865.0 1010.5 863.5 1010.5 862.0 1011.1 860.5 1011.3 859.0 1010.3 857.5 1008.9 856.0 1007.3 854.5 1004.4 853.0 1000.2 851.5 995.1 850.0 989.0 848.5 981.0 847.0 970.1 845.5 959.4 844.0 947.9 842.5 929.7 841.0 913.2 839.5 906.4 838.0 910.3 836.5 922.0 835.0 938.4 833.5 953.0 832.0 966.5 830.5 982.0 829.0 997.7 827.5 1010.9 826.0 1022.6 824.5 1033.8 823.0 1042.0 821.5 1048.0 820.0 1054.1 818.5 1059.2 817.0 1064.8 815.5 1069.9 814.0 1072.9 812.5 1076.7 811.0 1081.7 809.5 1084.9 808.0 1087.0 806.5 1090.7 805.0 1094.6 803.5 1097.8 802.0 1100.8 800.5 1102.8 799.0 1105.8 797.5 1109.2 796.0 1110.1 794.5 1110.9 793.0 1113.2 791.5 1114.4 790.0 1114.1 788.5 1114.3 787.0 1116.2 785.5 1118.2 784.0 1118.2 782.5 1118.7 781.0 1120.3 779.5 1121.6 778.0 1123.7 776.5 1125.7 775.0 1125.9 773.5 1125.0 772.0 1125.7 770.5 1127.7 769.0 1128.4 767.5 1129.6 766.0 1130.3 764.5 1129.5 763.0 1129.6 761.5 1130.5 760.0 1130.7 758.5 1131.8 757.0 1133.5 755.5 1134.7 754.0 1135.7 752.5 1136.6 751.0 1138.1 749.5 1140.1 748.0 1140.9 746.5 1140.9 745.0 1141.9 743.5 1144.2 742.0 1147.2 740.5 1149.3 739.0 1150.4 737.5 1151.1 736.0 1152.6 734.5 1155.5 733.0 1158.5 731.5 1160.1 730.0 1160.6 728.5 1161.6 727.0 1163.6 725.5 1165.1 724.0 1165.9 722.5 1167.0 721.0 1169.4 719.5 1172.3 718.0 1174.1 716.5 1176.4 715.0 1178.3 713.5 1179.7 712.0 1181.7 710.5 1183.4 709.0 1185.5 707.5 1187.6 706.0 1188.6 704.5 1189.5 703.0 1190.5 701.5 1191.4 700.0 1192.5 698.5 1193.7 697.0 1194.9 695.5 1196.6 694.0 1198.1 692.5 1198.5 691.0 1198.5 689.5 1199.4 688.0 1200.5 686.5 1200.7 685.0 1201.2 683.5 1202.5 682.0 1203.9 680.5 1204.9 679.0 1206.6 677.5 1208.3 676.0 1208.8 674.5 1209.4 673.0 1211.4 671.5 1213.2 670.0 1213.8 668.5 1214.8 667.0 1215.7 665.5 1215.8 664.0 1217.4 662.5 1219.1 661.0 1218.9 659.5 1218.9 658.0 1219.9 656.5 1221.1 655.0 1222.4 653.5 1222.9 652.0 1222.9 650.5 1223.6 649.0 1224.8 647.5 1225.1 646.0 1225.0 644.5 1225.2 643.0 1225.8 641.5 1227.2 640.0 1227.8 638.5 1227.2 637.0 1227.1 635.5 1227.5 634.0 1228.5 632.5 1230.1 631.0 1231.5 629.5 1232.3 628.0 1232.9 626.5 1233.9 625.0 1234.6 623.5 1234.6 622.0 1235.2 620.5 1237.7 619.0 1240.7 617.5 1242.7 616.0 1245.1 614.5 1248.8 613.0 1252.8 611.5 1257.1 610.0 1261.2 608.5 1264.6 607.0 1268.2 605.5 1272.5 604.0 1276.1 602.5 1277.1 601.0 1276.6 599.5 1276.0 598.0 1276.4 596.5 1276.9 595.0 1275.9 593.5 1274.3 592.0 1273.7 590.5 1273.0 589.0 1271.7 587.5 1270.7 586.0 1269.7 584.5 1269.3 583.0 1269.6 581.5 1269.2 580.0 1268.8 578.5 1268.7 577.0 1269.4 575.5 1271.0 574.0 1271.8 572.5 1272.1 571.0 1272.8 569.5 1273.4 568.0 1273.8 566.5 1275.4 565.0 1278.2 563.5 1280.9 562.0 1283.4 560.5 1286.3 559.0 1290.5 557.5 1294.9 556.0 1298.9 554.5 1303.2 553.0 1307.8 551.5 1312.0 550.0 1315.6 548.5 1317.9 547.0 1320.4 545.5 1324.1 544.0 1328.1 542.5 1332.1 541.0 1336.3 539.5 1340.1 538.0 1342.7 536.5 1345.5 535.0 1348.7 533.5 1351.4 532.0 1354.0 530.5 1355.5 529.0 1355.6 527.5 1355.3 526.0 1354.3 524.5 1352.8 523.0 1350.6 521.5 1347.6 520.0 1344.3 518.5 1338.9 517.0 1330.5 515.5 1320.3 514.0 1309.7 512.5 1299.1 511.0 1282.8 509.5 1263.3 508.0 1246.9 506.5 1240.8 505.0 1246.8 503.5 1257.2 502.0 1273.7 500.5 1292.7 499.0 1310.1 497.5 1329.5 496.0 1346.8 494.5 1359.2 493.0 1370.0 491.5 1379.5 490.0 1388.0 488.5 1397.9 487.0 1408.3 485.5 1416.4 484.0 1422.9 482.5 1429.0 481.0 1433.7 479.5 1437.7 478.0 1441.6 476.5 1444.7 475.0 1447.7 473.5 1451.5 472.0 1454.6 470.5 1456.3 469.0 1458.4 467.5 1461.2 466.0 1463.4 464.5 1464.6 463.0 1465.9 461.5 1467.8 460.0 1469.3 458.5 1470.1 457.0 1470.7 455.5 1472.1 454.0 1473.4 452.5 1474.3 451.0 1475.1 449.5 1476.3 448.0 1477.2 446.5 1477.8 445.0 1479.1 443.5 1480.7 442.0 1481.9 440.5 1483.0 439.0 1484.1 437.5 1485.1 436.0 1486.1 434.5 1487.4 433.0 1488.2 431.5 1489.5 430.0 1490.9 428.5 1492.0 427.0 1493.4 425.5 1494.8 424.0 1495.6 422.5 1496.3 421.0 1497.4 419.5 1498.2 418.0 1498.5 416.5 1499.3 415.0 1500.2 413.5 1500.5 412.0 1500.6 410.5 1501.5 409.0 1502.8 407.5 1502.9 406.0 1503.2 404.5 1504.0 403.0 1504.4 401.5 1505.0 400.0 1505.8 398.5 1506.6 397.0 1507.6 395.5 1508.1 394.0 1508.7 392.5 1509.7 391.0 1510.8 389.5 1511.9 388.0 1513.0 386.5 1513.4 385.0 1513.8 383.5 1514.4 382.0 1515.1 380.5 1515.8 379.0 1516.8 377.5 1518.1 376.0 1518.6 374.5 1518.6 373.0 1518.7 371.5 1519.1 370.0 1519.3 368.5 1519.6 367.0 1520.5 365.5 1521.1 364.0 1521.5 362.5 1521.6 361.0 1521.1 359.5 1520.6 358.0 1520.8 356.5 1521.8 355.0 1522.6 353.5 1522.5 352.0 1522.1 350.5 1522.2 349.0 1522.1 347.5 1521.7 346.0 1521.8 344.5 1522.1 343.0 1522.4 341.5 1523.0 340.0 1523.4 338.5 1523.3 337.0 1523.1 335.5 1523.1 334.0 1523.4 332.5 1523.8 331.0 1524.4 329.5 1525.1 328.0 1525.4 326.5 1525.3 325.0 1525.6 323.5 1526.1 322.0 1526.1 320.5 1525.8 319.0 1526.0 317.5 1526.4 316.0 1526.5 314.5 1526.5 313.0 1526.3 311.5 1526.1 310.0 1526.1 308.5 1526.1 307.0 1526.1 305.5 1526.3 304.0 1526.8 302.5 1526.9 301.0 1526.4 299.5 1526.5 298.0 1527.3 296.5 1527.9 295.0 1528.0 293.5 1527.8 292.0 1527.3 290.5 1527.3 289.0 1527.5 287.5 1527.2 286.0 1527.3 284.5 1527.6 283.0 1527.3 281.5 1527.5 280.0 1528.3 278.5 1528.1 277.0 1527.4 275.5 1527.1 274.0 1527.4 272.5 1527.9 271.0 1528.4 269.5 1528.9 268.0 1528.9 266.5 1528.5 265.0 1528.2 263.5 1528.3 262.0 1528.8 260.5 1529.0 259.0 1528.9 257.5 1529.2 256.0 1529.4 254.5 1529.7 253.0 1529.8 251.5 1529.3 250.0 1528.4 248.5 1528.5 247.0 1529.1 245.5 1528.8 244.0 1528.6 242.5 1529.0 241.0 1529.5 239.5 1529.3 238.0 1529.0 236.5 1529.5 235.0 1530.0 233.5 1530.0 232.0 1530.0 230.5 1530.0 229.0 1530.0 227.5 1530.0 226.0 1529.8 224.5 1529.7 223.0 1529.5 221.5 1529.7 220.0 1530.2 218.5 1530.2 217.0 1529.6 215.5 1529.2 214.0 1529.5 212.5 1529.9 211.0 1529.7 209.5 1529.6 208.0 1529.6Z" fill="#ff8000" stroke="#ff8000" stroke-width="2.0" stroke-linejoin="round"/>
<path d="M208.0 1529.7 209.5 1530.0 211.0 1531.0 212.5 1531.3 214.0 1531.0 215.5 1530.9 217.0 1531.1 218.5 1531.2 220.0 1531.4 221.5 1531.2 223.0 1530.8 224.5 1531.3 226.0 1532.1 227.5 1532.3 229.0 1532.6 230.5 1532.9 232.0 1532.9 233.5 1532.4 235.0 1531.5 236.5 1531.7 238.0 1532.3 239.5 1532.6 241.0 1532.9 242.5 1532.7 244.0 1531.9 245.5 1531.5 247.0 1531.3 248.5 1530.8 250.0 1530.6 251.5 1531.1 253.0 1531.6 254.5 1531.8 256.0 1531.9 257.5 1531.8 259.0 1531.7 260.5 1531.7 262.0 1532.0 263.5 1531.8 265.0 1531.4 266.5 1531.3 268.0 1531.3 269.5 1531.1 271.0 1531.1 272.5 1531.0 274.0 1531.2 275.5 1531.6 277.0 1531.3 278.5 1531.2 280.0 1531.2 281.5 1531.3 283.0 1531.6 284.5 1531.3 286.0 1530.8 287.5 1530.9 289.0 1531.2 290.5 1531.9 292.0 1531.6 293.5 1531.1 295.0 1531.7 296.5 1531.9 298.0 1531.0 299.5 1530.7 301.0 1531.6 302.5 1531.7 304.0 1530.7 305.5 1530.2 307.0 1530.1 308.5 1530.5 310.0 1531.0 311.5 1531.0 313.0 1531.0 314.5 1531.1 316.0 1530.9 317.5 1530.1 319.0 1529.7 320.5 1530.3 322.0 1530.6 323.5 1530.1 325.0 1530.0 326.5 1530.0 328.0 1529.7 329.5 1529.3 331.0 1529.4 332.5 1529.7 334.0 1529.5 335.5 1528.9 337.0 1528.4 338.5 1528.2 340.0 1527.9 341.5 1528.1 343.0 1529.0 344.5 1529.0 346.0 1528.4 347.5 1528.2 349.0 1527.4 350.5 1527.1 352.0 1527.4 353.5 1527.5 355.0 1527.7 356.5 1527.0 358.0 1526.8 359.5 1527.1 361.0 1526.8 362.5 1526.9 364.0 1526.7 365.5 1525.8 367.0 1525.8 368.5 1525.9 370.0 1525.9 371.5 1526.3 373.0 1525.9 374.5 1525.1 376.0 1525.0 377.5 1525.2 379.0 1524.3 380.5 1523.0 382.0 1521.9 383.5 1519.9 385.0 1518.0 386.5 1517.5 388.0 1517.6 389.5 1516.4 391.0 1515.4 392.5 1515.2 394.0 1514.5 395.5 1513.5 397.0 1512.4 398.5 1511.5 400.0 1511.3 401.5 1511.4 403.0 1510.7 404.5 1510.2 406.0 1510.2 407.5 1509.1 409.0 1507.9 410.5 1507.4 412.0 1507.3 413.5 1507.1 415.0 1506.4 416.5 1505.3 418.0 1503.9 419.5 1503.3 421.0 1503.2 422.5 1502.8 424.0 1501.9 425.5 1500.9 427.0 1499.5 428.5 1497.7 430.0 1497.0 431.5 1496.8 433.0 1494.8 434.5 1492.7 436.0 1492.1 437.5 1490.8 439.0 1488.5 440.5 1487.5 442.0 1487.4 443.5 1486.7 445.0 1485.3 446.5 1483.4 448.0 1481.6 449.5 1480.3 451.0 1478.9 452.5 1477.5 454.0 1477.3 455.5 1477.5 457.0 1477.0 458.5 1475.7 460.0 1474.2 461.5 1472.7 463.0 1472.0 464.5 1471.3 466.0 1470.0 467.5 1468.3 469.0 1466.9 470.5 1465.4 472.0 1462.5 473.5 1460.2 475.0 1458.9 476.5 1456.4 478.0 1452.6 479.5 1447.6 481.0 1441.7 482.5 1436.3 484.0 1432.0 485.5 1426.7 487.0 1418.9 488.5 1411.8 490.0 1405.3 491.5 1396.3 493.0 1385.9 494.5 1374.0 496.0 1361.3 497.5 1348.7 499.0 1334.6 500.5 1318.4 502.0 1302.7 503.5 1289.1 505.0 1276.3 506.5 1265.4 508.0 1270.2 509.5 1293.6 511.0 1321.7 512.5 1340.5 514.0 1354.2 515.5 1365.6 517.0 1373.0 518.5 1376.7 520.0 1380.4 521.5 1384.2 523.0 1385.9 524.5 1385.8 526.0 1385.0 527.5 1384.3 529.0 1384.3 530.5 1382.6 532.0 1380.1 533.5 1378.0 535.0 1375.2 536.5 1373.5 538.0 1371.5 539.5 1368.2 541.0 1365.1 542.5 1361.3 544.0 1358.1 545.5 1355.8 547.0 1354.6 548.5 1354.6 550.0 1353.4 551.5 1350.5 553.0 1347.8 554.5 1345.3 556.0 1342.3 557.5 1339.3 559.0 1336.6 560.5 1334.3 562.0 1332.4 563.5 1331.2 565.0 1331.3 566.5 1330.3 568.0 1327.2 569.5 1325.0 571.0 1325.3 572.5 1326.2 574.0 1326.1 575.5 1324.6 577.0 1323.2 578.5 1322.9 580.0 1321.9 581.5 1321.0 583.0 1321.0 584.5 1321.6 586.0 1323.2 587.5 1324.1 589.0 1324.3 590.5 1323.4 592.0 1322.0 593.5 1321.9 595.0 1322.0 596.5 1321.8 598.0 1321.5 599.5 1320.7 601.0 1320.4 602.5 1321.1 604.0 1321.4 605.5 1320.9 607.0 1319.2 608.5 1316.3 610.0 1315.2 611.5 1311.8 613.0 1302.8 614.5 1295.3 616.0 1289.0 617.5 1281.1 619.0 1276.1 620.5 1275.3 622.0 1274.3 623.5 1273.2 625.0 1272.6 626.5 1273.4 628.0 1274.1 629.5 1272.9 631.0 1272.7 632.5 1272.4 634.0 1270.0 635.5 1267.9 637.0 1267.5 638.5 1268.0 640.0 1268.8 641.5 1268.3 643.0 1266.3 644.5 1265.3 646.0 1265.3 647.5 1264.5 649.0 1264.2 650.5 1265.4 652.0 1264.9 653.5 1263.4 655.0 1264.1 656.5 1263.9 658.0 1262.9 659.5 1263.0 661.0 1261.2 662.5 1258.7 664.0 1258.0 665.5 1258.9 667.0 1259.5 668.5 1259.0 670.0 1258.2 671.5 1257.2 673.0 1256.0 674.5 1255.4 676.0 1254.2 677.5 1252.7 679.0 1251.5 680.5 1250.8 682.0 1251.6 683.5 1252.2 685.0 1250.2 686.5 1248.2 688.0 1247.6 689.5 1246.4 691.0 1246.1 692.5 1247.2 694.0 1247.7 695.5 1246.7 697.0 1244.5 698.5 1243.1 700.0 1242.2 701.5 1241.5 703.0 1241.6 704.5 1240.9 706.0 1239.5 707.5 1238.5 709.0 1238.0 710.5 1236.8 712.0 1236.5 713.5 1237.4 715.0 1237.3 716.5 1235.8 718.0 1232.8 719.5 1229.2 721.0 1228.4 722.5 1229.5 724.0 1229.0 725.5 1228.5 727.0 1226.9 728.5 1223.5 730.0 1220.8 731.5 1218.1 733.0 1217.3 734.5 1217.7 736.0 1215.2 737.5 1211.8 739.0 1210.2 740.5 1209.4 742.0 1208.5 743.5 1207.6 745.0 1207.2 746.5 1206.0 748.0 1205.2 749.5 1206.3 751.0 1206.8 752.5 1205.6 754.0 1205.0 755.5 1206.1 757.0 1205.8 758.5 1204.7 760.0 1204.4 761.5 1203.6 763.0 1204.5 764.5 1206.0 766.0 1205.8 767.5 1205.1 769.0 1204.0 770.5 1203.3 772.0 1202.0 773.5 1199.3 775.0 1197.7 776.5 1197.5 778.0 1196.7 779.5 1195.4 781.0 1195.8 782.5 1196.5 784.0 1195.7 785.5 1196.2 787.0 1195.3 788.5 1193.3 790.0 1192.1 791.5 1189.0 793.0 1188.1 794.5 1189.4 796.0 1186.8 797.5 1183.8 799.0 1183.4 800.5 1182.7 802.0 1181.2 803.5 1179.9 805.0 1178.3 806.5 1175.8 808.0 1174.9 809.5 1176.1 811.0 1176.2 812.5 1175.1 814.0 1173.3 815.5 1169.4 817.0 1165.5 818.5 1163.8 820.0 1162.2 821.5 1158.9 823.0 1155.5 824.5 1153.7 826.0 1151.0 827.5 1147.2 829.0 1144.0 830.5 1140.0 832.0 1134.7 833.5 1128.6 835.0 1120.3 836.5 1110.6 838.0 1105.6 839.5 1103.2 841.0 1102.2 842.5 1107.0 844.0 1114.5 845.5 1120.7 847.0 1124.6 848.5 1126.2 850.0 1127.6 851.5 1129.5 853.0 1133.4 854.5 1137.4 856.0 1139.8 857.5 1141.4 859.0 1142.0 860.5 1142.0 862.0 1141.3 863.5 1141.2 865.0 1142.1 866.5 1142.3 868.0 1143.4 869.5 1143.3 871.0 1141.5 872.5 1141.0 874.0 1141.6 875.5 1143.4 877.0 1144.3 878.5 1143.0 880.0 1143.2 881.5 1145.4 883.0 1144.1 884.5 1140.1 886.0 1138.3 887.5 1139.0 889.0 1139.0 890.5 1137.6 892.0 1138.2 893.5 1139.0 895.0 1137.4 896.5 1136.5 898.0 1135.0 899.5 1131.0 901.0 1129.5 902.5 1130.6 904.0 1128.6 905.5 1126.4 907.0 1126.5 908.5 1126.5 910.0 1125.8 911.5 1124.7 913.0 1122.7 914.5 1121.2 916.0 1122.4 917.5 1121.7 919.0 1118.8 920.5 1118.4 922.0 1117.2 923.5 1115.6 925.0 1114.6 926.5 1113.0 928.0 1113.5 929.5 1114.5 931.0 1111.8 932.5 1107.2 934.0 1103.6 935.5 1099.4 937.0 1095.0 938.5 1092.3 940.0 1090.4 941.5 1086.3 943.0 1082.8 944.5 1083.5 946.0 1083.3 947.5 1079.6 949.0 1078.8 950.5 1079.3 952.0 1078.7 953.5 1080.9 955.0 1083.3 956.5 1082.8 958.0 1081.4 959.5 1082.4 961.0 1084.4 962.5 1083.3 964.0 1083.4 965.5 1086.1 967.0 1087.6 968.5 1088.8 970.0 1089.7 971.5 1090.8 973.0 1092.9 974.5 1093.7 976.0 1092.5 977.5 1091.8 979.0 1092.7 980.5 1093.2 982.0 1093.4 983.5 1096.3 985.0 1097.2 986.5 1096.4 988.0 1098.0 989.5 1098.5 991.0 1096.9 992.5 1095.4 994.0 1096.1 995.5 1098.3 997.0 1100.1 998.5 1100.9 1000.0 1099.5 1001.5 1098.6 1003.0 1100.6 1004.5 1103.6 1006.0 1104.2 1007.5 1104.9 1009.0 1106.7 1010.5 1105.6 1012.0 1104.9 1013.5 1107.1 1015.0 1109.1 1016.5 1108.7 1018.0 1109.8 1019.5 1112.7 1021.0 1112.3 1022.5 1110.0 1024.0 1110.6 1025.5 1111.3 1027.0 1109.3 1028.5 1107.3 1030.0 1107.5 1031.5 1105.6 1033.0 1100.7 1034.5 1096.9 1036.0 1094.9 1037.5 1094.1 1039.0 1095.1 1040.5 1095.4 1042.0 1094.6 1043.5 1094.9 1045.0 1094.8 1046.5 1095.0 1048.0 1097.6 1049.5 1100.1 1051.0 1100.5 1052.5 1101.8 1054.0 1105.0 1055.5 1107.7 1057.0 1109.0 1058.5 1109.7 1060.0 1111.8 1061.5 1113.1 1063.0 1111.4 1064.5 1110.2 1066.0 1109.7 1067.5 1109.1 1069.0 1107.2 1070.5 1103.4 1072.0 1100.9 1073.5 1100.0 1075.0 1099.6 1076.5 1100.0 1078.0 1100.0 1079.5 1099.0 1081.0 1099.1 1082.5 1102.3 1084.0 1106.2 1085.5 1107.9 1087.0 1107.9 1088.5 1107.7 1090.0 1108.2 1091.5 1108.9 1093.0 1111.4 1094.5 1114.5 1096.0 1115.5 1097.5 1116.4 1099.0 1117.5 1100.5 1116.3 1102.0 1116.9 1103.5 1119.6 1105.0 1120.9 1106.5 1121.1 1108.0 1120.4 1109.5 1121.9 1111.0 1124.7 1112.5 1125.4 1114.0 1126.7 1115.5 1127.5 1117.0 1127.2 1118.5 1127.3 1120.0 1126.7 1121.5 1127.0 1123.0 1129.6 1124.5 1132.0 1126.0 1134.0 1127.5 1136.5 1129.0 1137.5 1130.5 1138.0 1132.0 1139.9 1133.5 1142.7 1135.0 1144.7 1136.5 1146.6 1138.0 1147.4 1139.5 1148.0 1141.0 1149.4 1142.5 1149.5 1144.0 1151.1 1145.5 1153.5 1147.0 1154.3 1148.5 1156.3 1150.0 1158.2 1151.5 1157.4 1153.0 1156.7 1154.5 1157.0 1156.0 1159.1 1157.5 1162.3 1159.0 1163.7 1160.5 1165.8 1162.0 1168.1 1163.5 1168.5 1165.0 1169.9 1166.5 1170.9 1168.0 1171.1 1169.5 1172.8 1171.0 1173.9 1172.5 1174.6 1174.0 1176.7 1175.5 1178.3 1177.0 1178.4 1178.5 1177.0 1180.0 1176.9 1181.5 1178.6 1183.0 1179.7 1184.5 1181.2 1186.0 1182.9 1187.5 1183.4 1189.0 1185.2 1190.5 1187.9 1192.0 1189.4 1193.5 1191.2 1195.0 1192.5 1196.5 1192.8 1198.0 1192.9 1199.5 1192.7 1201.0 1192.7 1202.5 1195.2 1204.0 1199.7 1205.5 1202.3 1207.0 1202.3 1208.5 1201.6 1210.0 1201.4 1211.5 1202.3 1213.0 1203.7 1214.5 1203.7 1216.0 1204.1 1217.5 1205.9 1219.0 1207.1 1220.5 1208.7 1222.0 1210.6 1223.5 1210.1 1225.0 1210.2 1226.5 1212.1 1228.0 1214.3 1229.5 1216.5 1231.0 1217.2 1232.5 1218.0 1234.0 1220.9 1235.5 1222.5 1237.0 1221.7 1238.5 1223.9 1240.0 1228.6 1241.5 1231.6 1243.0 1233.2 1244.5 1235.2 1246.0 1238.3 1247.5 1240.5 1249.0 1243.2 1250.5 1246.8 1252.0 1247.2 1253.5 1246.6 1255.0 1247.7 1256.5 1250.6 1258.0 1253.7 1259.5 1255.2 1261.0 1256.2 1262.5 1256.3 1264.0 1257.6 1265.5 1260.4 1267.0 1262.0 1268.5 1262.4 1270.0 1262.8 1271.5 1265.7 1273.0 1268.7 1274.5 1270.1 1276.0 1272.2 1277.5 1273.2 1279.0 1272.8 1280.5 1274.2 1282.0 1276.5 1283.5 1277.4 1285.0 1278.3 1286.5 1279.3 1288.0 1280.7 1289.5 1283.2 1291.0 1284.8 1292.5 1284.3 1294.0 1282.8 1295.5 1282.6 1297.0 1285.3 1298.5 1288.1 1300.0 1287.7 1301.5 1287.4 1303.0 1288.8 1304.5 1291.3 1306.0 1294.1 1307.5 1295.4 1309.0 1297.2 1310.5 1299.1 1312.0 1299.7 1313.5 1299.8 1315.0 1299.7 1316.5 1300.6 1318.0 1303.5 1319.5 1306.3 1321.0 1306.5 1322.5 1307.0 1324.0 1309.9 1325.5 1312.3 1327.0 1313.0 1328.5 1313.7 1330.0 1315.4 1331.5 1316.4 1333.0 1315.9 1334.5 1316.7 1336.0 1318.4 1337.5 1319.8 1339.0 1321.4 1340.5 1322.0 1342.0 1322.4 1343.5 1323.1 1345.0 1324.0 1346.5 1325.1 1348.0 1323.8 1349.5 1321.6 1351.0 1321.1 1352.5 1320.7 1354.0 1320.4 1355.5 1320.2 1357.0 1319.8 1358.5 1319.2 1360.0 1319.4 1361.5 1318.7 1363.0 1315.9 1364.5 1312.1 1366.0 1306.8 1367.5 1301.4 1369.0 1297.0 1370.5 1292.8 1372.0 1288.6 1373.5 1284.4 1375.0 1282.3 1376.5 1281.2 1378.0 1280.8 1379.5 1282.7 1381.0 1285.4 1382.5 1290.0 1384.0 1296.9 1385.5 1303.2 1387.0 1307.1 1388.5 1311.1 1390.0 1316.7 1391.5 1321.4 1393.0 1325.7 1394.5 1331.8 1396.0 1336.8 1397.5 1338.7 1399.0 1340.5 1400.5 1343.6 1402.0 1346.1 1403.5 1349.5 1405.0 1351.6 1406.5 1351.8 1408.0 1353.6 1409.5 1355.8 1411.0 1357.5 1412.5 1358.9 1414.0 1359.3 1415.5 1359.8 1417.0 1360.9 1418.5 1362.6 1420.0 1363.9 1421.5 1364.5 1423.0 1366.7 1424.5 1368.8 1426.0 1369.4 1427.5 1369.9 1429.0 1369.7 1430.5 1369.6 1432.0 1370.7 1433.5 1372.2 1435.0 1374.6 1436.5 1377.0 1438.0 1378.2 1439.5 1378.7 1441.0 1378.8 1442.5 1378.9 1444.0 1378.9 1445.5 1378.4 1447.0 1378.3 1448.5 1378.9 1450.0 1379.5 1451.5 1380.2 1453.0 1381.6 1454.5 1383.4 1456.0 1385.1 1457.5 1387.0 1459.0 1387.2 1460.5 1386.7 1462.0 1387.3 1463.5 1387.7 1465.0 1389.2 1466.5 1390.5 1468.0 1389.7 1469.5 1389.3 1471.0 1390.1 1472.5 1391.2 1474.0 1392.2 1475.5 1393.9 1477.0 1395.8 1478.5 1396.2 1480.0 1395.7 1481.5 1395.6 1483.0 1396.1 1484.5 1397.2 1486.0 1399.1 1487.5 1400.5 1489.0 1400.6 1490.5 1401.0 1492.0 1403.2 1493.5 1405.1 1495.0 1404.9 1496.5 1404.3 1498.0 1404.0 1499.5 1404.4 1501.0 1405.5 1502.5 1406.1 1504.0 1406.6 1505.5 1407.5 1507.0 1408.2 1508.5 1408.3 1510.0 1409.8 1511.5 1412.6 1513.0 1413.0 1514.5 1411.6 1516.0 1412.6 1517.5 1414.1 1519.0 1414.5 1520.5 1415.7 1522.0 1416.5 1523.5 1417.2 1525.0 1418.4 1526.5 1419.6 1528.0 1420.4 1529.5 1421.0 1531.0 1421.4 1532.5 1421.5 1534.0 1421.8 1535.5 1421.7 1537.0 1421.5 1538.5 1422.4 1540.0 1423.6 1541.5 1425.4 1543.0 1426.8 1544.5 1426.7 1546.0 1427.5 1547.5 1428.8 1549.0 1429.9 1550.5 1431.5 1552.0 1432.8 1553.5 1433.3 1555.0 1433.2 1556.5 1434.7 1558.0 1436.1 1559.5 1436.0 1561.0 1436.7 1562.5 1437.6 1564.0 1438.4 1565.5 1439.8 1567.0 1441.6 1568.5 1443.4 1570.0 1444.3 1571.5 1444.6 1573.0 1445.5 1574.5 1445.6 1576.0 1444.7 1577.5 1444.8 1579.0 1446.3 1580.5 1447.6 1582.0 1448.1 1583.5 1448.8 1585.0 1448.7 1586.5 1448.5 1588.0 1448.7 1589.5 1449.5 1591.0 1451.4 1592.5 1452.3 1594.0 1452.5 1595.5 1453.7 1597.0 1454.7 1598.5 1455.3 1600.0 1456.3 1601.5 1457.1 1603.0 1457.7 1604.5 1457.5 1606.0 1456.8 1607.5 1456.8 1609.0 1457.7 1610.5 1458.7 1612.0 1459.9 1613.5 1460.7 1615.0 1461.4 1616.5 1463.1 1618.0 1464.5 1619.5 1464.8 1621.0 1465.1 1622.5 1465.3 1624.0 1465.3 1625.5 1465.7 1627.0 1465.7 1628.5 1465.8 1630.0 1466.0 1631.5 1466.2 1633.0 1466.8 1634.5 1467.7 1636.0 1468.6 1637.5 1469.4 1639.0 1470.0 1640.5 1470.2 1642.0 1469.3 1643.5 1469.8 1645.0 1472.1 1646.5 1473.2 1648.0 1472.8 1649.5 1472.6 1651.0 1473.2 1652.5 1473.7 1654.0 1473.9 1655.5 1474.6 1657.0 1475.6 1658.5 1476.3 1660.0 1476.5 1661.5 1476.6 1663.0 1476.4 1664.5 1477.0 1666.0 1477.8 1667.5 1477.5 1669.0 1478.0 1670.5 1479.4 1672.0 1479.5 1673.5 1478.8 1675.0 1479.3 1676.5 1480.9 1678.0 1481.4 1679.5 1481.7 1681.0 1483.2 1682.5 1483.8 1684.0 1483.4 1685.5 1483.4 1687.0 1483.7 1688.5 1483.7 1690.0 1484.2 1691.5 1485.5 1693.0 1486.1 1694.5 1486.3 1696.0 1486.8 1697.5 1486.8 1699.0 1486.9 1700.5 1487.5 1702.0 1488.8 1703.5 1489.9 1705.0 1489.9 1706.5 1490.5 1708.0 1491.8 1709.5 1492.5 1711.0 1492.8 1712.5 1493.3 1714.0 1493.1 1715.5 1492.1 1717.0 1491.6 1718.5 1492.1 1720.0 1493.2 1721.5 1494.4 1723.0 1495.6 1724.5 1495.6 1726.0 1494.9 1727.5 1495.0 1729.0 1495.3 1730.5 1495.2 1732.0 1495.3 1733.5 1496.3 1735.0 1497.4 1736.5 1497.1 1738.0 1496.4 1739.5 1496.4 1741.0 1496.8 1742.5 1497.7 1744.0 1498.8 1745.5 1499.4 1747.0 1499.2 1748.5 1498.7 1750.0 1498.3 1751.5 1499.0 1753.0 1500.6 1754.5 1501.2 1756.0 1500.6 1757.5 1500.5 1759.0 1500.9 1760.5 1500.8 1762.0 1500.6 1763.5 1501.0 1765.0 1501.8 1766.5 1502.7 1768.0 1503.0 1769.5 1502.6 1771.0 1502.2 1772.5 1502.6 1774.0 1502.7 1775.5 1502.4 1777.0 1502.9 1778.5 1503.5 1780.0 1503.3 1781.5 1503.7 1783.0 1504.8 1784.5 1505.1 1786.0 1504.8 1787.5 1504.9 1789.0 1505.4 1790.5 1505.8 1792.0 1505.3 1793.5 1505.2 1795.0 1506.1 1796.5 1506.3 1798.0 1505.6 1799.5 1505.9 1801.0 1507.1 1802.5 1507.4 1804.0 1507.5 1805.5 1507.9 1807.0 1507.7 1808.5 1507.7 1810.0 1508.3 1811.5 1508.4 1813.0 1508.0 1814.5 1508.3 1816.0 1509.3 1817.5 1509.8 1819.0 1509.4 1820.5 1508.7 1822.0 1509.1 1823.5 1510.0 1825.0 1510.5 1826.5 1510.6 1828.0 1510.0 1829.5 1510.0 1831.0 1511.1 1832.5 1511.7 1834.0 1512.0 1835.5 1512.0 1837.0 1511.9 1838.5 1512.5 1840.0 1513.3 1841.5 1513.2 1843.0 1512.6 1844.5 1513.0 1846.0 1513.8 1847.5 1513.8 1849.0 1513.5 1850.5 1513.7 1852.0 1513.9 1853.5 1514.3 1855.0 1514.7 1856.5 1514.8 1858.0 1515.5 1859.5 1516.2 1861.0 1516.1 1862.5 1516.2 1864.0 1516.4 1865.5 1516.7 1867.0 1516.9 1868.5 1516.9 1870.0 1517.1 1871.5 1517.5 1873.0 1517.8 1874.5 1518.0 1876.0 1518.1 1877.5 1518.7 1879.0 1519.4 1880.5 1519.4 1882.0 1519.0 1883.5 1519.0 1885.0 1519.1 1886.5 1519.4 1888.0 1519.2 1889.5 1518.7 1891.0 1519.1 1892.5 1519.7 1894.0 1519.5 1895.5 1519.4 1897.0 1519.4 1898.5 1519.6 1900.0 1520.4 1901.5 1520.4 1903.0 1520.0 1904.5 1520.0 1906.0 1519.9 1907.5 1519.8 1909.0 1519.9 1910.5 1520.7 1912.0 1521.2 1913.5 1521.1 1915.0 1521.5 1916.5 1522.0 1918.0 1521.9 1919.5 1522.1 1921.0 1522.1 1922.5 1521.4 1924.0 1521.3 1925.5 1521.9 1927.0 1522.1 1928.5 1522.0 1930.0 1522.2 1931.5 1522.1 1933.0 1522.0 1934.5 1522.5 1936.0 1522.8 1937.5 1522.7 1939.0 1522.6 1940.5 1522.7 1942.0 1522.6 1943.5 1522.5 1945.0 1522.6 1946.5 1522.9 1948.0 1523.4 1949.5 1523.8 1951.0 1523.8 1952.5 1523.3 1954.0 1523.0 1955.5 1523.0 1957.0 1523.0 1958.5 1523.3 1960.0 1524.1 1961.5 1524.1 1963.0 1523.4 1964.5 1523.4 1966.0 1523.9 1967.5 1524.2 1969.0 1524.5 1970.5 1525.0 1972.0 1525.1 1973.5 1525.0 1975.0 1525.1 1976.5 1524.9 1978.0 1524.2 1979.5 1524.1 1981.0 1524.3 1982.5 1524.4 1984.0 1524.5 1985.5 1525.0 1987.0 1525.1 1988.5 1524.9 1990.0 1524.8 1991.5 1525.3 1993.0 1525.6 1994.5 1525.1 1996.0 1524.8 1997.5 1525.0 1999.0 1525.3 2000.5 1525.8 2002.0 1525.8 2003.5 1525.5 2005.0 1525.5 2006.5 1526.0 2008.0 1526.5 2009.5 1526.5 2011.0 1526.0 2012.5 1525.6 2014.0 1525.7 2015.5 1526.1 2017.0 1526.5 2018.5 1526.5 2020.0 1526.2 2021.5 1526.7 2023.0 1527.1 2024.5 1526.9 2026.0 1527.2 2027.5 1527.2 2029.0 1526.8 2030.5 1527.0 2032.0 1527.5 2033.5 1527.6 2035.0 1527.6 2036.5 1527.4 2038.0 1527.2 2039.5 1527.5 2041.0 1527.6 2042.5 1527.4 2044.0 1527.2 2045.5 1527.7 2047.0 1528.1 2048.5 1528.3 2050.0 1528.5 2051.5 1528.3 2053.0 1527.9 2054.5 1527.8 2056.0 1527.9 2057.5 1528.2 2059.0 1528.2 2060.5 1528.0 2062.0 1527.9 2063.5 1528.2 2065.0 1528.6 2066.5 1528.7 2068.0 1529.0 2069.5 1528.8 2071.0 1528.3 2072.5 1528.1 2074.0 1528.0 2075.5 1528.1 2077.0 1528.8 2078.5 1529.2 2080.0 1529.5 2081.5 1529.4 2083.0 1528.8 2084.5 1528.8 2086.0 1529.3 2087.5 1529.1 2089.0 1528.7 2090.5 1528.8 2092.0 1528.9 2093.5 1528.8 2095.0 1529.2 2096.5 1529.5 2098.0 1529.5 2099.5 1529.6 2101.0 1529.6 2102.5 1529.7 2104.0 1529.8 2105.5 1529.6 2107.0 1529.3 2108.5 1529.4 2110.0 1530.0 2111.5 1530.1 2113.0 1529.8 2114.5 1529.7 2116.0 1529.8 2117.5 1530.0 2119.0 1530.2 2120.5 1530.2 2122.0 1529.9 2123.5 1529.9 2125.0 1530.2 2126.5 1530.3 2128.0 1530.0 2129.5 1529.9 2131.0 1530.3 2132.5 1530.6 2134.0 1530.3 2135.5 1529.9 2137.0 1529.6 2138.5 1530.1 2140.0 1530.6 2141.5 1530.5 2143.0 1530.7 2144.5 1530.9 2146.0 1530.8 2147.5 1530.6 2149.0 1530.4 2150.5 1530.3 2152.0 1530.3 2153.5 1529.9 2155.0 1529.8 2156.5 1530.3 2158.0 1530.6 2159.5 1530.6 2161.0 1530.5 2162.5 1530.9 2164.0 1531.1 2165.5 1531.2 2167.0 1531.1 2168.5 1530.9 2170.0 1530.5 2171.5 1530.7 2173.0 1531.2 2174.5 1531.3 2176.0 1531.5 2177.5 1531.6 2179.0 1531.4 2180.5 1531.1 2182.0 1531.1 2183.5 1530.6 2185.0 1530.2 2186.5 1530.6 2188.0 1531.0 2189.5 1530.9 2191.0 1530.6 2192.5 1530.7 2194.0 1531.1 2195.5 1531.1 2197.0 1531.2 2198.5 1531.4 2200.0 1531.2 2201.5 1530.8 2203.0 1530.7 2204.5 1531.0 2206.0 1531.4 2207.5 1531.4 2209.0 1531.2 2210.5 1531.3 2212.0 1531.6 2213.5 1531.7 2215.0 1531.4 2216.5 1531.2 2218.0 1531.1 2219.5 1531.3 2221.0 1531.8 2222.5 1531.8 2224.0 1531.4 2225.5 1531.4 2227.0 1531.3 2228.5 1531.4 2230.0 1531.6 2231.5 1531.6 2233.0 1531.5 2234.5 1531.7 2236.0 1531.8 2237.5 1531.7 2239.0 1531.7 2240.5 1531.5 2242.0 1531.3 2243.5 1531.0 2245.0 1530.9 2245.0 1535.7 2243.5 1535.3 2242.0 1535.2 2240.5 1535.4 2239.0 1535.6 2237.5 1535.7 2236.0 1535.8 2234.5 1535.6 2233.0 1535.4 2231.5 1535.1 2230.0 1535.0 2228.5 1534.9 2227.0 1535.1 2225.5 1535.4 2224.0 1535.6 2222.5 1535.8 2221.0 1535.7 2219.5 1535.8 2218.0 1535.8 2216.5 1535.4 2215.0 1535.2 2213.5 1535.4 2212.0 1535.6 2210.5 1535.6 2209.0 1535.1 2207.5 1535.2 2206.0 1535.8 2204.5 1535.6 2203.0 1535.1 2201.5 1534.9 2200.0 1535.3 2198.5 1535.5 2197.0 1535.1 2195.5 1535.0 2194.0 1535.4 2192.5 1535.6 2191.0 1535.7 2189.5 1535.4 2188.0 1535.1 2186.5 1534.9 2185.0 1534.8 2183.5 1534.8 2182.0 1535.0 2180.5 1535.4 2179.0 1535.6 2177.5 1535.2 2176.0 1534.6 2174.5 1534.4 2173.0 1534.6 2171.5 1535.1 2170.0 1535.6 2168.5 1535.7 2167.0 1535.6 2165.5 1535.4 2164.0 1535.3 2162.5 1535.2 2161.0 1535.2 2159.5 1535.2 2158.0 1535.1 2156.5 1535.0 2155.0 1534.6 2153.5 1534.6 2152.0 1534.9 2150.5 1534.6 2149.0 1534.5 2147.5 1534.6 2146.0 1534.8 2144.5 1535.0 2143.0 1535.1 2141.5 1535.1 2140.0 1534.8 2138.5 1534.9 2137.0 1534.9 2135.5 1534.8 2134.0 1534.5 2132.5 1534.4 2131.0 1535.0 2129.5 1535.2 2128.0 1534.6 2126.5 1534.6 2125.0 1534.7 2123.5 1534.4 2122.0 1534.5 2120.5 1534.3 2119.0 1534.1 2117.5 1534.4 2116.0 1534.6 2114.5 1534.8 2113.0 1534.7 2111.5 1534.1 2110.0 1533.7 2108.5 1533.7 2107.0 1533.6 2105.5 1534.0 2104.0 1534.3 2102.5 1534.0 2101.0 1533.6 2099.5 1533.7 2098.0 1533.8 2096.5 1533.4 2095.0 1533.0 2093.5 1533.0 2092.0 1533.3 2090.5 1533.4 2089.0 1533.3 2087.5 1533.5 2086.0 1533.7 2084.5 1533.9 2083.0 1534.0 2081.5 1533.8 2080.0 1533.7 2078.5 1533.2 2077.0 1532.7 2075.5 1532.7 2074.0 1533.1 2072.5 1533.4 2071.0 1533.4 2069.5 1533.3 2068.0 1533.4 2066.5 1533.4 2065.0 1533.4 2063.5 1533.4 2062.0 1533.2 2060.5 1532.9 2059.0 1532.5 2057.5 1532.3 2056.0 1532.5 2054.5 1533.0 2053.0 1533.5 2051.5 1533.4 2050.0 1532.8 2048.5 1532.4 2047.0 1532.1 2045.5 1531.7 2044.0 1531.6 2042.5 1531.7 2041.0 1532.1 2039.5 1532.5 2038.0 1532.8 2036.5 1532.8 2035.0 1532.1 2033.5 1531.4 2032.0 1531.6 2030.5 1532.2 2029.0 1532.2 2027.5 1532.1 2026.0 1532.4 2024.5 1532.1 2023.0 1531.3 2021.5 1531.3 2020.0 1532.0 2018.5 1532.3 2017.0 1532.0 2015.5 1531.7 2014.0 1531.6 2012.5 1531.7 2011.0 1531.8 2009.5 1531.5 2008.0 1531.7 2006.5 1531.5 2005.0 1530.8 2003.5 1530.6 2002.0 1530.5 2000.5 1530.5 1999.0 1530.6 1997.5 1530.7 1996.0 1530.6 1994.5 1529.9 1993.0 1529.8 1991.5 1530.4 1990.0 1530.5 1988.5 1530.1 1987.0 1530.2 1985.5 1530.5 1984.0 1530.2 1982.5 1529.4 1981.0 1528.9 1979.5 1528.7 1978.0 1529.1 1976.5 1529.5 1975.0 1529.1 1973.5 1528.9 1972.0 1529.7 1970.5 1529.7 1969.0 1529.1 1967.5 1529.1 1966.0 1529.4 1964.5 1529.3 1963.0 1528.6 1961.5 1528.3 1960.0 1528.5 1958.5 1528.4 1957.0 1528.4 1955.5 1528.9 1954.0 1529.3 1952.5 1529.3 1951.0 1528.8 1949.5 1528.2 1948.0 1528.6 1946.5 1529.1 1945.0 1528.6 1943.5 1527.7 1942.0 1527.4 1940.5 1527.3 1939.0 1527.3 1937.5 1527.7 1936.0 1527.9 1934.5 1527.8 1933.0 1527.7 1931.5 1527.7 1930.0 1527.6 1928.5 1527.4 1927.0 1527.2 1925.5 1526.6 1924.0 1526.2 1922.5 1526.5 1921.0 1527.0 1919.5 1527.5 1918.0 1527.5 1916.5 1526.9 1915.0 1526.6 1913.5 1526.9 1912.0 1526.7 1910.5 1526.1 1909.0 1526.2 1907.5 1526.6 1906.0 1526.6 1904.5 1526.0 1903.0 1525.3 1901.5 1525.5 1900.0 1526.2 1898.5 1526.2 1897.0 1525.5 1895.5 1524.7 1894.0 1524.3 1892.5 1524.6 1891.0 1525.1 1889.5 1524.9 1888.0 1524.4 1886.5 1524.3 1885.0 1524.1 1883.5 1524.4 1882.0 1524.7 1880.5 1524.2 1879.0 1524.2 1877.5 1524.3 1876.0 1524.0 1874.5 1523.7 1873.0 1523.6 1871.5 1523.4 1870.0 1523.3 1868.5 1522.9 1867.0 1522.6 1865.5 1522.7 1864.0 1522.8 1862.5 1522.7 1861.0 1522.2 1859.5 1521.3 1858.0 1521.2 1856.5 1521.4 1855.0 1520.9 1853.5 1520.4 1852.0 1520.0 1850.5 1519.4 1849.0 1519.0 1847.5 1518.7 1846.0 1519.0 1844.5 1519.1 1843.0 1518.8 1841.5 1518.9 1840.0 1518.6 1838.5 1517.6 1837.0 1517.5 1835.5 1518.0 1834.0 1517.6 1832.5 1517.4 1831.0 1517.3 1829.5 1517.0 1828.0 1517.2 1826.5 1517.1 1825.0 1516.6 1823.5 1516.7 1822.0 1517.1 1820.5 1516.5 1819.0 1515.7 1817.5 1515.7 1816.0 1515.6 1814.5 1515.2 1813.0 1515.0 1811.5 1515.5 1810.0 1515.8 1808.5 1515.2 1807.0 1514.7 1805.5 1514.3 1804.0 1513.8 1802.5 1514.2 1801.0 1514.3 1799.5 1513.6 1798.0 1513.7 1796.5 1513.9 1795.0 1513.5 1793.5 1513.4 1792.0 1513.0 1790.5 1511.7 1789.0 1511.2 1787.5 1511.6 1786.0 1512.3 1784.5 1512.5 1783.0 1512.3 1781.5 1512.0 1780.0 1511.1 1778.5 1510.0 1777.0 1509.8 1775.5 1509.8 1774.0 1509.3 1772.5 1509.6 1771.0 1510.4 1769.5 1510.4 1768.0 1510.6 1766.5 1510.0 1765.0 1509.0 1763.5 1509.5 1762.0 1509.9 1760.5 1509.5 1759.0 1508.9 1757.5 1508.4 1756.0 1508.3 1754.5 1507.9 1753.0 1507.3 1751.5 1507.5 1750.0 1507.3 1748.5 1506.7 1747.0 1507.0 1745.5 1506.8 1744.0 1505.9 1742.5 1505.6 1741.0 1505.3 1739.5 1505.3 1738.0 1505.7 1736.5 1505.4 1735.0 1504.6 1733.5 1504.5 1732.0 1504.2 1730.5 1504.0 1729.0 1504.3 1727.5 1504.0 1726.0 1503.6 1724.5 1503.8 1723.0 1503.6 1721.5 1502.5 1720.0 1501.9 1718.5 1502.0 1717.0 1501.8 1715.5 1501.4 1714.0 1501.0 1712.5 1500.4 1711.0 1499.4 1709.5 1499.0 1708.0 1499.6 1706.5 1499.6 1705.0 1498.8 1703.5 1497.5 1702.0 1496.9 1700.5 1496.5 1699.0 1495.5 1697.5 1494.9 1696.0 1494.2 1694.5 1493.7 1693.0 1494.5 1691.5 1495.0 1690.0 1493.8 1688.5 1492.7 1687.0 1492.7 1685.5 1491.8 1684.0 1491.2 1682.5 1491.7 1681.0 1490.7 1679.5 1490.0 1678.0 1491.0 1676.5 1491.1 1675.0 1490.0 1673.5 1489.4 1672.0 1488.8 1670.5 1487.5 1669.0 1487.2 1667.5 1487.9 1666.0 1487.6 1664.5 1486.2 1663.0 1484.8 1661.5 1485.0 1660.0 1485.3 1658.5 1484.0 1657.0 1482.9 1655.5 1482.2 1654.0 1481.5 1652.5 1481.0 1651.0 1480.5 1649.5 1480.5 1648.0 1480.7 1646.5 1480.6 1645.0 1480.5 1643.5 1480.8 1642.0 1480.5 1640.5 1480.0 1639.0 1479.7 1637.5 1479.0 1636.0 1478.0 1634.5 1476.8 1633.0 1476.0 1631.5 1476.6 1630.0 1477.0 1628.5 1476.0 1627.0 1474.8 1625.5 1474.6 1624.0 1474.6 1622.5 1473.7 1621.0 1473.2 1619.5 1473.3 1618.0 1472.8 1616.5 1472.9 1615.0 1473.3 1613.5 1472.1 1612.0 1470.1 1610.5 1468.3 1609.0 1468.0 1607.5 1468.7 1606.0 1468.4 1604.5 1467.3 1603.0 1466.9 1601.5 1466.1 1600.0 1464.4 1598.5 1464.0 1597.0 1464.3 1595.5 1464.4 1594.0 1464.3 1592.5 1463.5 1591.0 1462.9 1589.5 1463.1 1588.0 1462.9 1586.5 1461.6 1585.0 1460.5 1583.5 1460.4 1582.0 1459.7 1580.5 1458.4 1579.0 1457.4 1577.5 1457.2 1576.0 1457.7 1574.5 1457.6 1573.0 1456.8 1571.5 1455.2 1570.0 1452.8 1568.5 1451.1 1567.0 1450.7 1565.5 1450.2 1564.0 1449.1 1562.5 1448.3 1561.0 1447.3 1559.5 1446.3 1558.0 1445.8 1556.5 1444.7 1555.0 1443.2 1553.5 1442.2 1552.0 1442.2 1550.5 1442.0 1549.0 1440.5 1547.5 1439.9 1546.0 1439.9 1544.5 1439.2 1543.0 1438.6 1541.5 1437.1 1540.0 1435.5 1538.5 1435.8 1537.0 1436.0 1535.5 1435.3 1534.0 1434.8 1532.5 1433.0 1531.0 1430.3 1529.5 1429.8 1528.0 1430.4 1526.5 1429.5 1525.0 1429.6 1523.5 1430.1 1522.0 1428.7 1520.5 1426.4 1519.0 1425.4 1517.5 1425.3 1516.0 1424.0 1514.5 1423.8 1513.0 1424.5 1511.5 1424.1 1510.0 1422.9 1508.5 1421.8 1507.0 1421.1 1505.5 1420.6 1504.0 1419.9 1502.5 1419.3 1501.0 1419.0 1499.5 1418.5 1498.0 1417.9 1496.5 1416.1 1495.0 1414.6 1493.5 1415.3 1492.0 1416.2 1490.5 1415.1 1489.0 1413.5 1487.5 1412.9 1486.0 1412.8 1484.5 1411.7 1483.0 1409.4 1481.5 1408.4 1480.0 1408.4 1478.5 1407.9 1477.0 1407.5 1475.5 1406.7 1474.0 1405.8 1472.5 1404.3 1471.0 1403.6 1469.5 1404.9 1468.0 1405.0 1466.5 1403.1 1465.0 1400.7 1463.5 1400.0 1462.0 1400.2 1460.5 1398.6 1459.0 1397.9 1457.5 1398.2 1456.0 1396.5 1454.5 1394.3 1453.0 1393.5 1451.5 1394.0 1450.0 1395.0 1448.5 1394.2 1447.0 1391.4 1445.5 1390.7 1444.0 1392.0 1442.5 1392.1 1441.0 1391.4 1439.5 1390.3 1438.0 1389.8 1436.5 1389.1 1435.0 1387.4 1433.5 1385.6 1432.0 1384.3 1430.5 1384.3 1429.0 1385.1 1427.5 1384.5 1426.0 1382.3 1424.5 1381.5 1423.0 1382.1 1421.5 1381.0 1420.0 1379.0 1418.5 1378.1 1417.0 1377.0 1415.5 1376.0 1414.0 1374.8 1412.5 1373.1 1411.0 1372.4 1409.5 1370.7 1408.0 1366.9 1406.5 1363.8 1405.0 1363.0 1403.5 1362.4 1402.0 1359.3 1400.5 1355.6 1399.0 1353.6 1397.5 1351.6 1396.0 1348.8 1394.5 1346.0 1393.0 1342.2 1391.5 1337.3 1390.0 1332.5 1388.5 1326.8 1387.0 1319.8 1385.5 1314.9 1384.0 1311.4 1382.5 1306.4 1381.0 1301.2 1379.5 1297.6 1378.0 1295.8 1376.5 1295.1 1375.0 1295.7 1373.5 1298.2 1372.0 1302.4 1370.5 1308.0 1369.0 1312.9 1367.5 1315.2 1366.0 1319.2 1364.5 1325.8 1363.0 1331.2 1361.5 1334.8 1360.0 1335.5 1358.5 1334.3 1357.0 1335.7 1355.5 1337.4 1354.0 1337.1 1352.5 1336.8 1351.0 1336.9 1349.5 1338.7 1348.0 1339.3 1346.5 1337.0 1345.0 1336.4 1343.5 1337.5 1342.0 1337.7 1340.5 1338.1 1339.0 1338.7 1337.5 1337.5 1336.0 1336.1 1334.5 1335.2 1333.0 1333.9 1331.5 1333.4 1330.0 1333.2 1328.5 1331.5 1327.0 1328.2 1325.5 1326.6 1324.0 1327.6 1322.5 1326.8 1321.0 1324.6 1319.5 1323.6 1318.0 1322.0 1316.5 1319.3 1315.0 1317.9 1313.5 1317.4 1312.0 1316.0 1310.5 1313.8 1309.0 1312.5 1307.5 1311.5 1306.0 1310.4 1304.5 1311.0 1303.0 1310.7 1301.5 1309.6 1300.0 1308.0 1298.5 1304.3 1297.0 1300.7 1295.5 1299.2 1294.0 1299.1 1292.5 1299.5 1291.0 1298.3 1289.5 1295.6 1288.0 1293.6 1286.5 1293.9 1285.0 1294.1 1283.5 1291.7 1282.0 1290.1 1280.5 1289.2 1279.0 1287.2 1277.5 1285.4 1276.0 1284.7 1274.5 1284.8 1273.0 1285.4 1271.5 1285.2 1270.0 1283.0 1268.5 1280.2 1267.0 1279.6 1265.5 1278.6 1264.0 1276.3 1262.5 1277.0 1261.0 1276.4 1259.5 1273.4 1258.0 1272.2 1256.5 1270.1 1255.0 1266.5 1253.5 1266.0 1252.0 1267.6 1250.5 1266.8 1249.0 1262.8 1247.5 1259.7 1246.0 1259.2 1244.5 1257.4 1243.0 1253.9 1241.5 1250.4 1240.0 1246.1 1238.5 1242.4 1237.0 1240.6 1235.5 1240.0 1234.0 1238.9 1232.5 1237.3 1231.0 1235.1 1229.5 1233.4 1228.0 1233.7 1226.5 1233.8 1225.0 1232.3 1223.5 1230.3 1222.0 1229.1 1220.5 1228.7 1219.0 1228.5 1217.5 1227.4 1216.0 1226.6 1214.5 1226.6 1213.0 1226.1 1211.5 1225.5 1210.0 1223.0 1208.5 1219.8 1207.0 1219.0 1205.5 1219.1 1204.0 1219.3 1202.5 1218.3 1201.0 1216.6 1199.5 1214.9 1198.0 1213.1 1196.5 1212.3 1195.0 1210.2 1193.5 1208.4 1192.0 1209.1 1190.5 1209.8 1189.0 1209.6 1187.5 1209.0 1186.0 1206.7 1184.5 1204.6 1183.0 1203.1 1181.5 1201.1 1180.0 1200.6 1178.5 1199.7 1177.0 1198.7 1175.5 1198.0 1174.0 1194.9 1172.5 1193.8 1171.0 1195.5 1169.5 1194.4 1168.0 1190.9 1166.5 1188.6 1165.0 1188.1 1163.5 1187.3 1162.0 1186.4 1160.5 1187.3 1159.0 1187.0 1157.5 1183.4 1156.0 1179.6 1154.5 1177.9 1153.0 1177.8 1151.5 1177.7 1150.0 1177.1 1148.5 1175.7 1147.0 1175.5 1145.5 1175.0 1144.0 1173.3 1142.5 1173.1 1141.0 1173.1 1139.5 1171.0 1138.0 1167.8 1136.5 1164.6 1135.0 1161.8 1133.5 1162.0 1132.0 1161.3 1130.5 1157.1 1129.0 1156.3 1127.5 1157.0 1126.0 1155.4 1124.5 1155.2 1123.0 1153.6 1121.5 1150.9 1120.0 1150.2 1118.5 1149.4 1117.0 1147.6 1115.5 1146.2 1114.0 1146.2 1112.5 1144.2 1111.0 1141.9 1109.5 1143.0 1108.0 1143.1 1106.5 1141.0 1105.0 1140.3 1103.5 1140.3 1102.0 1137.6 1100.5 1135.0 1099.0 1135.5 1097.5 1136.6 1096.0 1135.8 1094.5 1133.8 1093.0 1130.7 1091.5 1129.8 1090.0 1131.0 1088.5 1128.6 1087.0 1125.3 1085.5 1124.6 1084.0 1123.0 1082.5 1121.4 1081.0 1122.1 1079.5 1121.4 1078.0 1119.7 1076.5 1120.8 1075.0 1122.3 1073.5 1120.8 1072.0 1121.9 1070.5 1126.7 1069.0 1129.0 1067.5 1129.7 1066.0 1131.4 1064.5 1132.5 1063.0 1133.5 1061.5 1133.5 1060.0 1131.4 1058.5 1130.0 1057.0 1130.6 1055.5 1131.1 1054.0 1130.2 1052.5 1127.2 1051.0 1122.2 1049.5 1119.2 1048.0 1118.6 1046.5 1116.3 1045.0 1114.6 1043.5 1113.8 1042.0 1111.9 1040.5 1111.5 1039.0 1112.9 1037.5 1115.6 1036.0 1119.9 1034.5 1122.3 1033.0 1122.5 1031.5 1125.7 1030.0 1130.2 1028.5 1131.8 1027.0 1130.7 1025.5 1130.6 1024.0 1132.1 1022.5 1131.5 1021.0 1132.0 1019.5 1134.4 1018.0 1134.0 1016.5 1132.7 1015.0 1131.5 1013.5 1130.9 1012.0 1131.6 1010.5 1131.3 1009.0 1129.0 1007.5 1126.7 1006.0 1125.7 1004.5 1123.5 1003.0 1122.8 1001.5 1125.5 1000.0 1125.7 998.5 1123.5 997.0 1121.4 995.5 1119.3 994.0 1119.5 992.5 1119.9 991.0 1118.8 989.5 1119.0 988.0 1118.8 986.5 1117.1 985.0 1116.5 983.5 1116.6 982.0 1116.7 980.5 1117.5 979.0 1117.2 977.5 1115.9 976.0 1115.4 974.5 1114.0 973.0 1112.5 971.5 1110.9 970.0 1108.1 968.5 1106.8 967.0 1105.7 965.5 1103.9 964.0 1104.7 962.5 1106.6 961.0 1106.2 959.5 1104.6 958.0 1102.2 956.5 1099.0 955.0 1099.0 953.5 1101.9 952.0 1103.2 950.5 1102.3 949.0 1101.2 947.5 1101.7 946.0 1102.6 944.5 1103.8 943.0 1107.2 941.5 1111.4 940.0 1114.1 938.5 1115.8 937.0 1118.6 935.5 1122.5 934.0 1125.3 932.5 1125.5 931.0 1126.5 929.5 1130.5 928.0 1134.9 926.5 1137.2 925.0 1137.9 923.5 1138.0 922.0 1138.2 920.5 1137.7 919.0 1138.7 917.5 1140.8 916.0 1141.3 914.5 1141.3 913.0 1140.5 911.5 1141.2 910.0 1143.9 908.5 1146.8 907.0 1148.4 905.5 1148.6 904.0 1150.0 902.5 1151.7 901.0 1151.3 899.5 1150.5 898.0 1152.6 896.5 1156.3 895.0 1158.7 893.5 1159.0 892.0 1158.2 890.5 1159.0 889.0 1161.7 887.5 1162.2 886.0 1160.9 884.5 1161.3 883.0 1161.0 881.5 1161.3 880.0 1162.5 878.5 1161.3 877.0 1159.9 875.5 1160.0 874.0 1161.5 872.5 1163.9 871.0 1164.4 869.5 1164.2 868.0 1163.4 866.5 1161.6 865.0 1161.3 863.5 1161.6 862.0 1162.2 860.5 1163.0 859.0 1161.0 857.5 1158.0 856.0 1157.7 854.5 1156.1 853.0 1153.1 851.5 1150.1 850.0 1147.5 848.5 1146.8 847.0 1145.1 845.5 1139.9 844.0 1132.9 842.5 1126.5 841.0 1121.1 839.5 1118.5 838.0 1121.0 836.5 1127.0 835.0 1134.1 833.5 1141.5 832.0 1149.0 830.5 1154.7 829.0 1159.0 827.5 1164.6 826.0 1170.7 824.5 1174.8 823.0 1177.2 821.5 1177.9 820.0 1179.4 818.5 1183.4 817.0 1185.5 815.5 1185.0 814.0 1187.2 812.5 1191.8 811.0 1194.6 809.5 1195.1 808.0 1194.3 806.5 1193.5 805.0 1194.5 803.5 1196.8 802.0 1198.0 800.5 1198.5 799.0 1200.0 797.5 1202.5 796.0 1205.6 794.5 1207.3 793.0 1206.3 791.5 1206.7 790.0 1208.9 788.5 1210.0 787.0 1211.8 785.5 1213.2 784.0 1213.7 782.5 1215.4 781.0 1216.7 779.5 1217.2 778.0 1217.7 776.5 1218.3 775.0 1218.0 773.5 1218.1 772.0 1220.4 770.5 1222.1 769.0 1222.1 767.5 1222.0 766.0 1221.9 764.5 1221.7 763.0 1222.3 761.5 1223.4 760.0 1222.8 758.5 1221.3 757.0 1220.8 755.5 1222.1 754.0 1223.1 752.5 1222.1 751.0 1220.6 749.5 1220.4 748.0 1221.2 746.5 1222.8 745.0 1225.2 743.5 1225.2 742.0 1224.0 740.5 1225.9 739.0 1228.7 737.5 1229.9 736.0 1233.1 734.5 1236.0 733.0 1236.9 731.5 1238.5 730.0 1238.8 728.5 1238.2 727.0 1239.9 725.5 1242.8 724.0 1245.1 722.5 1246.2 721.0 1247.1 719.5 1249.8 718.0 1251.9 716.5 1251.4 715.0 1251.8 713.5 1252.6 712.0 1251.9 710.5 1252.8 709.0 1254.5 707.5 1254.8 706.0 1254.4 704.5 1255.0 703.0 1257.3 701.5 1258.2 700.0 1258.2 698.5 1259.2 697.0 1259.9 695.5 1261.6 694.0 1263.1 692.5 1263.2 691.0 1262.4 689.5 1262.7 688.0 1264.5 686.5 1265.4 685.0 1266.0 683.5 1266.4 682.0 1267.0 680.5 1267.2 679.0 1266.5 677.5 1267.3 676.0 1269.8 674.5 1272.1 673.0 1272.8 671.5 1271.9 670.0 1270.8 668.5 1271.1 667.0 1272.7 665.5 1273.7 664.0 1273.9 662.5 1273.4 661.0 1273.2 659.5 1275.2 658.0 1277.1 656.5 1277.0 655.0 1277.0 653.5 1277.5 652.0 1278.4 650.5 1279.1 649.0 1278.9 647.5 1279.2 646.0 1280.3 644.5 1281.1 643.0 1281.5 641.5 1282.2 640.0 1283.4 638.5 1284.2 637.0 1285.4 635.5 1285.3 634.0 1283.4 632.5 1283.7 631.0 1286.0 629.5 1287.7 628.0 1287.9 626.5 1287.0 625.0 1287.7 623.5 1289.8 622.0 1290.8 620.5 1290.1 619.0 1288.8 617.5 1292.6 616.0 1301.6 614.5 1310.2 613.0 1316.7 611.5 1324.5 610.0 1330.9 608.5 1333.5 607.0 1334.3 605.5 1334.3 604.0 1333.0 602.5 1331.9 601.0 1333.3 599.5 1334.4 598.0 1333.4 596.5 1332.9 595.0 1333.9 593.5 1335.4 592.0 1336.4 590.5 1336.5 589.0 1336.2 587.5 1336.2 586.0 1336.6 584.5 1336.7 583.0 1336.7 581.5 1336.5 580.0 1336.0 578.5 1335.9 577.0 1336.3 575.5 1337.1 574.0 1338.3 572.5 1337.9 571.0 1336.2 569.5 1336.2 568.0 1338.5 566.5 1340.8 565.0 1341.6 563.5 1343.3 562.0 1345.7 560.5 1348.2 559.0 1351.6 557.5 1354.0 556.0 1354.8 554.5 1356.3 553.0 1359.5 551.5 1362.2 550.0 1363.0 548.5 1364.3 547.0 1366.3 545.5 1368.7 544.0 1372.0 542.5 1374.1 541.0 1375.1 539.5 1377.5 538.0 1381.1 536.5 1383.8 535.0 1385.5 533.5 1387.9 532.0 1389.6 530.5 1390.9 529.0 1392.8 527.5 1394.2 526.0 1395.6 524.5 1396.8 523.0 1396.3 521.5 1393.2 520.0 1389.3 518.5 1386.2 517.0 1382.5 515.5 1374.7 514.0 1363.0 512.5 1349.6 511.0 1330.9 509.5 1301.8 508.0 1277.5 506.5 1272.9 505.0 1284.7 503.5 1298.8 502.0 1313.8 500.5 1329.8 499.0 1344.5 497.5 1356.9 496.0 1370.4 494.5 1384.5 493.0 1396.2 491.5 1405.9 490.0 1414.9 488.5 1422.2 487.0 1428.9 485.5 1435.5 484.0 1441.2 482.5 1447.4 481.0 1453.7 479.5 1457.8 478.0 1460.7 476.5 1464.2 475.0 1468.0 473.5 1470.9 472.0 1472.6 470.5 1474.4 469.0 1476.4 467.5 1477.2 466.0 1478.3 464.5 1480.0 463.0 1481.2 461.5 1482.5 460.0 1484.6 458.5 1485.6 457.0 1485.0 455.5 1485.5 454.0 1487.1 452.5 1488.0 451.0 1488.7 449.5 1489.8 448.0 1491.4 446.5 1492.7 445.0 1493.2 443.5 1494.0 442.0 1496.0 440.5 1497.7 439.0 1498.8 437.5 1499.8 436.0 1500.6 434.5 1501.1 433.0 1502.8 431.5 1505.0 430.0 1505.7 428.5 1505.9 427.0 1507.5 425.5 1509.1 424.0 1509.6 422.5 1509.9 421.0 1510.8 419.5 1511.6 418.0 1512.4 416.5 1514.0 415.0 1515.3 413.5 1515.9 412.0 1516.1 410.5 1516.0 409.0 1516.1 407.5 1516.0 406.0 1516.0 404.5 1516.9 403.0 1517.6 401.5 1517.9 400.0 1518.6 398.5 1519.7 397.0 1520.7 395.5 1521.0 394.0 1521.6 392.5 1522.8 391.0 1523.3 389.5 1523.9 388.0 1525.1 386.5 1526.3 385.0 1527.2 383.5 1527.4 382.0 1527.8 380.5 1529.2 379.0 1530.7 377.5 1531.7 376.0 1531.8 374.5 1531.6 373.0 1531.7 371.5 1532.2 370.0 1532.6 368.5 1532.4 367.0 1532.6 365.5 1533.3 364.0 1533.5 362.5 1533.4 361.0 1533.5 359.5 1533.9 358.0 1534.5 356.5 1534.4 355.0 1534.1 353.5 1534.4 352.0 1534.7 350.5 1535.2 349.0 1535.2 347.5 1534.2 346.0 1534.4 344.5 1535.7 343.0 1536.3 341.5 1536.3 340.0 1536.1 338.5 1535.3 337.0 1535.5 335.5 1536.1 334.0 1536.1 332.5 1536.2 331.0 1536.4 329.5 1536.7 328.0 1536.7 326.5 1537.0 325.0 1537.2 323.5 1537.6 322.0 1537.8 320.5 1537.7 319.0 1537.9 317.5 1538.2 316.0 1538.4 314.5 1538.5 313.0 1538.1 311.5 1537.6 310.0 1537.7 308.5 1537.7 307.0 1537.5 305.5 1537.7 304.0 1538.0 302.5 1537.9 301.0 1538.3 299.5 1538.7 298.0 1538.5 296.5 1538.6 295.0 1538.8 293.5 1538.8 292.0 1538.5 290.5 1539.0 289.0 1539.3 287.5 1538.8 286.0 1538.3 284.5 1537.8 283.0 1537.5 281.5 1537.7 280.0 1538.3 278.5 1538.4 277.0 1538.5 275.5 1539.0 274.0 1539.0 272.5 1538.6 271.0 1538.4 269.5 1538.9 268.0 1539.0 266.5 1538.4 265.0 1538.2 263.5 1538.9 262.0 1539.7 260.5 1539.7 259.0 1539.0 257.5 1538.5 256.0 1538.1 254.5 1538.0 253.0 1538.8 251.5 1539.9 250.0 1540.3 248.5 1540.0 247.0 1539.0 245.5 1538.5 244.0 1538.9 242.5 1538.8 241.0 1539.0 239.5 1539.8 238.0 1539.7 236.5 1539.1 235.0 1539.3 233.5 1539.8 232.0 1539.3 230.5 1538.1 229.0 1537.8 227.5 1538.1 226.0 1538.0 224.5 1537.8 223.0 1537.7 221.5 1537.7 220.0 1537.4 218.5 1537.5 217.0 1537.8 215.5 1537.2 214.0 1536.6 212.5 1536.7 211.0 1537.2 209.5 1537.9 208.0 1538.2Z" fill="#ff0000" stroke="#ff0000" stroke-width="2.0" stroke-linejoin="round"/>
<defs><linearGradient id="sp" x1="0" y1="0" x2="0" y2="1"><stop offset="0" stop-color="#d27070"/><stop offset="0.5" stop-color="#d85a5a"/><stop offset="1" stop-color="#dc3a30"/></linearGradient></defs>
<rect x="379.3" y="72" width="5.4" height="1452" fill="url(#sp)"/>
<line x1="508" y1="887" x2="508" y2="1550" stroke="#111" stroke-width="5.5" stroke-dasharray="12 11.9"/>
<line x1="842.3" y1="574.6" x2="842.3" y2="1560" stroke="#111" stroke-width="5.5" stroke-dasharray="12 11.9"/>
<line x1="1379.3" y1="855.4" x2="1379.3" y2="1555" stroke="#111" stroke-width="5.5" stroke-dasharray="12 11.9"/>
<line x1="207.2" y1="43.25" x2="207.2" y2="1562.75" stroke="#2a2a2a" stroke-width="5.5"/>
<line x1="204.45" y1="46.0" x2="2250.75" y2="46.0" stroke="#0a0a0a" stroke-width="5.5"/>
<line x1="204.45" y1="1560.0" x2="2250.75" y2="1560.0" stroke="#111" stroke-width="5.5"/>
<line x1="234.4" y1="1560.0" x2="234.4" y2="1577" stroke="#111" stroke-width="5.5"/>
<line x1="368.5" y1="1560.0" x2="368.5" y2="1592" stroke="#111" stroke-width="5.5"/>
<text x="368.5" y="1671" font-family="Liberation Sans, Arial, sans-serif" font-weight="bold" font-size="78" text-anchor="middle">550</text>
<line x1="502.6" y1="1560.0" x2="502.6" y2="1577" stroke="#111" stroke-width="5.5"/>
<line x1="636.8" y1="1560.0" x2="636.8" y2="1592" stroke="#111" stroke-width="5.5"/>
<text x="636.8" y="1671" font-family="Liberation Sans, Arial, sans-serif" font-weight="bold" font-size="78" text-anchor="middle">600</text>
<line x1="770.9" y1="1560.0" x2="770.9" y2="1577" stroke="#111" stroke-width="5.5"/>
<line x1="905.1" y1="1560.0" x2="905.1" y2="1592" stroke="#111" stroke-width="5.5"/>
<text x="905.1" y="1671" font-family="Liberation Sans, Arial, sans-serif" font-weight="bold" font-size="78" text-anchor="middle">650</text>
<line x1="1039.2" y1="1560.0" x2="1039.2" y2="1577" stroke="#111" stroke-width="5.5"/>
<line x1="1173.4" y1="1560.0" x2="1173.4" y2="1592" stroke="#111" stroke-width="5.5"/>
<text x="1173.4" y="1671" font-family="Liberation Sans, Arial, sans-serif" font-weight="bold" font-size="78" text-anchor="middle">700</text>
<line x1="1307.5" y1="1560.0" x2="1307.5" y2="1577" stroke="#111" stroke-width="5.5"/>
<line x1="1441.6" y1="1560.0" x2="1441.6" y2="1592" stroke="#111" stroke-width="5.5"/>
<text x="1441.6" y="1671" font-family="Liberation Sans, Arial, sans-serif" font-weight="bold" font-size="78" text-anchor="middle">750</text>
<line x1="1575.8" y1="1560.0" x2="1575.8" y2="1577" stroke="#111" stroke-width="5.5"/>
<line x1="1709.9" y1="1560.0" x2="1709.9" y2="1592" stroke="#111" stroke-width="5.5"/>
<text x="1709.9" y="1671" font-family="Liberation Sans, Arial, sans-serif" font-weight="bold" font-size="78" text-anchor="middle">800</text>
<line x1="1844.1" y1="1560.0" x2="1844.1" y2="1577" stroke="#111" stroke-width="5.5"/>
<line x1="1978.2" y1="1560.0" x2="1978.2" y2="1592" stroke="#111" stroke-width="5.5"/>
<text x="1978.2" y="1671" font-family="Liberation Sans, Arial, sans-serif" font-weight="bold" font-size="78" text-anchor="middle">850</text>
<line x1="2112.4" y1="1560.0" x2="2112.4" y2="1577" stroke="#111" stroke-width="5.5"/>
<line x1="2246.5" y1="1560.0" x2="2246.5" y2="1592" stroke="#111" stroke-width="5.5"/>
<text x="2246.5" y="1671" font-family="Liberation Sans, Arial, sans-serif" font-weight="bold" font-size="78" text-anchor="middle">900</text>
<text transform="translate(1227.7 1814) scale(0.962 1)" font-family="Liberation Sans, Arial, sans-serif" font-weight="bold" font-size="89.3" text-anchor="middle">Wavelength (nm)</text>
<text transform="translate(106.5 789.8) rotate(-90) scale(0.955 1)" font-family="Liberation Sans, Arial, sans-serif" font-weight="bold" font-size="89.3" text-anchor="middle">PL Intensity (a.u.)</text>
<text transform="translate(531 835) rotate(-90) scale(0.962 1)" font-family="Liberation Serif, Times New Roman, serif" font-size="82.5">575 (NV<tspan dy="-39" font-size="60">0</tspan><tspan dy="39">)</tspan></text>
<text transform="translate(866 531) rotate(-90) scale(0.962 1)" font-family="Liberation Serif, Times New Roman, serif" font-size="82.5">637 (NV<tspan dy="-39" font-size="60">-</tspan><tspan dy="39">)</tspan></text>
<text transform="translate(1400.4 806) rotate(-90) scale(0.962 1)" font-family="Liberation Serif, Times New Roman, serif" font-size="82.5">738 (SiV<tspan dy="-39" font-size="60">-</tspan><tspan dy="39">)</tspan></text>
<rect x="1816.7" y="46.3" width="430.8" height="428.2" fill="#fff"/>
<line x1="1814" y1="45.6" x2="2247" y2="45.6" stroke="#111" stroke-width="3.5"/>
<line x1="1816.7" y1="47.5" x2="1816.7" y2="476" stroke="#9b9b9b" stroke-width="5"/>
<line x1="1814.2" y1="474.5" x2="2247" y2="474.5" stroke="#444" stroke-width="3.2"/>
<line x1="2248.0" y1="43.25" x2="2248.0" y2="1592" stroke="#1e1e1e" stroke-width="5.5"/>
<line x1="1846.7" y1="104.6" x2="2038" y2="104.6" stroke="#9b3aaa" stroke-width="5.5"/>
<text x="2059" y="133.0" font-family="Liberation Sans, Arial, sans-serif" font-weight="bold" font-size="86">6%</text>
<line x1="1846.7" y1="212.0" x2="2038" y2="212.0" stroke="#5a4bff" stroke-width="5.5"/>
<text x="2059" y="240.6" font-family="Liberation Sans, Arial, sans-serif" font-weight="bold" font-size="86">8%</text>
<line x1="1846.7" y1="319.4" x2="2038" y2="319.4" stroke="#f0a040" stroke-width="5.5"/>
<text x="2059" y="348.2" font-family="Liberation Sans, Arial, sans-serif" font-weight="bold" font-size="86">10%</text>
<line x1="1846.7" y1="426.8" x2="2038" y2="426.8" stroke="#c63a46" stroke-width="5.5"/>
<text x="2059" y="455.8" font-family="Liberation Sans, Arial, sans-serif" font-weight="bold" font-size="86">12%</text>
</svg>
</body></html>
